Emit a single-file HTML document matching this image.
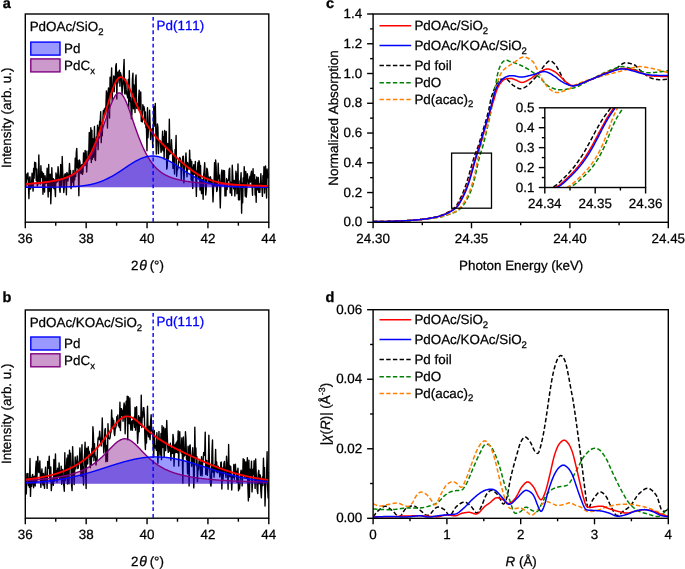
<!DOCTYPE html>
<html><head><meta charset="utf-8"><style>
html,body{margin:0;padding:0;background:#fff;}
body{width:685px;height:569px;overflow:hidden;font-family:"Liberation Sans", sans-serif;}
svg{display:block;will-change:transform;font-kerning:none;font-feature-settings:"kern" 0;}
text{font-kerning:none;text-rendering:geometricPrecision;}
</style></head><body>
<svg width="685" height="569" viewBox="0 0 685 569" font-family='"Liberation Sans", sans-serif'>
<defs><clipPath id="clipab0"><rect x="25.3" y="14" width="243.5" height="208.2"/></clipPath><clipPath id="clipab1"><rect x="25.3" y="310" width="243.5" height="208.2"/></clipPath><clipPath id="clipc"><rect x="373.1" y="14" width="295.2" height="208.3"/></clipPath><clipPath id="clipi"><rect x="544.8" y="107.8" width="100.8" height="79.7"/></clipPath><clipPath id="clipd"><rect x="373.1" y="309.7" width="295.2" height="208.6"/></clipPath></defs>
<rect width="685" height="569" fill="#fff"/>
<g clip-path="url(#clipab0)">
<path d="M25.3,184.03 L25.82,187.3 L26.34,180.91 L26.86,174.03 L27.38,178.83 L27.9,172.83 L28.42,184.47 L28.94,198.65 L29.46,178.26 L29.98,176.8 L30.5,189.09 L31.02,187.58 L31.54,184.74 L32.06,173.19 L32.58,183.16 L33.1,191.17 L33.62,168.46 L34.14,178.27 L34.66,162.18 L35.18,168.93 L35.7,162.74 L36.22,180.56 L36.74,169.03 L37.26,186.09 L37.78,184.77 L38.3,180.89 L38.82,154.91 L39.34,176.87 L39.86,182.27 L40.38,184.02 L40.9,165.66 L41.42,177.32 L41.94,171.69 L42.46,173.52 L42.98,194.29 L43.5,173.4 L44.02,181.98 L44.54,192.13 L45.06,175.7 L45.58,180.9 L46.1,183.31 L46.62,182.72 L47.14,168.26 L47.66,182.71 L48.18,196.95 L48.7,164.43 L49.22,191.23 L49.74,182.88 L50.26,174.3 L50.78,203.74 L51.3,189.82 L51.82,167.8 L52.34,181.95 L52.86,187.48 L53.38,178.82 L53.9,188.48 L54.42,179.99 L54.94,188.11 L55.46,196.64 L55.98,172.85 L56.5,182.59 L57.02,175.01 L57.54,181.51 L58.06,166.65 L58.58,173.34 L59.1,177.51 L59.62,189.68 L60.14,192.31 L60.66,164.44 L61.18,170.24 L61.7,186.3 L62.22,156.46 L62.74,173.5 L63.26,177.46 L63.78,192.55 L64.3,185.99 L64.82,174.35 L65.34,173.7 L65.86,174.84 L66.38,194.68 L66.9,172.43 L67.42,173.63 L67.94,180.83 L68.46,175.25 L68.98,174.15 L69.5,163.52 L70.02,175.77 L70.54,170.61 L71.06,188.61 L71.58,182.52 L72.1,174.53 L72.62,182.12 L73.14,170.33 L73.66,185.87 L74.18,173.49 L74.7,179.87 L75.22,158.09 L75.74,176.44 L76.26,152.75 L76.78,148.35 L77.3,167.78 L77.82,160.5 L78.34,172.28 L78.86,195.79 L79.38,159.86 L79.9,161.75 L80.42,170.81 L80.94,173.61 L81.46,165.3 L81.98,164.38 L82.5,174.34 L83.02,171.61 L83.54,152.85 L84.06,163.32 L84.58,163.97 L85.1,150.48 L85.62,165.17 L86.14,151.25 L86.66,172.04 L87.18,162.03 L87.7,159.97 L88.22,151.03 L88.74,155.74 L89.26,132.4 L89.78,141.75 L90.3,158.65 L90.82,127.7 L91.34,162.44 L91.86,130.08 L92.38,159.23 L92.9,138.66 L93.42,157.26 L93.94,148.17 L94.46,126.5 L94.98,159.43 L95.5,160.56 L96.02,140.64 L96.54,136.7 L97.06,136.72 L97.58,125.1 L98.1,149.62 L98.62,127.53 L99.14,132.2 L99.66,121.25 L100.18,121.77 L100.7,111.82 L101.22,142.64 L101.74,122.89 L102.26,135.69 L102.78,121.69 L103.3,110.76 L103.82,113.81 L104.34,108.98 L104.86,114.68 L105.38,107.85 L105.9,107.05 L106.42,90.88 L106.94,96.68 L107.46,127.95 L107.98,94.89 L108.5,87.92 L109.02,105.05 L109.54,117.97 L110.06,77.14 L110.58,92.55 L111.1,85.07 L111.62,67.84 L112.14,100.91 L112.66,88.91 L113.18,88.82 L113.7,75.94 L114.22,91.61 L114.74,76.42 L115.26,80.89 L115.78,66.19 L116.3,63.7 L116.82,99.09 L117.34,72.15 L117.86,82.89 L118.38,77.71 L118.9,71.46 L119.42,70.18 L119.94,86.23 L120.46,72.78 L120.98,74.92 L121.5,77.49 L122.02,94.18 L122.54,87.37 L123.06,83.49 L123.58,70.45 L124.1,59.36 L124.62,93.18 L125.14,94.1 L125.66,79.15 L126.18,89.65 L126.7,93.91 L127.22,95.54 L127.74,97.78 L128.26,79.45 L128.78,108.15 L129.3,70.61 L129.82,101.18 L130.34,97.19 L130.86,103.62 L131.38,118.69 L131.9,114.38 L132.42,79.34 L132.94,73.14 L133.46,108.72 L133.98,84.89 L134.5,99.79 L135.02,112.57 L135.54,80.1 L136.06,75.04 L136.58,108.22 L137.1,106.49 L137.62,103.74 L138.14,108.69 L138.66,97.82 L139.18,90.26 L139.7,109.27 L140.22,99.68 L140.74,91.89 L141.26,121.29 L141.78,114.83 L142.3,121.97 L142.82,104.66 L143.34,109.97 L143.86,106.48 L144.38,108.89 L144.9,123.86 L145.42,112.06 L145.94,127.67 L146.46,128.3 L146.98,150.81 L147.5,107.66 L148.02,137.74 L148.54,125.99 L149.06,127.72 L149.58,110.15 L150.1,123.52 L150.62,139.55 L151.14,129.77 L151.66,132.54 L152.18,128.51 L152.7,147.45 L153.22,133.25 L153.74,106.47 L154.26,126.11 L154.78,110.72 L155.3,103.47 L155.82,130.03 L156.34,153.94 L156.86,138.45 L157.38,123.84 L157.9,127.32 L158.42,153.65 L158.94,142.13 L159.46,141.32 L159.98,140.62 L160.5,142.31 L161.02,152.32 L161.54,149.74 L162.06,146.12 L162.58,131.17 L163.1,150.8 L163.62,136.66 L164.14,158.98 L164.66,130.55 L165.18,144.94 L165.7,147.04 L166.22,131.51 L166.74,169.12 L167.26,166.43 L167.78,143.55 L168.3,159.05 L168.82,154.78 L169.34,119.25 L169.86,154.23 L170.38,150.96 L170.9,153.21 L171.42,139.74 L171.94,149.96 L172.46,151.56 L172.98,168.44 L173.5,158.69 L174.02,155.11 L174.54,173.93 L175.06,149.53 L175.58,152 L176.1,135.5 L176.62,176.26 L177.14,169.54 L177.66,169.44 L178.18,166.96 L178.7,160.82 L179.22,162.53 L179.74,157.48 L180.26,158.52 L180.78,162.03 L181.3,179.63 L181.82,168.83 L182.34,162.07 L182.86,156.42 L183.38,156.22 L183.9,182.84 L184.42,170.46 L184.94,165.77 L185.46,161.38 L185.98,152.93 L186.5,165.49 L187.02,176.83 L187.54,162.55 L188.06,164.88 L188.58,165.36 L189.1,169.59 L189.62,150.31 L190.14,166.39 L190.66,159.64 L191.18,180.07 L191.7,161.38 L192.22,177.26 L192.74,188.5 L193.26,167.75 L193.78,164.81 L194.3,174.25 L194.82,172.38 L195.34,161.38 L195.86,178.34 L196.38,196.41 L196.9,170.78 L197.42,171.73 L197.94,162.45 L198.46,178.28 L198.98,160.78 L199.5,162.67 L200.02,190.06 L200.54,165.55 L201.06,188.35 L201.58,193.63 L202.1,179.56 L202.62,183.15 L203.14,199.21 L203.66,175.17 L204.18,170.94 L204.7,162.61 L205.22,178.57 L205.74,194.99 L206.26,189.35 L206.78,168.16 L207.3,169.36 L207.82,173.52 L208.34,182.67 L208.86,177.27 L209.38,182.18 L209.9,183.28 L210.42,176.79 L210.94,179.86 L211.46,182.8 L211.98,179.71 L212.5,186.45 L213.02,201.9 L213.54,187.74 L214.06,181.9 L214.58,162.58 L215.1,185.89 L215.62,159.96 L216.14,166.1 L216.66,191.49 L217.18,189.96 L217.7,180.53 L218.22,163.26 L218.74,178.3 L219.26,174.99 L219.78,189.75 L220.3,207.9 L220.82,185.28 L221.34,174.29 L221.86,170.03 L222.38,182.52 L222.9,181.27 L223.42,170.52 L223.94,184.7 L224.46,170.7 L224.98,195.92 L225.5,195.44 L226.02,195.76 L226.54,178.52 L227.06,189.57 L227.58,182.46 L228.1,179.67 L228.62,180.29 L229.14,169.69 L229.66,168.15 L230.18,193.03 L230.7,182.16 L231.22,186.73 L231.74,195.49 L232.26,165.22 L232.78,175.79 L233.3,186.47 L233.82,188.91 L234.34,180.44 L234.86,196.06 L235.38,187.03 L235.9,171.3 L236.42,174.47 L236.94,193.73 L237.46,189.98 L237.98,163.86 L238.5,199.83 L239.02,191.57 L239.54,199.85 L240.06,180.76 L240.58,181.77 L241.1,172.61 L241.62,213.16 L242.14,183.18 L242.66,202.71 L243.18,178.02 L243.7,187.01 L244.22,166.74 L244.74,181.01 L245.26,196.15 L245.78,171.45 L246.3,197.17 L246.82,189.06 L247.34,173.82 L247.86,179.83 L248.38,180.32 L248.9,184.87 L249.42,179.51 L249.94,176.31 L250.46,182.1 L250.98,174.14 L251.5,171.25 L252.02,184.99 L252.54,195.29 L253.06,168.65 L253.58,185.61 L254.1,178.4 L254.62,174.8 L255.14,195.04 L255.66,179.9 L256.18,202.19 L256.7,177.04 L257.22,189.93 L257.74,183.17 L258.26,177.36 L258.78,192.19 L259.3,184 L259.82,192.39 L260.34,185.22 L260.86,173.76 L261.38,184.64 L261.9,186.35 L262.42,196.37 L262.94,175.79 L263.46,185.37 L263.98,166.81 L264.5,193.02 L265.02,173.9 L265.54,165.9 L266.06,185.2 L266.58,198.07 L267.1,169.05 L267.62,173.88 L268.14,177.69 L268.66,173.44" fill="none" stroke="#000" stroke-width="1.4" stroke-linejoin="round"/>
<path d="M25.3,187.2 L25.3,184.02 L25.8,183.99 L26.3,183.95 L26.8,183.92 L27.3,183.88 L27.8,183.85 L28.3,183.81 L28.8,183.78 L29.3,183.74 L29.8,183.71 L30.3,183.67 L30.8,183.63 L31.3,183.59 L31.8,183.55 L32.3,183.51 L32.8,183.47 L33.3,183.43 L33.8,183.39 L34.3,183.35 L34.8,183.3 L35.3,183.26 L35.8,183.21 L36.3,183.17 L36.8,183.12 L37.3,183.08 L37.8,183.03 L38.3,182.98 L38.8,182.93 L39.3,182.88 L39.8,182.83 L40.3,182.78 L40.8,182.72 L41.3,182.67 L41.8,182.61 L42.3,182.56 L42.8,182.5 L43.3,182.44 L43.8,182.38 L44.3,182.32 L44.8,182.26 L45.3,182.2 L45.8,182.14 L46.3,182.07 L46.8,182 L47.3,181.94 L47.8,181.87 L48.3,181.8 L48.8,181.73 L49.3,181.65 L49.8,181.58 L50.3,181.5 L50.8,181.42 L51.3,181.34 L51.8,181.26 L52.3,181.18 L52.8,181.09 L53.3,181.01 L53.8,180.92 L54.3,180.83 L54.8,180.73 L55.3,180.64 L55.8,180.54 L56.3,180.44 L56.8,180.34 L57.3,180.23 L57.8,180.13 L58.3,180.02 L58.8,179.9 L59.3,179.79 L59.8,179.67 L60.3,179.55 L60.8,179.42 L61.3,179.29 L61.8,179.16 L62.3,179.02 L62.8,178.88 L63.3,178.74 L63.8,178.59 L64.3,178.44 L64.8,178.28 L65.3,178.12 L65.8,177.95 L66.3,177.78 L66.8,177.6 L67.3,177.41 L67.8,177.22 L68.3,177.03 L68.8,176.83 L69.3,176.62 L69.8,176.4 L70.3,176.18 L70.8,175.95 L71.3,175.71 L71.8,175.47 L72.3,175.21 L72.8,174.95 L73.3,174.67 L73.8,174.39 L74.3,174.1 L74.8,173.8 L75.3,173.48 L75.8,173.16 L76.3,172.83 L76.8,172.48 L77.3,172.12 L77.8,171.75 L78.3,171.36 L78.8,170.96 L79.3,170.55 L79.8,170.12 L80.3,169.68 L80.8,169.22 L81.3,168.74 L81.8,168.25 L82.3,167.75 L82.8,167.22 L83.3,166.68 L83.8,166.12 L84.3,165.54 L84.8,164.94 L85.3,164.32 L85.8,163.68 L86.3,163.02 L86.8,162.33 L87.3,161.63 L87.8,160.91 L88.3,160.16 L88.8,159.39 L89.3,158.59 L89.8,157.78 L90.3,156.93 L90.8,156.07 L91.3,155.18 L91.8,154.26 L92.3,153.32 L92.8,152.36 L93.3,151.37 L93.8,150.35 L94.3,149.31 L94.8,148.24 L95.3,147.14 L95.8,146.02 L96.3,144.88 L96.8,143.71 L97.3,142.51 L97.8,141.29 L98.3,140.05 L98.8,138.78 L99.3,137.49 L99.8,136.18 L100.3,134.84 L100.8,133.49 L101.3,132.11 L101.8,130.72 L102.3,129.31 L102.8,127.89 L103.3,126.45 L103.8,125 L104.3,123.54 L104.8,122.07 L105.3,120.6 L105.8,119.12 L106.3,117.65 L106.8,116.17 L107.3,114.71 L107.8,113.26 L108.3,111.82 L108.8,110.4 L109.3,109 L109.8,107.63 L110.3,106.29 L110.8,104.99 L111.3,103.72 L111.8,102.51 L112.3,101.34 L112.8,100.23 L113.3,99.18 L113.8,98.2 L114.3,97.29 L114.8,96.45 L115.3,95.7 L115.8,95.02 L116.3,94.44 L116.8,93.94 L117.3,93.54 L117.8,93.24 L118.3,93.03 L118.8,92.92 L119.3,92.91 L119.8,93 L120.3,93.19 L120.8,93.47 L121.3,93.86 L121.8,94.33 L122.3,94.9 L122.8,95.56 L123.3,96.3 L123.8,97.12 L124.3,98.01 L124.8,98.98 L125.3,100.02 L125.8,101.11 L126.3,102.27 L126.8,103.48 L127.3,104.73 L127.8,106.03 L128.3,107.36 L128.8,108.72 L129.3,110.12 L129.8,111.53 L130.3,112.97 L130.8,114.42 L131.3,115.88 L131.8,117.35 L132.3,118.82 L132.8,120.3 L133.3,121.77 L133.8,123.24 L134.3,124.7 L134.8,126.16 L135.3,127.6 L135.8,129.03 L136.3,130.44 L136.8,131.84 L137.3,133.21 L137.8,134.57 L138.3,135.91 L138.8,137.23 L139.3,138.53 L139.8,139.8 L140.3,141.05 L140.8,142.27 L141.3,143.47 L141.8,144.65 L142.3,145.8 L142.8,146.92 L143.3,148.02 L143.8,149.09 L144.3,150.14 L144.8,151.16 L145.3,152.16 L145.8,153.13 L146.3,154.08 L146.8,155 L147.3,155.89 L147.8,156.76 L148.3,157.61 L148.8,158.43 L149.3,159.23 L149.8,160.01 L150.3,160.76 L150.8,161.49 L151.3,162.2 L151.8,162.88 L152.3,163.55 L152.8,164.19 L153.3,164.81 L153.8,165.42 L154.3,166 L154.8,166.57 L155.3,167.11 L155.8,167.64 L156.3,168.15 L156.8,168.65 L157.3,169.12 L157.8,169.59 L158.3,170.03 L158.8,170.46 L159.3,170.88 L159.8,171.28 L160.3,171.67 L160.8,172.04 L161.3,172.41 L161.8,172.76 L162.3,173.09 L162.8,173.42 L163.3,173.74 L163.8,174.04 L164.3,174.33 L164.8,174.62 L165.3,174.89 L165.8,175.16 L166.3,175.41 L166.8,175.66 L167.3,175.9 L167.8,176.13 L168.3,176.36 L168.8,176.58 L169.3,176.79 L169.8,176.99 L170.3,177.19 L170.8,177.38 L171.3,177.56 L171.8,177.74 L172.3,177.91 L172.8,178.08 L173.3,178.25 L173.8,178.4 L174.3,178.56 L174.8,178.71 L175.3,178.85 L175.8,178.99 L176.3,179.13 L176.8,179.26 L177.3,179.39 L177.8,179.52 L178.3,179.64 L178.8,179.76 L179.3,179.88 L179.8,179.99 L180.3,180.1 L180.8,180.21 L181.3,180.32 L181.8,180.42 L182.3,180.52 L182.8,180.62 L183.3,180.71 L183.8,180.81 L184.3,180.9 L184.8,180.99 L185.3,181.08 L185.8,181.16 L186.3,181.24 L186.8,181.33 L187.3,181.41 L187.8,181.49 L188.3,181.56 L188.8,181.64 L189.3,181.71 L189.8,181.78 L190.3,181.85 L190.8,181.92 L191.3,181.99 L191.8,182.06 L192.3,182.12 L192.8,182.19 L193.3,182.25 L193.8,182.31 L194.3,182.37 L194.8,182.43 L195.3,182.49 L195.8,182.55 L196.3,182.6 L196.8,182.66 L197.3,182.71 L197.8,182.77 L198.3,182.82 L198.8,182.87 L199.3,182.92 L199.8,182.97 L200.3,183.02 L200.8,183.07 L201.3,183.11 L201.8,183.16 L202.3,183.21 L202.8,183.25 L203.3,183.29 L203.8,183.34 L204.3,183.38 L204.8,183.42 L205.3,183.46 L205.8,183.5 L206.3,183.54 L206.8,183.58 L207.3,183.62 L207.8,183.66 L208.3,183.7 L208.8,183.74 L209.3,183.77 L209.8,183.81 L210.3,183.84 L210.8,183.88 L211.3,183.91 L211.8,183.95 L212.3,183.98 L212.8,184.01 L213.3,184.04 L213.8,184.08 L214.3,184.11 L214.8,184.14 L215.3,184.17 L215.8,184.2 L216.3,184.23 L216.8,184.26 L217.3,184.28 L217.8,184.31 L218.3,184.34 L218.8,184.37 L219.3,184.4 L219.8,184.42 L220.3,184.45 L220.8,184.47 L221.3,184.5 L221.8,184.52 L222.3,184.55 L222.8,184.57 L223.3,184.6 L223.8,184.62 L224.3,184.65 L224.8,184.67 L225.3,184.69 L225.8,184.71 L226.3,184.74 L226.8,184.76 L227.3,184.78 L227.8,184.8 L228.3,184.82 L228.8,184.84 L229.3,184.86 L229.8,184.88 L230.3,184.9 L230.8,184.92 L231.3,184.94 L231.8,184.96 L232.3,184.98 L232.8,185 L233.3,185.02 L233.8,185.04 L234.3,185.06 L234.8,185.07 L235.3,185.09 L235.8,185.11 L236.3,185.13 L236.8,185.14 L237.3,185.16 L237.8,185.18 L238.3,185.19 L238.8,185.21 L239.3,185.23 L239.8,185.24 L240.3,185.26 L240.8,185.27 L241.3,185.29 L241.8,185.3 L242.3,185.32 L242.8,185.33 L243.3,185.35 L243.8,185.36 L244.3,185.38 L244.8,185.39 L245.3,185.4 L245.8,185.42 L246.3,185.43 L246.8,185.45 L247.3,185.46 L247.8,185.47 L248.3,185.48 L248.8,185.5 L249.3,185.51 L249.8,185.52 L250.3,185.54 L250.8,185.55 L251.3,185.56 L251.8,185.57 L252.3,185.58 L252.8,185.6 L253.3,185.61 L253.8,185.62 L254.3,185.63 L254.8,185.64 L255.3,185.65 L255.8,185.66 L256.3,185.67 L256.8,185.69 L257.3,185.7 L257.8,185.71 L258.3,185.72 L258.8,185.73 L259.3,185.74 L259.8,185.75 L260.3,185.76 L260.8,185.77 L261.3,185.78 L261.8,185.79 L262.3,185.8 L262.8,185.81 L263.3,185.82 L263.8,185.83 L264.3,185.83 L264.8,185.84 L265.3,185.85 L265.8,185.86 L266.3,185.87 L266.8,185.88 L267.3,185.89 L267.8,185.9 L268.3,185.91 L268.8,185.91 L268.8,187.2" fill="#800080" fill-opacity="0.4" stroke="none"/>
<path d="M25.3,187.2 L25.3,187.2 L25.8,187.2 L26.3,187.2 L26.8,187.2 L27.3,187.2 L27.8,187.2 L28.3,187.2 L28.8,187.2 L29.3,187.2 L29.8,187.2 L30.3,187.2 L30.8,187.2 L31.3,187.2 L31.8,187.2 L32.3,187.2 L32.8,187.2 L33.3,187.2 L33.8,187.2 L34.3,187.2 L34.8,187.2 L35.3,187.2 L35.8,187.19 L36.3,187.19 L36.8,187.19 L37.3,187.19 L37.8,187.19 L38.3,187.19 L38.8,187.19 L39.3,187.19 L39.8,187.19 L40.3,187.19 L40.8,187.19 L41.3,187.19 L41.8,187.19 L42.3,187.19 L42.8,187.19 L43.3,187.18 L43.8,187.18 L44.3,187.18 L44.8,187.18 L45.3,187.18 L45.8,187.18 L46.3,187.18 L46.8,187.17 L47.3,187.17 L47.8,187.17 L48.3,187.17 L48.8,187.17 L49.3,187.16 L49.8,187.16 L50.3,187.16 L50.8,187.16 L51.3,187.15 L51.8,187.15 L52.3,187.15 L52.8,187.14 L53.3,187.14 L53.8,187.14 L54.3,187.13 L54.8,187.13 L55.3,187.12 L55.8,187.12 L56.3,187.11 L56.8,187.11 L57.3,187.1 L57.8,187.1 L58.3,187.09 L58.8,187.08 L59.3,187.08 L59.8,187.07 L60.3,187.06 L60.8,187.05 L61.3,187.05 L61.8,187.04 L62.3,187.03 L62.8,187.02 L63.3,187.01 L63.8,186.99 L64.3,186.98 L64.8,186.97 L65.3,186.96 L65.8,186.94 L66.3,186.93 L66.8,186.91 L67.3,186.9 L67.8,186.88 L68.3,186.86 L68.8,186.84 L69.3,186.82 L69.8,186.8 L70.3,186.78 L70.8,186.76 L71.3,186.74 L71.8,186.71 L72.3,186.69 L72.8,186.66 L73.3,186.63 L73.8,186.6 L74.3,186.57 L74.8,186.54 L75.3,186.5 L75.8,186.47 L76.3,186.43 L76.8,186.39 L77.3,186.36 L77.8,186.31 L78.3,186.27 L78.8,186.23 L79.3,186.18 L79.8,186.13 L80.3,186.08 L80.8,186.03 L81.3,185.97 L81.8,185.92 L82.3,185.86 L82.8,185.8 L83.3,185.73 L83.8,185.67 L84.3,185.6 L84.8,185.53 L85.3,185.45 L85.8,185.38 L86.3,185.3 L86.8,185.22 L87.3,185.13 L87.8,185.05 L88.3,184.95 L88.8,184.86 L89.3,184.76 L89.8,184.67 L90.3,184.56 L90.8,184.46 L91.3,184.35 L91.8,184.23 L92.3,184.12 L92.8,184 L93.3,183.87 L93.8,183.75 L94.3,183.61 L94.8,183.48 L95.3,183.34 L95.8,183.2 L96.3,183.05 L96.8,182.9 L97.3,182.75 L97.8,182.59 L98.3,182.42 L98.8,182.26 L99.3,182.08 L99.8,181.91 L100.3,181.73 L100.8,181.55 L101.3,181.36 L101.8,181.16 L102.3,180.97 L102.8,180.76 L103.3,180.56 L103.8,180.35 L104.3,180.13 L104.8,179.91 L105.3,179.69 L105.8,179.46 L106.3,179.23 L106.8,178.99 L107.3,178.75 L107.8,178.5 L108.3,178.25 L108.8,178 L109.3,177.74 L109.8,177.48 L110.3,177.21 L110.8,176.94 L111.3,176.66 L111.8,176.39 L112.3,176.1 L112.8,175.82 L113.3,175.53 L113.8,175.23 L114.3,174.94 L114.8,174.63 L115.3,174.33 L115.8,174.02 L116.3,173.71 L116.8,173.4 L117.3,173.08 L117.8,172.77 L118.3,172.44 L118.8,172.12 L119.3,171.8 L119.8,171.47 L120.3,171.14 L120.8,170.81 L121.3,170.48 L121.8,170.14 L122.3,169.81 L122.8,169.47 L123.3,169.13 L123.8,168.8 L124.3,168.46 L124.8,168.12 L125.3,167.79 L125.8,167.45 L126.3,167.11 L126.8,166.78 L127.3,166.44 L127.8,166.11 L128.3,165.77 L128.8,165.44 L129.3,165.12 L129.8,164.79 L130.3,164.47 L130.8,164.14 L131.3,163.83 L131.8,163.51 L132.3,163.2 L132.8,162.89 L133.3,162.59 L133.8,162.29 L134.3,161.99 L134.8,161.7 L135.3,161.41 L135.8,161.13 L136.3,160.85 L136.8,160.58 L137.3,160.32 L137.8,160.06 L138.3,159.81 L138.8,159.56 L139.3,159.32 L139.8,159.09 L140.3,158.86 L140.8,158.65 L141.3,158.44 L141.8,158.23 L142.3,158.04 L142.8,157.85 L143.3,157.67 L143.8,157.5 L144.3,157.34 L144.8,157.19 L145.3,157.04 L145.8,156.9 L146.3,156.78 L146.8,156.66 L147.3,156.55 L147.8,156.45 L148.3,156.37 L148.8,156.29 L149.3,156.22 L149.8,156.16 L150.3,156.1 L150.8,156.06 L151.3,156.03 L151.8,156.01 L152.3,156 L152.8,156 L153.3,156.01 L153.8,156.03 L154.3,156.06 L154.8,156.1 L155.3,156.14 L155.8,156.2 L156.3,156.27 L156.8,156.35 L157.3,156.44 L157.8,156.53 L158.3,156.64 L158.8,156.75 L159.3,156.88 L159.8,157.01 L160.3,157.16 L160.8,157.31 L161.3,157.47 L161.8,157.64 L162.3,157.81 L162.8,158 L163.3,158.19 L163.8,158.39 L164.3,158.6 L164.8,158.82 L165.3,159.04 L165.8,159.28 L166.3,159.51 L166.8,159.76 L167.3,160.01 L167.8,160.27 L168.3,160.53 L168.8,160.8 L169.3,161.07 L169.8,161.36 L170.3,161.64 L170.8,161.93 L171.3,162.23 L171.8,162.53 L172.3,162.83 L172.8,163.14 L173.3,163.45 L173.8,163.76 L174.3,164.08 L174.8,164.4 L175.3,164.72 L175.8,165.05 L176.3,165.38 L176.8,165.71 L177.3,166.04 L177.8,166.37 L178.3,166.71 L178.8,167.04 L179.3,167.38 L179.8,167.72 L180.3,168.06 L180.8,168.39 L181.3,168.73 L181.8,169.07 L182.3,169.4 L182.8,169.74 L183.3,170.08 L183.8,170.41 L184.3,170.74 L184.8,171.07 L185.3,171.4 L185.8,171.73 L186.3,172.06 L186.8,172.38 L187.3,172.7 L187.8,173.02 L188.3,173.34 L188.8,173.65 L189.3,173.96 L189.8,174.27 L190.3,174.57 L190.8,174.88 L191.3,175.17 L191.8,175.47 L192.3,175.76 L192.8,176.05 L193.3,176.33 L193.8,176.61 L194.3,176.88 L194.8,177.16 L195.3,177.42 L195.8,177.69 L196.3,177.95 L196.8,178.2 L197.3,178.45 L197.8,178.7 L198.3,178.94 L198.8,179.18 L199.3,179.41 L199.8,179.64 L200.3,179.87 L200.8,180.09 L201.3,180.3 L201.8,180.52 L202.3,180.72 L202.8,180.93 L203.3,181.12 L203.8,181.32 L204.3,181.51 L204.8,181.69 L205.3,181.87 L205.8,182.05 L206.3,182.22 L206.8,182.39 L207.3,182.55 L207.8,182.71 L208.3,182.87 L208.8,183.02 L209.3,183.17 L209.8,183.31 L210.3,183.45 L210.8,183.59 L211.3,183.72 L211.8,183.85 L212.3,183.97 L212.8,184.09 L213.3,184.21 L213.8,184.32 L214.3,184.43 L214.8,184.54 L215.3,184.64 L215.8,184.75 L216.3,184.84 L216.8,184.94 L217.3,185.03 L217.8,185.12 L218.3,185.2 L218.8,185.28 L219.3,185.36 L219.8,185.44 L220.3,185.51 L220.8,185.58 L221.3,185.65 L221.8,185.72 L222.3,185.78 L222.8,185.85 L223.3,185.9 L223.8,185.96 L224.3,186.02 L224.8,186.07 L225.3,186.12 L225.8,186.17 L226.3,186.22 L226.8,186.26 L227.3,186.31 L227.8,186.35 L228.3,186.39 L228.8,186.43 L229.3,186.46 L229.8,186.5 L230.3,186.53 L230.8,186.56 L231.3,186.59 L231.8,186.62 L232.3,186.65 L232.8,186.68 L233.3,186.71 L233.8,186.73 L234.3,186.75 L234.8,186.78 L235.3,186.8 L235.8,186.82 L236.3,186.84 L236.8,186.86 L237.3,186.88 L237.8,186.89 L238.3,186.91 L238.8,186.92 L239.3,186.94 L239.8,186.95 L240.3,186.97 L240.8,186.98 L241.3,186.99 L241.8,187 L242.3,187.01 L242.8,187.02 L243.3,187.03 L243.8,187.04 L244.3,187.05 L244.8,187.06 L245.3,187.07 L245.8,187.08 L246.3,187.08 L246.8,187.09 L247.3,187.1 L247.8,187.1 L248.3,187.11 L248.8,187.11 L249.3,187.12 L249.8,187.12 L250.3,187.13 L250.8,187.13 L251.3,187.14 L251.8,187.14 L252.3,187.14 L252.8,187.15 L253.3,187.15 L253.8,187.15 L254.3,187.16 L254.8,187.16 L255.3,187.16 L255.8,187.16 L256.3,187.17 L256.8,187.17 L257.3,187.17 L257.8,187.17 L258.3,187.17 L258.8,187.18 L259.3,187.18 L259.8,187.18 L260.3,187.18 L260.8,187.18 L261.3,187.18 L261.8,187.18 L262.3,187.19 L262.8,187.19 L263.3,187.19 L263.8,187.19 L264.3,187.19 L264.8,187.19 L265.3,187.19 L265.8,187.19 L266.3,187.19 L266.8,187.19 L267.3,187.19 L267.8,187.19 L268.3,187.19 L268.8,187.19 L268.8,187.2" fill="#0000ff" fill-opacity="0.4" stroke="none"/>
<path d="M25.3,184.02 L25.8,183.99 L26.3,183.95 L26.8,183.92 L27.3,183.88 L27.8,183.85 L28.3,183.81 L28.8,183.78 L29.3,183.74 L29.8,183.71 L30.3,183.67 L30.8,183.63 L31.3,183.59 L31.8,183.55 L32.3,183.51 L32.8,183.47 L33.3,183.43 L33.8,183.39 L34.3,183.35 L34.8,183.3 L35.3,183.26 L35.8,183.21 L36.3,183.17 L36.8,183.12 L37.3,183.08 L37.8,183.03 L38.3,182.98 L38.8,182.93 L39.3,182.88 L39.8,182.83 L40.3,182.78 L40.8,182.72 L41.3,182.67 L41.8,182.61 L42.3,182.56 L42.8,182.5 L43.3,182.44 L43.8,182.38 L44.3,182.32 L44.8,182.26 L45.3,182.2 L45.8,182.14 L46.3,182.07 L46.8,182 L47.3,181.94 L47.8,181.87 L48.3,181.8 L48.8,181.73 L49.3,181.65 L49.8,181.58 L50.3,181.5 L50.8,181.42 L51.3,181.34 L51.8,181.26 L52.3,181.18 L52.8,181.09 L53.3,181.01 L53.8,180.92 L54.3,180.83 L54.8,180.73 L55.3,180.64 L55.8,180.54 L56.3,180.44 L56.8,180.34 L57.3,180.23 L57.8,180.13 L58.3,180.02 L58.8,179.9 L59.3,179.79 L59.8,179.67 L60.3,179.55 L60.8,179.42 L61.3,179.29 L61.8,179.16 L62.3,179.02 L62.8,178.88 L63.3,178.74 L63.8,178.59 L64.3,178.44 L64.8,178.28 L65.3,178.12 L65.8,177.95 L66.3,177.78 L66.8,177.6 L67.3,177.41 L67.8,177.22 L68.3,177.03 L68.8,176.83 L69.3,176.62 L69.8,176.4 L70.3,176.18 L70.8,175.95 L71.3,175.71 L71.8,175.47 L72.3,175.21 L72.8,174.95 L73.3,174.67 L73.8,174.39 L74.3,174.1 L74.8,173.8 L75.3,173.48 L75.8,173.16 L76.3,172.83 L76.8,172.48 L77.3,172.12 L77.8,171.75 L78.3,171.36 L78.8,170.96 L79.3,170.55 L79.8,170.12 L80.3,169.68 L80.8,169.22 L81.3,168.74 L81.8,168.25 L82.3,167.75 L82.8,167.22 L83.3,166.68 L83.8,166.12 L84.3,165.54 L84.8,164.94 L85.3,164.32 L85.8,163.68 L86.3,163.02 L86.8,162.33 L87.3,161.63 L87.8,160.91 L88.3,160.16 L88.8,159.39 L89.3,158.59 L89.8,157.78 L90.3,156.93 L90.8,156.07 L91.3,155.18 L91.8,154.26 L92.3,153.32 L92.8,152.36 L93.3,151.37 L93.8,150.35 L94.3,149.31 L94.8,148.24 L95.3,147.14 L95.8,146.02 L96.3,144.88 L96.8,143.71 L97.3,142.51 L97.8,141.29 L98.3,140.05 L98.8,138.78 L99.3,137.49 L99.8,136.18 L100.3,134.84 L100.8,133.49 L101.3,132.11 L101.8,130.72 L102.3,129.31 L102.8,127.89 L103.3,126.45 L103.8,125 L104.3,123.54 L104.8,122.07 L105.3,120.6 L105.8,119.12 L106.3,117.65 L106.8,116.17 L107.3,114.71 L107.8,113.26 L108.3,111.82 L108.8,110.4 L109.3,109 L109.8,107.63 L110.3,106.29 L110.8,104.99 L111.3,103.72 L111.8,102.51 L112.3,101.34 L112.8,100.23 L113.3,99.18 L113.8,98.2 L114.3,97.29 L114.8,96.45 L115.3,95.7 L115.8,95.02 L116.3,94.44 L116.8,93.94 L117.3,93.54 L117.8,93.24 L118.3,93.03 L118.8,92.92 L119.3,92.91 L119.8,93 L120.3,93.19 L120.8,93.47 L121.3,93.86 L121.8,94.33 L122.3,94.9 L122.8,95.56 L123.3,96.3 L123.8,97.12 L124.3,98.01 L124.8,98.98 L125.3,100.02 L125.8,101.11 L126.3,102.27 L126.8,103.48 L127.3,104.73 L127.8,106.03 L128.3,107.36 L128.8,108.72 L129.3,110.12 L129.8,111.53 L130.3,112.97 L130.8,114.42 L131.3,115.88 L131.8,117.35 L132.3,118.82 L132.8,120.3 L133.3,121.77 L133.8,123.24 L134.3,124.7 L134.8,126.16 L135.3,127.6 L135.8,129.03 L136.3,130.44 L136.8,131.84 L137.3,133.21 L137.8,134.57 L138.3,135.91 L138.8,137.23 L139.3,138.53 L139.8,139.8 L140.3,141.05 L140.8,142.27 L141.3,143.47 L141.8,144.65 L142.3,145.8 L142.8,146.92 L143.3,148.02 L143.8,149.09 L144.3,150.14 L144.8,151.16 L145.3,152.16 L145.8,153.13 L146.3,154.08 L146.8,155 L147.3,155.89 L147.8,156.76 L148.3,157.61 L148.8,158.43 L149.3,159.23 L149.8,160.01 L150.3,160.76 L150.8,161.49 L151.3,162.2 L151.8,162.88 L152.3,163.55 L152.8,164.19 L153.3,164.81 L153.8,165.42 L154.3,166 L154.8,166.57 L155.3,167.11 L155.8,167.64 L156.3,168.15 L156.8,168.65 L157.3,169.12 L157.8,169.59 L158.3,170.03 L158.8,170.46 L159.3,170.88 L159.8,171.28 L160.3,171.67 L160.8,172.04 L161.3,172.41 L161.8,172.76 L162.3,173.09 L162.8,173.42 L163.3,173.74 L163.8,174.04 L164.3,174.33 L164.8,174.62 L165.3,174.89 L165.8,175.16 L166.3,175.41 L166.8,175.66 L167.3,175.9 L167.8,176.13 L168.3,176.36 L168.8,176.58 L169.3,176.79 L169.8,176.99 L170.3,177.19 L170.8,177.38 L171.3,177.56 L171.8,177.74 L172.3,177.91 L172.8,178.08 L173.3,178.25 L173.8,178.4 L174.3,178.56 L174.8,178.71 L175.3,178.85 L175.8,178.99 L176.3,179.13 L176.8,179.26 L177.3,179.39 L177.8,179.52 L178.3,179.64 L178.8,179.76 L179.3,179.88 L179.8,179.99 L180.3,180.1 L180.8,180.21 L181.3,180.32 L181.8,180.42 L182.3,180.52 L182.8,180.62 L183.3,180.71 L183.8,180.81 L184.3,180.9 L184.8,180.99 L185.3,181.08 L185.8,181.16 L186.3,181.24 L186.8,181.33 L187.3,181.41 L187.8,181.49 L188.3,181.56 L188.8,181.64 L189.3,181.71 L189.8,181.78 L190.3,181.85 L190.8,181.92 L191.3,181.99 L191.8,182.06 L192.3,182.12 L192.8,182.19 L193.3,182.25 L193.8,182.31 L194.3,182.37 L194.8,182.43 L195.3,182.49 L195.8,182.55 L196.3,182.6 L196.8,182.66 L197.3,182.71 L197.8,182.77 L198.3,182.82 L198.8,182.87 L199.3,182.92 L199.8,182.97 L200.3,183.02 L200.8,183.07 L201.3,183.11 L201.8,183.16 L202.3,183.21 L202.8,183.25 L203.3,183.29 L203.8,183.34 L204.3,183.38 L204.8,183.42 L205.3,183.46 L205.8,183.5 L206.3,183.54 L206.8,183.58 L207.3,183.62 L207.8,183.66 L208.3,183.7 L208.8,183.74 L209.3,183.77 L209.8,183.81 L210.3,183.84 L210.8,183.88 L211.3,183.91 L211.8,183.95 L212.3,183.98 L212.8,184.01 L213.3,184.04 L213.8,184.08 L214.3,184.11 L214.8,184.14 L215.3,184.17 L215.8,184.2 L216.3,184.23 L216.8,184.26 L217.3,184.28 L217.8,184.31 L218.3,184.34 L218.8,184.37 L219.3,184.4 L219.8,184.42 L220.3,184.45 L220.8,184.47 L221.3,184.5 L221.8,184.52 L222.3,184.55 L222.8,184.57 L223.3,184.6 L223.8,184.62 L224.3,184.65 L224.8,184.67 L225.3,184.69 L225.8,184.71 L226.3,184.74 L226.8,184.76 L227.3,184.78 L227.8,184.8 L228.3,184.82 L228.8,184.84 L229.3,184.86 L229.8,184.88 L230.3,184.9 L230.8,184.92 L231.3,184.94 L231.8,184.96 L232.3,184.98 L232.8,185 L233.3,185.02 L233.8,185.04 L234.3,185.06 L234.8,185.07 L235.3,185.09 L235.8,185.11 L236.3,185.13 L236.8,185.14 L237.3,185.16 L237.8,185.18 L238.3,185.19 L238.8,185.21 L239.3,185.23 L239.8,185.24 L240.3,185.26 L240.8,185.27 L241.3,185.29 L241.8,185.3 L242.3,185.32 L242.8,185.33 L243.3,185.35 L243.8,185.36 L244.3,185.38 L244.8,185.39 L245.3,185.4 L245.8,185.42 L246.3,185.43 L246.8,185.45 L247.3,185.46 L247.8,185.47 L248.3,185.48 L248.8,185.5 L249.3,185.51 L249.8,185.52 L250.3,185.54 L250.8,185.55 L251.3,185.56 L251.8,185.57 L252.3,185.58 L252.8,185.6 L253.3,185.61 L253.8,185.62 L254.3,185.63 L254.8,185.64 L255.3,185.65 L255.8,185.66 L256.3,185.67 L256.8,185.69 L257.3,185.7 L257.8,185.71 L258.3,185.72 L258.8,185.73 L259.3,185.74 L259.8,185.75 L260.3,185.76 L260.8,185.77 L261.3,185.78 L261.8,185.79 L262.3,185.8 L262.8,185.81 L263.3,185.82 L263.8,185.83 L264.3,185.83 L264.8,185.84 L265.3,185.85 L265.8,185.86 L266.3,185.87 L266.8,185.88 L267.3,185.89 L267.8,185.9 L268.3,185.91 L268.8,185.91" fill="none" stroke="#800080" stroke-width="1.4"/>
<path d="M25.3,187.2 L25.8,187.2 L26.3,187.2 L26.8,187.2 L27.3,187.2 L27.8,187.2 L28.3,187.2 L28.8,187.2 L29.3,187.2 L29.8,187.2 L30.3,187.2 L30.8,187.2 L31.3,187.2 L31.8,187.2 L32.3,187.2 L32.8,187.2 L33.3,187.2 L33.8,187.2 L34.3,187.2 L34.8,187.2 L35.3,187.2 L35.8,187.19 L36.3,187.19 L36.8,187.19 L37.3,187.19 L37.8,187.19 L38.3,187.19 L38.8,187.19 L39.3,187.19 L39.8,187.19 L40.3,187.19 L40.8,187.19 L41.3,187.19 L41.8,187.19 L42.3,187.19 L42.8,187.19 L43.3,187.18 L43.8,187.18 L44.3,187.18 L44.8,187.18 L45.3,187.18 L45.8,187.18 L46.3,187.18 L46.8,187.17 L47.3,187.17 L47.8,187.17 L48.3,187.17 L48.8,187.17 L49.3,187.16 L49.8,187.16 L50.3,187.16 L50.8,187.16 L51.3,187.15 L51.8,187.15 L52.3,187.15 L52.8,187.14 L53.3,187.14 L53.8,187.14 L54.3,187.13 L54.8,187.13 L55.3,187.12 L55.8,187.12 L56.3,187.11 L56.8,187.11 L57.3,187.1 L57.8,187.1 L58.3,187.09 L58.8,187.08 L59.3,187.08 L59.8,187.07 L60.3,187.06 L60.8,187.05 L61.3,187.05 L61.8,187.04 L62.3,187.03 L62.8,187.02 L63.3,187.01 L63.8,186.99 L64.3,186.98 L64.8,186.97 L65.3,186.96 L65.8,186.94 L66.3,186.93 L66.8,186.91 L67.3,186.9 L67.8,186.88 L68.3,186.86 L68.8,186.84 L69.3,186.82 L69.8,186.8 L70.3,186.78 L70.8,186.76 L71.3,186.74 L71.8,186.71 L72.3,186.69 L72.8,186.66 L73.3,186.63 L73.8,186.6 L74.3,186.57 L74.8,186.54 L75.3,186.5 L75.8,186.47 L76.3,186.43 L76.8,186.39 L77.3,186.36 L77.8,186.31 L78.3,186.27 L78.8,186.23 L79.3,186.18 L79.8,186.13 L80.3,186.08 L80.8,186.03 L81.3,185.97 L81.8,185.92 L82.3,185.86 L82.8,185.8 L83.3,185.73 L83.8,185.67 L84.3,185.6 L84.8,185.53 L85.3,185.45 L85.8,185.38 L86.3,185.3 L86.8,185.22 L87.3,185.13 L87.8,185.05 L88.3,184.95 L88.8,184.86 L89.3,184.76 L89.8,184.67 L90.3,184.56 L90.8,184.46 L91.3,184.35 L91.8,184.23 L92.3,184.12 L92.8,184 L93.3,183.87 L93.8,183.75 L94.3,183.61 L94.8,183.48 L95.3,183.34 L95.8,183.2 L96.3,183.05 L96.8,182.9 L97.3,182.75 L97.8,182.59 L98.3,182.42 L98.8,182.26 L99.3,182.08 L99.8,181.91 L100.3,181.73 L100.8,181.55 L101.3,181.36 L101.8,181.16 L102.3,180.97 L102.8,180.76 L103.3,180.56 L103.8,180.35 L104.3,180.13 L104.8,179.91 L105.3,179.69 L105.8,179.46 L106.3,179.23 L106.8,178.99 L107.3,178.75 L107.8,178.5 L108.3,178.25 L108.8,178 L109.3,177.74 L109.8,177.48 L110.3,177.21 L110.8,176.94 L111.3,176.66 L111.8,176.39 L112.3,176.1 L112.8,175.82 L113.3,175.53 L113.8,175.23 L114.3,174.94 L114.8,174.63 L115.3,174.33 L115.8,174.02 L116.3,173.71 L116.8,173.4 L117.3,173.08 L117.8,172.77 L118.3,172.44 L118.8,172.12 L119.3,171.8 L119.8,171.47 L120.3,171.14 L120.8,170.81 L121.3,170.48 L121.8,170.14 L122.3,169.81 L122.8,169.47 L123.3,169.13 L123.8,168.8 L124.3,168.46 L124.8,168.12 L125.3,167.79 L125.8,167.45 L126.3,167.11 L126.8,166.78 L127.3,166.44 L127.8,166.11 L128.3,165.77 L128.8,165.44 L129.3,165.12 L129.8,164.79 L130.3,164.47 L130.8,164.14 L131.3,163.83 L131.8,163.51 L132.3,163.2 L132.8,162.89 L133.3,162.59 L133.8,162.29 L134.3,161.99 L134.8,161.7 L135.3,161.41 L135.8,161.13 L136.3,160.85 L136.8,160.58 L137.3,160.32 L137.8,160.06 L138.3,159.81 L138.8,159.56 L139.3,159.32 L139.8,159.09 L140.3,158.86 L140.8,158.65 L141.3,158.44 L141.8,158.23 L142.3,158.04 L142.8,157.85 L143.3,157.67 L143.8,157.5 L144.3,157.34 L144.8,157.19 L145.3,157.04 L145.8,156.9 L146.3,156.78 L146.8,156.66 L147.3,156.55 L147.8,156.45 L148.3,156.37 L148.8,156.29 L149.3,156.22 L149.8,156.16 L150.3,156.1 L150.8,156.06 L151.3,156.03 L151.8,156.01 L152.3,156 L152.8,156 L153.3,156.01 L153.8,156.03 L154.3,156.06 L154.8,156.1 L155.3,156.14 L155.8,156.2 L156.3,156.27 L156.8,156.35 L157.3,156.44 L157.8,156.53 L158.3,156.64 L158.8,156.75 L159.3,156.88 L159.8,157.01 L160.3,157.16 L160.8,157.31 L161.3,157.47 L161.8,157.64 L162.3,157.81 L162.8,158 L163.3,158.19 L163.8,158.39 L164.3,158.6 L164.8,158.82 L165.3,159.04 L165.8,159.28 L166.3,159.51 L166.8,159.76 L167.3,160.01 L167.8,160.27 L168.3,160.53 L168.8,160.8 L169.3,161.07 L169.8,161.36 L170.3,161.64 L170.8,161.93 L171.3,162.23 L171.8,162.53 L172.3,162.83 L172.8,163.14 L173.3,163.45 L173.8,163.76 L174.3,164.08 L174.8,164.4 L175.3,164.72 L175.8,165.05 L176.3,165.38 L176.8,165.71 L177.3,166.04 L177.8,166.37 L178.3,166.71 L178.8,167.04 L179.3,167.38 L179.8,167.72 L180.3,168.06 L180.8,168.39 L181.3,168.73 L181.8,169.07 L182.3,169.4 L182.8,169.74 L183.3,170.08 L183.8,170.41 L184.3,170.74 L184.8,171.07 L185.3,171.4 L185.8,171.73 L186.3,172.06 L186.8,172.38 L187.3,172.7 L187.8,173.02 L188.3,173.34 L188.8,173.65 L189.3,173.96 L189.8,174.27 L190.3,174.57 L190.8,174.88 L191.3,175.17 L191.8,175.47 L192.3,175.76 L192.8,176.05 L193.3,176.33 L193.8,176.61 L194.3,176.88 L194.8,177.16 L195.3,177.42 L195.8,177.69 L196.3,177.95 L196.8,178.2 L197.3,178.45 L197.8,178.7 L198.3,178.94 L198.8,179.18 L199.3,179.41 L199.8,179.64 L200.3,179.87 L200.8,180.09 L201.3,180.3 L201.8,180.52 L202.3,180.72 L202.8,180.93 L203.3,181.12 L203.8,181.32 L204.3,181.51 L204.8,181.69 L205.3,181.87 L205.8,182.05 L206.3,182.22 L206.8,182.39 L207.3,182.55 L207.8,182.71 L208.3,182.87 L208.8,183.02 L209.3,183.17 L209.8,183.31 L210.3,183.45 L210.8,183.59 L211.3,183.72 L211.8,183.85 L212.3,183.97 L212.8,184.09 L213.3,184.21 L213.8,184.32 L214.3,184.43 L214.8,184.54 L215.3,184.64 L215.8,184.75 L216.3,184.84 L216.8,184.94 L217.3,185.03 L217.8,185.12 L218.3,185.2 L218.8,185.28 L219.3,185.36 L219.8,185.44 L220.3,185.51 L220.8,185.58 L221.3,185.65 L221.8,185.72 L222.3,185.78 L222.8,185.85 L223.3,185.9 L223.8,185.96 L224.3,186.02 L224.8,186.07 L225.3,186.12 L225.8,186.17 L226.3,186.22 L226.8,186.26 L227.3,186.31 L227.8,186.35 L228.3,186.39 L228.8,186.43 L229.3,186.46 L229.8,186.5 L230.3,186.53 L230.8,186.56 L231.3,186.59 L231.8,186.62 L232.3,186.65 L232.8,186.68 L233.3,186.71 L233.8,186.73 L234.3,186.75 L234.8,186.78 L235.3,186.8 L235.8,186.82 L236.3,186.84 L236.8,186.86 L237.3,186.88 L237.8,186.89 L238.3,186.91 L238.8,186.92 L239.3,186.94 L239.8,186.95 L240.3,186.97 L240.8,186.98 L241.3,186.99 L241.8,187 L242.3,187.01 L242.8,187.02 L243.3,187.03 L243.8,187.04 L244.3,187.05 L244.8,187.06 L245.3,187.07 L245.8,187.08 L246.3,187.08 L246.8,187.09 L247.3,187.1 L247.8,187.1 L248.3,187.11 L248.8,187.11 L249.3,187.12 L249.8,187.12 L250.3,187.13 L250.8,187.13 L251.3,187.14 L251.8,187.14 L252.3,187.14 L252.8,187.15 L253.3,187.15 L253.8,187.15 L254.3,187.16 L254.8,187.16 L255.3,187.16 L255.8,187.16 L256.3,187.17 L256.8,187.17 L257.3,187.17 L257.8,187.17 L258.3,187.17 L258.8,187.18 L259.3,187.18 L259.8,187.18 L260.3,187.18 L260.8,187.18 L261.3,187.18 L261.8,187.18 L262.3,187.19 L262.8,187.19 L263.3,187.19 L263.8,187.19 L264.3,187.19 L264.8,187.19 L265.3,187.19 L265.8,187.19 L266.3,187.19 L266.8,187.19 L267.3,187.19 L267.8,187.19 L268.3,187.19 L268.8,187.19" fill="none" stroke="#0000ff" stroke-width="1.4"/>
<path d="M25.3,184.02 L25.8,183.98 L26.3,183.95 L26.8,183.92 L27.3,183.88 L27.8,183.85 L28.3,183.81 L28.8,183.78 L29.3,183.74 L29.8,183.7 L30.3,183.67 L30.8,183.63 L31.3,183.59 L31.8,183.55 L32.3,183.51 L32.8,183.47 L33.3,183.43 L33.8,183.39 L34.3,183.34 L34.8,183.3 L35.3,183.25 L35.8,183.21 L36.3,183.16 L36.8,183.12 L37.3,183.07 L37.8,183.02 L38.3,182.97 L38.8,182.92 L39.3,182.87 L39.8,182.82 L40.3,182.77 L40.8,182.71 L41.3,182.66 L41.8,182.6 L42.3,182.54 L42.8,182.49 L43.3,182.43 L43.8,182.37 L44.3,182.31 L44.8,182.24 L45.3,182.18 L45.8,182.11 L46.3,182.05 L46.8,181.98 L47.3,181.91 L47.8,181.84 L48.3,181.77 L48.8,181.69 L49.3,181.62 L49.8,181.54 L50.3,181.46 L50.8,181.38 L51.3,181.3 L51.8,181.21 L52.3,181.13 L52.8,181.04 L53.3,180.95 L53.8,180.85 L54.3,180.76 L54.8,180.66 L55.3,180.56 L55.8,180.46 L56.3,180.36 L56.8,180.25 L57.3,180.14 L57.8,180.02 L58.3,179.91 L58.8,179.79 L59.3,179.66 L59.8,179.54 L60.3,179.41 L60.8,179.27 L61.3,179.14 L61.8,178.99 L62.3,178.85 L62.8,178.7 L63.3,178.54 L63.8,178.38 L64.3,178.22 L64.8,178.05 L65.3,177.87 L65.8,177.69 L66.3,177.5 L66.8,177.31 L67.3,177.11 L67.8,176.9 L68.3,176.69 L68.8,176.47 L69.3,176.24 L69.8,176.01 L70.3,175.76 L70.8,175.51 L71.3,175.25 L71.8,174.98 L72.3,174.7 L72.8,174.41 L73.3,174.1 L73.8,173.79 L74.3,173.47 L74.8,173.14 L75.3,172.79 L75.8,172.43 L76.3,172.06 L76.8,171.67 L77.3,171.27 L77.8,170.86 L78.3,170.43 L78.8,169.99 L79.3,169.53 L79.8,169.05 L80.3,168.56 L80.8,168.05 L81.3,167.52 L81.8,166.97 L82.3,166.4 L82.8,165.82 L83.3,165.21 L83.8,164.58 L84.3,163.93 L84.8,163.26 L85.3,162.57 L85.8,161.85 L86.3,161.11 L86.8,160.35 L87.3,159.56 L87.8,158.75 L88.3,157.91 L88.8,157.05 L89.3,156.16 L89.8,155.24 L90.3,154.3 L90.8,153.32 L91.3,152.32 L91.8,151.3 L92.3,150.24 L92.8,149.15 L93.3,148.04 L93.8,146.89 L94.3,145.72 L94.8,144.52 L95.3,143.28 L95.8,142.02 L96.3,140.73 L96.8,139.41 L97.3,138.06 L97.8,136.68 L98.3,135.27 L98.8,133.84 L99.3,132.38 L99.8,130.89 L100.3,129.37 L100.8,127.83 L101.3,126.27 L101.8,124.68 L102.3,123.08 L102.8,121.45 L103.3,119.8 L103.8,118.14 L104.3,116.47 L104.8,114.78 L105.3,113.08 L105.8,111.38 L106.3,109.67 L106.8,107.97 L107.3,106.26 L107.8,104.56 L108.3,102.87 L108.8,101.2 L109.3,99.54 L109.8,97.91 L110.3,96.3 L110.8,94.72 L111.3,93.19 L111.8,91.69 L112.3,90.24 L112.8,88.85 L113.3,87.51 L113.8,86.23 L114.3,85.02 L114.8,83.89 L115.3,82.83 L115.8,81.85 L116.3,80.95 L116.8,80.14 L117.3,79.43 L117.8,78.8 L118.3,78.27 L118.8,77.84 L119.3,77.5 L119.8,77.27 L120.3,77.13 L120.8,77.08 L121.3,77.13 L121.8,77.27 L122.3,77.51 L122.8,77.83 L123.3,78.23 L123.8,78.71 L124.3,79.27 L124.8,79.9 L125.3,80.6 L125.8,81.36 L126.3,82.18 L126.8,83.05 L127.3,83.97 L127.8,84.93 L128.3,85.93 L128.8,86.97 L129.3,88.03 L129.8,89.12 L130.3,90.23 L130.8,91.36 L131.3,92.51 L131.8,93.66 L132.3,94.82 L132.8,95.99 L133.3,97.16 L133.8,98.33 L134.3,99.49 L134.8,100.66 L135.3,101.81 L135.8,102.96 L136.3,104.09 L136.8,105.22 L137.3,106.33 L137.8,107.43 L138.3,108.52 L138.8,109.59 L139.3,110.65 L139.8,111.69 L140.3,112.71 L140.8,113.72 L141.3,114.71 L141.8,115.68 L142.3,116.63 L142.8,117.57 L143.3,118.49 L143.8,119.39 L144.3,120.28 L144.8,121.15 L145.3,122 L145.8,122.84 L146.3,123.65 L146.8,124.46 L147.3,125.25 L147.8,126.02 L148.3,126.77 L148.8,127.52 L149.3,128.25 L149.8,128.96 L150.3,129.66 L150.8,130.35 L151.3,131.03 L151.8,131.69 L152.3,132.35 L152.8,132.99 L153.3,133.62 L153.8,134.25 L154.3,134.86 L154.8,135.46 L155.3,136.06 L155.8,136.64 L156.3,137.22 L156.8,137.8 L157.3,138.36 L157.8,138.92 L158.3,139.47 L158.8,140.02 L159.3,140.56 L159.8,141.09 L160.3,141.62 L160.8,142.15 L161.3,142.67 L161.8,143.19 L162.3,143.71 L162.8,144.22 L163.3,144.73 L163.8,145.23 L164.3,145.74 L164.8,146.24 L165.3,146.74 L165.8,147.23 L166.3,147.73 L166.8,148.22 L167.3,148.71 L167.8,149.2 L168.3,149.69 L168.8,150.18 L169.3,150.66 L169.8,151.14 L170.3,151.63 L170.8,152.11 L171.3,152.59 L171.8,153.07 L172.3,153.54 L172.8,154.02 L173.3,154.49 L173.8,154.97 L174.3,155.44 L174.8,155.91 L175.3,156.38 L175.8,156.84 L176.3,157.31 L176.8,157.77 L177.3,158.23 L177.8,158.69 L178.3,159.15 L178.8,159.61 L179.3,160.06 L179.8,160.51 L180.3,160.96 L180.8,161.4 L181.3,161.85 L181.8,162.29 L182.3,162.72 L182.8,163.16 L183.3,163.59 L183.8,164.02 L184.3,164.44 L184.8,164.86 L185.3,165.28 L185.8,165.69 L186.3,166.1 L186.8,166.51 L187.3,166.91 L187.8,167.31 L188.3,167.7 L188.8,168.09 L189.3,168.47 L189.8,168.85 L190.3,169.23 L190.8,169.6 L191.3,169.96 L191.8,170.32 L192.3,170.68 L192.8,171.03 L193.3,171.38 L193.8,171.72 L194.3,172.06 L194.8,172.39 L195.3,172.71 L195.8,173.03 L196.3,173.35 L196.8,173.66 L197.3,173.97 L197.8,174.27 L198.3,174.56 L198.8,174.85 L199.3,175.13 L199.8,175.41 L200.3,175.69 L200.8,175.96 L201.3,176.22 L201.8,176.48 L202.3,176.73 L202.8,176.98 L203.3,177.22 L203.8,177.46 L204.3,177.69 L204.8,177.92 L205.3,178.14 L205.8,178.35 L206.3,178.57 L206.8,178.77 L207.3,178.98 L207.8,179.17 L208.3,179.37 L208.8,179.56 L209.3,179.74 L209.8,179.92 L210.3,180.09 L210.8,180.26 L211.3,180.43 L211.8,180.59 L212.3,180.75 L212.8,180.9 L213.3,181.05 L213.8,181.2 L214.3,181.34 L214.8,181.48 L215.3,181.61 L215.8,181.74 L216.3,181.87 L216.8,181.99 L217.3,182.11 L217.8,182.23 L218.3,182.34 L218.8,182.45 L219.3,182.56 L219.8,182.66 L220.3,182.76 L220.8,182.86 L221.3,182.95 L221.8,183.04 L222.3,183.13 L222.8,183.22 L223.3,183.3 L223.8,183.38 L224.3,183.46 L224.8,183.54 L225.3,183.61 L225.8,183.68 L226.3,183.75 L226.8,183.82 L227.3,183.89 L227.8,183.95 L228.3,184.01 L228.8,184.07 L229.3,184.13 L229.8,184.18 L230.3,184.24 L230.8,184.29 L231.3,184.34 L231.8,184.39 L232.3,184.44 L232.8,184.48 L233.3,184.53 L233.8,184.57 L234.3,184.61 L234.8,184.65 L235.3,184.69 L235.8,184.73 L236.3,184.77 L236.8,184.8 L237.3,184.84 L237.8,184.87 L238.3,184.9 L238.8,184.93 L239.3,184.97 L239.8,185 L240.3,185.02 L240.8,185.05 L241.3,185.08 L241.8,185.11 L242.3,185.13 L242.8,185.16 L243.3,185.18 L243.8,185.21 L244.3,185.23 L244.8,185.25 L245.3,185.27 L245.8,185.29 L246.3,185.32 L246.8,185.34 L247.3,185.36 L247.8,185.37 L248.3,185.39 L248.8,185.41 L249.3,185.43 L249.8,185.45 L250.3,185.46 L250.8,185.48 L251.3,185.5 L251.8,185.51 L252.3,185.53 L252.8,185.54 L253.3,185.56 L253.8,185.57 L254.3,185.59 L254.8,185.6 L255.3,185.61 L255.8,185.63 L256.3,185.64 L256.8,185.65 L257.3,185.67 L257.8,185.68 L258.3,185.69 L258.8,185.7 L259.3,185.72 L259.8,185.73 L260.3,185.74 L260.8,185.75 L261.3,185.76 L261.8,185.77 L262.3,185.78 L262.8,185.79 L263.3,185.8 L263.8,185.81 L264.3,185.82 L264.8,185.83 L265.3,185.84 L265.8,185.85 L266.3,185.86 L266.8,185.87 L267.3,185.88 L267.8,185.89 L268.3,185.9 L268.8,185.91" fill="none" stroke="#ff0000" stroke-width="1.8"/>
</g>
<line x1="153.14" y1="14" x2="153.14" y2="222.2" stroke="#0000ff" stroke-width="1.4" stroke-dasharray="3.9,2.8" stroke-dashoffset="3.8"/>
<rect x="25.3" y="14" width="243.5" height="208.2" fill="none" stroke="#000" stroke-width="1.4"/>
<line x1="25.3" y1="222.2" x2="25.3" y2="228.2" stroke="#000" stroke-width="1.4"/>
<text x="25.3" y="243.3" font-size="13.4" text-anchor="middle" stroke="#000" stroke-width="0.25" >36</text>
<line x1="55.74" y1="222.2" x2="55.74" y2="225.7" stroke="#000" stroke-width="1.4"/>
<line x1="86.17" y1="222.2" x2="86.17" y2="228.2" stroke="#000" stroke-width="1.4"/>
<text x="86.17" y="243.3" font-size="13.4" text-anchor="middle" stroke="#000" stroke-width="0.25" >38</text>
<line x1="116.61" y1="222.2" x2="116.61" y2="225.7" stroke="#000" stroke-width="1.4"/>
<line x1="147.05" y1="222.2" x2="147.05" y2="228.2" stroke="#000" stroke-width="1.4"/>
<text x="147.05" y="243.3" font-size="13.4" text-anchor="middle" stroke="#000" stroke-width="0.25" >40</text>
<line x1="177.49" y1="222.2" x2="177.49" y2="225.7" stroke="#000" stroke-width="1.4"/>
<line x1="207.93" y1="222.2" x2="207.93" y2="228.2" stroke="#000" stroke-width="1.4"/>
<text x="207.93" y="243.3" font-size="13.4" text-anchor="middle" stroke="#000" stroke-width="0.25" >42</text>
<line x1="238.36" y1="222.2" x2="238.36" y2="225.7" stroke="#000" stroke-width="1.4"/>
<line x1="268.8" y1="222.2" x2="268.8" y2="228.2" stroke="#000" stroke-width="1.4"/>
<text x="268.8" y="243.3" font-size="13.4" text-anchor="middle" stroke="#000" stroke-width="0.25" >44</text>
<text x="147.5" y="270.2" font-size="13.4" text-anchor="middle" stroke="#000" stroke-width="0.25" >2<tspan font-style="italic" dx="0.8" font-size="14">θ</tspan><tspan dx="-1.0"> (°)</tspan></text>
<text x="10.7" y="117.8" font-size="13.4" text-anchor="middle" stroke="#000" stroke-width="0.25" transform="rotate(-90 10.7 117.8)">Intensity (arb. u.)</text>
<text x="29.7" y="30.9" font-size="13.4" text-anchor="start" stroke="#000" stroke-width="0.25" >PdOAc/SiO<tspan font-size="9.5" dy="3.9">2</tspan></text>
<rect x="30.8" y="42.1" width="29.2" height="13" fill="#9999ff" stroke="#0000ff" stroke-width="1.4"/>
<rect x="30.8" y="58.9" width="29.2" height="13" fill="#cc99cc" stroke="#800080" stroke-width="1.4"/>
<text x="64.1" y="53.4" font-size="13.4" text-anchor="start" stroke="#000" stroke-width="0.25" >Pd</text>
<text x="64.1" y="70" font-size="13.4" text-anchor="start" stroke="#000" stroke-width="0.25" >PdC<tspan font-size="9.5" dy="3.9">x</tspan></text>
<text x="156.6" y="29.9" font-size="13.4" text-anchor="start" stroke="#0000ff" stroke-width="0.25" fill="#0000ff">Pd(111)</text>
<g clip-path="url(#clipab1)">
<path d="M25.3,479.94 L25.82,494.63 L26.34,493.08 L26.86,473.71 L27.38,476.01 L27.9,473.4 L28.42,485.55 L28.94,478.52 L29.46,487.4 L29.98,458.44 L30.5,496.41 L31.02,477.81 L31.54,486.4 L32.06,477.22 L32.58,474.45 L33.1,483.77 L33.62,487.73 L34.14,476.2 L34.66,476.67 L35.18,485.96 L35.7,468.51 L36.22,461.23 L36.74,482.47 L37.26,470.49 L37.78,456.43 L38.3,468.71 L38.82,472.49 L39.34,464.29 L39.86,460.85 L40.38,477.86 L40.9,487.39 L41.42,474.65 L41.94,468.83 L42.46,481.37 L42.98,484.99 L43.5,473.49 L44.02,482.85 L44.54,488.33 L45.06,474.21 L45.58,467.3 L46.1,480.21 L46.62,478.98 L47.14,488.42 L47.66,461.53 L48.18,468.41 L48.7,466.3 L49.22,456.1 L49.74,476.89 L50.26,481.28 L50.78,466.89 L51.3,490.67 L51.82,484.19 L52.34,481.87 L52.86,479.19 L53.38,485.29 L53.9,459.34 L54.42,481.15 L54.94,480.87 L55.46,453.95 L55.98,477.68 L56.5,470.77 L57.02,482.28 L57.54,468.31 L58.06,472.9 L58.58,476.82 L59.1,462.84 L59.62,479.38 L60.14,471.22 L60.66,477.82 L61.18,466.12 L61.7,484.19 L62.22,478.54 L62.74,469.45 L63.26,478.46 L63.78,485.41 L64.3,491.26 L64.82,452.74 L65.34,480.52 L65.86,475.54 L66.38,468.95 L66.9,458.3 L67.42,483.93 L67.94,454.92 L68.46,475.59 L68.98,483.77 L69.5,450.31 L70.02,464.92 L70.54,453.12 L71.06,470.68 L71.58,485.01 L72.1,490.61 L72.62,446.64 L73.14,460.2 L73.66,474.64 L74.18,484.46 L74.7,470.83 L75.22,457.07 L75.74,468.82 L76.26,464.9 L76.78,462.43 L77.3,455.97 L77.82,468.64 L78.34,467.41 L78.86,462.43 L79.38,460.6 L79.9,447.9 L80.42,456.84 L80.94,476.2 L81.46,459.57 L81.98,444.63 L82.5,476.65 L83.02,466.89 L83.54,484.98 L84.06,460.65 L84.58,454.12 L85.1,442.14 L85.62,474.27 L86.14,488.53 L86.66,448.22 L87.18,449.83 L87.7,464.06 L88.22,446.77 L88.74,452.93 L89.26,451.53 L89.78,457.49 L90.3,467.73 L90.82,454.52 L91.34,464.7 L91.86,448.27 L92.38,456.68 L92.9,426.72 L93.42,434.4 L93.94,460.74 L94.46,443.6 L94.98,457.09 L95.5,456.1 L96.02,464.93 L96.54,458.23 L97.06,460.14 L97.58,445.93 L98.1,438.22 L98.62,437.2 L99.14,439.54 L99.66,431.1 L100.18,437.55 L100.7,442.45 L101.22,446.01 L101.74,438.13 L102.26,418.04 L102.78,440.07 L103.3,443.06 L103.82,452.97 L104.34,446.06 L104.86,430.28 L105.38,428.57 L105.9,461.78 L106.42,445.54 L106.94,458.22 L107.46,461.27 L107.98,423.79 L108.5,438.11 L109.02,438.32 L109.54,438.89 L110.06,437.97 L110.58,432.99 L111.1,431.94 L111.62,410.05 L112.14,426.25 L112.66,418.17 L113.18,428.57 L113.7,420.35 L114.22,433.52 L114.74,435.45 L115.26,428.31 L115.78,427.79 L116.3,424.33 L116.82,416.81 L117.34,419.88 L117.86,415.07 L118.38,425.92 L118.9,420.61 L119.42,427.45 L119.94,402.32 L120.46,430.56 L120.98,408.8 L121.5,408.8 L122.02,415.42 L122.54,410.36 L123.06,421.18 L123.58,409.7 L124.1,403.05 L124.62,405.77 L125.14,433.7 L125.66,417.1 L126.18,401.25 L126.7,416.51 L127.22,396.13 L127.74,439.7 L128.26,396.61 L128.78,422.76 L129.3,423.72 L129.82,397.92 L130.34,420.85 L130.86,430.1 L131.38,423.43 L131.9,420.99 L132.42,430.18 L132.94,420.24 L133.46,422.83 L133.98,417.15 L134.5,427.31 L135.02,407.33 L135.54,430.11 L136.06,413.75 L136.58,406.62 L137.1,425.79 L137.62,443.3 L138.14,434.31 L138.66,415.77 L139.18,431.79 L139.7,417.48 L140.22,422.17 L140.74,425.36 L141.26,395.09 L141.78,427.6 L142.3,412.5 L142.82,417.21 L143.34,407.82 L143.86,407.77 L144.38,415.53 L144.9,438.42 L145.42,449.52 L145.94,428.57 L146.46,443.13 L146.98,426.47 L147.5,406.15 L148.02,432.58 L148.54,436.74 L149.06,426.19 L149.58,435.8 L150.1,439.62 L150.62,422.05 L151.14,414.8 L151.66,430.93 L152.18,431.47 L152.7,430.11 L153.22,447.21 L153.74,456.79 L154.26,430.51 L154.78,444.76 L155.3,448.14 L155.82,445.68 L156.34,450.18 L156.86,432.74 L157.38,447.08 L157.9,463.31 L158.42,448.56 L158.94,431.33 L159.46,446.82 L159.98,455.22 L160.5,444.54 L161.02,433.4 L161.54,459.63 L162.06,425.63 L162.58,447.48 L163.1,441.42 L163.62,427.31 L164.14,457.18 L164.66,446.81 L165.18,428.59 L165.7,450.51 L166.22,438.19 L166.74,420.55 L167.26,435.65 L167.78,447.55 L168.3,452.37 L168.82,446.93 L169.34,445.75 L169.86,451.2 L170.38,443.21 L170.9,460.32 L171.42,448.13 L171.94,450.16 L172.46,453.42 L172.98,434.36 L173.5,438.84 L174.02,466.15 L174.54,452 L175.06,444.81 L175.58,452.6 L176.1,442.95 L176.62,452.37 L177.14,441.26 L177.66,452.85 L178.18,430.83 L178.7,466.03 L179.22,444.15 L179.74,431.6 L180.26,448.14 L180.78,446.63 L181.3,453.15 L181.82,437.88 L182.34,456.59 L182.86,483.15 L183.38,437.07 L183.9,456.62 L184.42,449.13 L184.94,455.39 L185.46,431.76 L185.98,439.89 L186.5,459.3 L187.02,453.62 L187.54,473.76 L188.06,446.2 L188.58,456.89 L189.1,485.9 L189.62,446.23 L190.14,444.85 L190.66,455.38 L191.18,455.51 L191.7,466.26 L192.22,458.05 L192.74,447.82 L193.26,459.5 L193.78,487.9 L194.3,472.47 L194.82,427.09 L195.34,456.28 L195.86,447.9 L196.38,465.75 L196.9,456.63 L197.42,481.6 L197.94,470.07 L198.46,469.82 L198.98,461.79 L199.5,459.37 L200.02,464.05 L200.54,475.46 L201.06,466.78 L201.58,456.66 L202.1,475.89 L202.62,463.46 L203.14,460.54 L203.66,452.45 L204.18,455.31 L204.7,454.72 L205.22,432.09 L205.74,474.41 L206.26,469.39 L206.78,460.53 L207.3,475.39 L207.82,468.55 L208.34,467.99 L208.86,435.21 L209.38,461.42 L209.9,470.5 L210.42,483.18 L210.94,486.05 L211.46,481.46 L211.98,451.76 L212.5,440.02 L213.02,472.19 L213.54,466.14 L214.06,477.12 L214.58,464.78 L215.1,468.97 L215.62,449.37 L216.14,472 L216.66,461.93 L217.18,471.27 L217.7,472.72 L218.22,466.3 L218.74,471.47 L219.26,467.88 L219.78,476.93 L220.3,474.17 L220.82,462.34 L221.34,462.07 L221.86,488.94 L222.38,468.02 L222.9,480.7 L223.42,474.04 L223.94,463.29 L224.46,461.36 L224.98,471.46 L225.5,473.2 L226.02,477.45 L226.54,456.19 L227.06,464.03 L227.58,469.89 L228.1,489.35 L228.62,444.47 L229.14,476.47 L229.66,465.51 L230.18,476.71 L230.7,466.39 L231.22,476.28 L231.74,490.05 L232.26,476.48 L232.78,477.53 L233.3,477 L233.82,464.43 L234.34,479.23 L234.86,470.88 L235.38,464.2 L235.9,473.1 L236.42,471.11 L236.94,482.34 L237.46,473.49 L237.98,468.14 L238.5,490.68 L239.02,485.54 L239.54,488.85 L240.06,481.51 L240.58,473.56 L241.1,470.21 L241.62,471.92 L242.14,485.86 L242.66,476.58 L243.18,458.77 L243.7,475.14 L244.22,459.78 L244.74,477.68 L245.26,462.42 L245.78,461.87 L246.3,477.51 L246.82,475.42 L247.34,457.77 L247.86,484.91 L248.38,500.89 L248.9,460.14 L249.42,497.25 L249.94,469.26 L250.46,471.53 L250.98,475.17 L251.5,461.1 L252.02,491.91 L252.54,482.99 L253.06,469.17 L253.58,474.58 L254.1,460.82 L254.62,473.98 L255.14,488.42 L255.66,458.89 L256.18,473.27 L256.7,479.87 L257.22,490.02 L257.74,493.46 L258.26,473.39 L258.78,470.32 L259.3,483.68 L259.82,474.69 L260.34,475.36 L260.86,490.93 L261.38,497.8 L261.9,482.01 L262.42,476.99 L262.94,485.56 L263.46,458.26 L263.98,479.14 L264.5,467.61 L265.02,506.07 L265.54,487.57 L266.06,481.19 L266.58,477.53 L267.1,451.79 L267.62,487.74 L268.14,497.99 L268.66,471.84" fill="none" stroke="#000" stroke-width="1.4" stroke-linejoin="round"/>
<path d="M25.3,483.7 L25.3,480.45 L25.8,480.42 L26.3,480.39 L26.8,480.36 L27.3,480.33 L27.8,480.3 L28.3,480.27 L28.8,480.23 L29.3,480.2 L29.8,480.17 L30.3,480.13 L30.8,480.1 L31.3,480.06 L31.8,480.02 L32.3,479.99 L32.8,479.95 L33.3,479.91 L33.8,479.88 L34.3,479.84 L34.8,479.8 L35.3,479.76 L35.8,479.72 L36.3,479.68 L36.8,479.63 L37.3,479.59 L37.8,479.55 L38.3,479.51 L38.8,479.46 L39.3,479.42 L39.8,479.37 L40.3,479.32 L40.8,479.28 L41.3,479.23 L41.8,479.18 L42.3,479.13 L42.8,479.08 L43.3,479.03 L43.8,478.98 L44.3,478.93 L44.8,478.87 L45.3,478.82 L45.8,478.76 L46.3,478.71 L46.8,478.65 L47.3,478.59 L47.8,478.53 L48.3,478.47 L48.8,478.41 L49.3,478.35 L49.8,478.29 L50.3,478.23 L50.8,478.16 L51.3,478.09 L51.8,478.03 L52.3,477.96 L52.8,477.89 L53.3,477.82 L53.8,477.75 L54.3,477.67 L54.8,477.6 L55.3,477.52 L55.8,477.45 L56.3,477.37 L56.8,477.29 L57.3,477.2 L57.8,477.12 L58.3,477.04 L58.8,476.95 L59.3,476.86 L59.8,476.77 L60.3,476.68 L60.8,476.59 L61.3,476.5 L61.8,476.4 L62.3,476.3 L62.8,476.2 L63.3,476.1 L63.8,476 L64.3,475.89 L64.8,475.79 L65.3,475.68 L65.8,475.57 L66.3,475.45 L66.8,475.34 L67.3,475.22 L67.8,475.1 L68.3,474.97 L68.8,474.85 L69.3,474.72 L69.8,474.59 L70.3,474.46 L70.8,474.32 L71.3,474.18 L71.8,474.04 L72.3,473.9 L72.8,473.75 L73.3,473.6 L73.8,473.45 L74.3,473.29 L74.8,473.13 L75.3,472.97 L75.8,472.8 L76.3,472.63 L76.8,472.46 L77.3,472.28 L77.8,472.1 L78.3,471.91 L78.8,471.73 L79.3,471.53 L79.8,471.34 L80.3,471.14 L80.8,470.93 L81.3,470.72 L81.8,470.51 L82.3,470.29 L82.8,470.07 L83.3,469.84 L83.8,469.61 L84.3,469.37 L84.8,469.13 L85.3,468.88 L85.8,468.62 L86.3,468.36 L86.8,468.1 L87.3,467.83 L87.8,467.55 L88.3,467.27 L88.8,466.99 L89.3,466.69 L89.8,466.39 L90.3,466.09 L90.8,465.77 L91.3,465.45 L91.8,465.13 L92.3,464.8 L92.8,464.46 L93.3,464.11 L93.8,463.76 L94.3,463.4 L94.8,463.03 L95.3,462.66 L95.8,462.28 L96.3,461.89 L96.8,461.49 L97.3,461.09 L97.8,460.68 L98.3,460.26 L98.8,459.84 L99.3,459.4 L99.8,458.96 L100.3,458.52 L100.8,458.07 L101.3,457.61 L101.8,457.14 L102.3,456.67 L102.8,456.19 L103.3,455.7 L103.8,455.21 L104.3,454.72 L104.8,454.21 L105.3,453.71 L105.8,453.2 L106.3,452.68 L106.8,452.17 L107.3,451.65 L107.8,451.13 L108.3,450.6 L108.8,450.08 L109.3,449.55 L109.8,449.03 L110.3,448.51 L110.8,447.99 L111.3,447.47 L111.8,446.96 L112.3,446.45 L112.8,445.95 L113.3,445.46 L113.8,444.97 L114.3,444.5 L114.8,444.04 L115.3,443.58 L115.8,443.15 L116.3,442.72 L116.8,442.31 L117.3,441.92 L117.8,441.55 L118.3,441.2 L118.8,440.86 L119.3,440.55 L119.8,440.26 L120.3,440 L120.8,439.76 L121.3,439.54 L121.8,439.35 L122.3,439.19 L122.8,439.05 L123.3,438.95 L123.8,438.87 L124.3,438.82 L124.8,438.8 L125.3,438.81 L125.8,438.85 L126.3,438.91 L126.8,439.01 L127.3,439.13 L127.8,439.28 L128.3,439.46 L128.8,439.67 L129.3,439.9 L129.8,440.15 L130.3,440.43 L130.8,440.74 L131.3,441.06 L131.8,441.41 L132.3,441.77 L132.8,442.15 L133.3,442.56 L133.8,442.97 L134.3,443.41 L134.8,443.85 L135.3,444.31 L135.8,444.78 L136.3,445.26 L136.8,445.75 L137.3,446.25 L137.8,446.76 L138.3,447.27 L138.8,447.78 L139.3,448.3 L139.8,448.82 L140.3,449.34 L140.8,449.87 L141.3,450.39 L141.8,450.92 L142.3,451.44 L142.8,451.96 L143.3,452.48 L143.8,452.99 L144.3,453.5 L144.8,454.01 L145.3,454.52 L145.8,455.01 L146.3,455.51 L146.8,455.99 L147.3,456.48 L147.8,456.95 L148.3,457.42 L148.8,457.88 L149.3,458.34 L149.8,458.79 L150.3,459.23 L150.8,459.66 L151.3,460.09 L151.8,460.51 L152.3,460.92 L152.8,461.33 L153.3,461.73 L153.8,462.12 L154.3,462.5 L154.8,462.88 L155.3,463.25 L155.8,463.61 L156.3,463.97 L156.8,464.32 L157.3,464.66 L157.8,465 L158.3,465.32 L158.8,465.65 L159.3,465.96 L159.8,466.27 L160.3,466.57 L160.8,466.87 L161.3,467.16 L161.8,467.44 L162.3,467.72 L162.8,467.99 L163.3,468.26 L163.8,468.52 L164.3,468.78 L164.8,469.03 L165.3,469.27 L165.8,469.51 L166.3,469.75 L166.8,469.98 L167.3,470.2 L167.8,470.42 L168.3,470.64 L168.8,470.85 L169.3,471.05 L169.8,471.26 L170.3,471.46 L170.8,471.65 L171.3,471.84 L171.8,472.03 L172.3,472.21 L172.8,472.39 L173.3,472.56 L173.8,472.73 L174.3,472.9 L174.8,473.06 L175.3,473.23 L175.8,473.38 L176.3,473.54 L176.8,473.69 L177.3,473.84 L177.8,473.98 L178.3,474.13 L178.8,474.27 L179.3,474.4 L179.8,474.54 L180.3,474.67 L180.8,474.8 L181.3,474.92 L181.8,475.05 L182.3,475.17 L182.8,475.29 L183.3,475.41 L183.8,475.52 L184.3,475.63 L184.8,475.74 L185.3,475.85 L185.8,475.96 L186.3,476.06 L186.8,476.16 L187.3,476.26 L187.8,476.36 L188.3,476.46 L188.8,476.55 L189.3,476.65 L189.8,476.74 L190.3,476.83 L190.8,476.92 L191.3,477 L191.8,477.09 L192.3,477.17 L192.8,477.25 L193.3,477.33 L193.8,477.41 L194.3,477.49 L194.8,477.57 L195.3,477.64 L195.8,477.72 L196.3,477.79 L196.8,477.86 L197.3,477.93 L197.8,478 L198.3,478.07 L198.8,478.13 L199.3,478.2 L199.8,478.26 L200.3,478.33 L200.8,478.39 L201.3,478.45 L201.8,478.51 L202.3,478.57 L202.8,478.63 L203.3,478.69 L203.8,478.74 L204.3,478.8 L204.8,478.85 L205.3,478.91 L205.8,478.96 L206.3,479.01 L206.8,479.06 L207.3,479.11 L207.8,479.16 L208.3,479.21 L208.8,479.26 L209.3,479.31 L209.8,479.35 L210.3,479.4 L210.8,479.44 L211.3,479.49 L211.8,479.53 L212.3,479.57 L212.8,479.62 L213.3,479.66 L213.8,479.7 L214.3,479.74 L214.8,479.78 L215.3,479.82 L215.8,479.86 L216.3,479.9 L216.8,479.94 L217.3,479.97 L217.8,480.01 L218.3,480.05 L218.8,480.08 L219.3,480.12 L219.8,480.15 L220.3,480.19 L220.8,480.22 L221.3,480.25 L221.8,480.29 L222.3,480.32 L222.8,480.35 L223.3,480.38 L223.8,480.41 L224.3,480.44 L224.8,480.47 L225.3,480.5 L225.8,480.53 L226.3,480.56 L226.8,480.59 L227.3,480.62 L227.8,480.65 L228.3,480.67 L228.8,480.7 L229.3,480.73 L229.8,480.75 L230.3,480.78 L230.8,480.81 L231.3,480.83 L231.8,480.86 L232.3,480.88 L232.8,480.91 L233.3,480.93 L233.8,480.95 L234.3,480.98 L234.8,481 L235.3,481.02 L235.8,481.05 L236.3,481.07 L236.8,481.09 L237.3,481.11 L237.8,481.13 L238.3,481.15 L238.8,481.18 L239.3,481.2 L239.8,481.22 L240.3,481.24 L240.8,481.26 L241.3,481.28 L241.8,481.3 L242.3,481.32 L242.8,481.34 L243.3,481.35 L243.8,481.37 L244.3,481.39 L244.8,481.41 L245.3,481.43 L245.8,481.45 L246.3,481.46 L246.8,481.48 L247.3,481.5 L247.8,481.51 L248.3,481.53 L248.8,481.55 L249.3,481.56 L249.8,481.58 L250.3,481.6 L250.8,481.61 L251.3,481.63 L251.8,481.64 L252.3,481.66 L252.8,481.67 L253.3,481.69 L253.8,481.7 L254.3,481.72 L254.8,481.73 L255.3,481.75 L255.8,481.76 L256.3,481.78 L256.8,481.79 L257.3,481.8 L257.8,481.82 L258.3,481.83 L258.8,481.84 L259.3,481.86 L259.8,481.87 L260.3,481.88 L260.8,481.9 L261.3,481.91 L261.8,481.92 L262.3,481.93 L262.8,481.95 L263.3,481.96 L263.8,481.97 L264.3,481.98 L264.8,481.99 L265.3,482.01 L265.8,482.02 L266.3,482.03 L266.8,482.04 L267.3,482.05 L267.8,482.06 L268.3,482.07 L268.8,482.08 L268.8,483.7" fill="#800080" fill-opacity="0.4" stroke="none"/>
<path d="M25.3,483.7 L25.3,482.81 L25.8,482.78 L26.3,482.76 L26.8,482.73 L27.3,482.71 L27.8,482.68 L28.3,482.66 L28.8,482.63 L29.3,482.6 L29.8,482.58 L30.3,482.55 L30.8,482.52 L31.3,482.49 L31.8,482.46 L32.3,482.43 L32.8,482.4 L33.3,482.36 L33.8,482.33 L34.3,482.3 L34.8,482.26 L35.3,482.23 L35.8,482.19 L36.3,482.15 L36.8,482.12 L37.3,482.08 L37.8,482.04 L38.3,482 L38.8,481.96 L39.3,481.92 L39.8,481.88 L40.3,481.84 L40.8,481.79 L41.3,481.75 L41.8,481.7 L42.3,481.66 L42.8,481.61 L43.3,481.56 L43.8,481.51 L44.3,481.47 L44.8,481.42 L45.3,481.36 L45.8,481.31 L46.3,481.26 L46.8,481.21 L47.3,481.15 L47.8,481.1 L48.3,481.04 L48.8,480.98 L49.3,480.92 L49.8,480.86 L50.3,480.8 L50.8,480.74 L51.3,480.68 L51.8,480.62 L52.3,480.55 L52.8,480.49 L53.3,480.42 L53.8,480.35 L54.3,480.28 L54.8,480.21 L55.3,480.14 L55.8,480.07 L56.3,480 L56.8,479.92 L57.3,479.85 L57.8,479.77 L58.3,479.69 L58.8,479.62 L59.3,479.54 L59.8,479.46 L60.3,479.37 L60.8,479.29 L61.3,479.21 L61.8,479.12 L62.3,479.03 L62.8,478.95 L63.3,478.86 L63.8,478.77 L64.3,478.68 L64.8,478.58 L65.3,478.49 L65.8,478.4 L66.3,478.3 L66.8,478.2 L67.3,478.11 L67.8,478.01 L68.3,477.91 L68.8,477.8 L69.3,477.7 L69.8,477.6 L70.3,477.49 L70.8,477.38 L71.3,477.28 L71.8,477.17 L72.3,477.06 L72.8,476.95 L73.3,476.83 L73.8,476.72 L74.3,476.61 L74.8,476.49 L75.3,476.37 L75.8,476.25 L76.3,476.13 L76.8,476.01 L77.3,475.89 L77.8,475.77 L78.3,475.65 L78.8,475.52 L79.3,475.39 L79.8,475.27 L80.3,475.14 L80.8,475.01 L81.3,474.88 L81.8,474.75 L82.3,474.61 L82.8,474.48 L83.3,474.34 L83.8,474.21 L84.3,474.07 L84.8,473.93 L85.3,473.79 L85.8,473.65 L86.3,473.51 L86.8,473.37 L87.3,473.23 L87.8,473.09 L88.3,472.94 L88.8,472.8 L89.3,472.65 L89.8,472.5 L90.3,472.35 L90.8,472.2 L91.3,472.06 L91.8,471.9 L92.3,471.75 L92.8,471.6 L93.3,471.45 L93.8,471.3 L94.3,471.14 L94.8,470.99 L95.3,470.83 L95.8,470.68 L96.3,470.52 L96.8,470.36 L97.3,470.21 L97.8,470.05 L98.3,469.89 L98.8,469.73 L99.3,469.57 L99.8,469.41 L100.3,469.25 L100.8,469.09 L101.3,468.93 L101.8,468.77 L102.3,468.61 L102.8,468.45 L103.3,468.28 L103.8,468.12 L104.3,467.96 L104.8,467.8 L105.3,467.64 L105.8,467.47 L106.3,467.31 L106.8,467.15 L107.3,466.99 L107.8,466.83 L108.3,466.66 L108.8,466.5 L109.3,466.34 L109.8,466.18 L110.3,466.02 L110.8,465.86 L111.3,465.7 L111.8,465.54 L112.3,465.38 L112.8,465.22 L113.3,465.06 L113.8,464.9 L114.3,464.74 L114.8,464.59 L115.3,464.43 L115.8,464.27 L116.3,464.12 L116.8,463.96 L117.3,463.81 L117.8,463.66 L118.3,463.51 L118.8,463.35 L119.3,463.2 L119.8,463.06 L120.3,462.91 L120.8,462.76 L121.3,462.61 L121.8,462.47 L122.3,462.32 L122.8,462.18 L123.3,462.04 L123.8,461.9 L124.3,461.76 L124.8,461.62 L125.3,461.49 L125.8,461.35 L126.3,461.22 L126.8,461.08 L127.3,460.95 L127.8,460.82 L128.3,460.7 L128.8,460.57 L129.3,460.45 L129.8,460.32 L130.3,460.2 L130.8,460.08 L131.3,459.97 L131.8,459.85 L132.3,459.74 L132.8,459.62 L133.3,459.51 L133.8,459.41 L134.3,459.3 L134.8,459.19 L135.3,459.09 L135.8,458.99 L136.3,458.89 L136.8,458.8 L137.3,458.7 L137.8,458.61 L138.3,458.52 L138.8,458.43 L139.3,458.35 L139.8,458.26 L140.3,458.18 L140.8,458.11 L141.3,458.03 L141.8,457.95 L142.3,457.88 L142.8,457.81 L143.3,457.75 L143.8,457.68 L144.3,457.62 L144.8,457.56 L145.3,457.5 L145.8,457.45 L146.3,457.4 L146.8,457.35 L147.3,457.3 L147.8,457.26 L148.3,457.21 L148.8,457.18 L149.3,457.14 L149.8,457.1 L150.3,457.07 L150.8,457.04 L151.3,457.02 L151.8,456.99 L152.3,456.97 L152.8,456.95 L153.3,456.94 L153.8,456.93 L154.3,456.92 L154.8,456.91 L155.3,456.9 L155.8,456.9 L156.3,456.9 L156.8,456.9 L157.3,456.91 L157.8,456.92 L158.3,456.93 L158.8,456.94 L159.3,456.96 L159.8,456.98 L160.3,457 L160.8,457.02 L161.3,457.05 L161.8,457.08 L162.3,457.11 L162.8,457.15 L163.3,457.18 L163.8,457.22 L164.3,457.27 L164.8,457.31 L165.3,457.36 L165.8,457.41 L166.3,457.46 L166.8,457.52 L167.3,457.57 L167.8,457.63 L168.3,457.7 L168.8,457.76 L169.3,457.83 L169.8,457.9 L170.3,457.97 L170.8,458.04 L171.3,458.12 L171.8,458.2 L172.3,458.28 L172.8,458.36 L173.3,458.45 L173.8,458.54 L174.3,458.63 L174.8,458.72 L175.3,458.82 L175.8,458.91 L176.3,459.01 L176.8,459.11 L177.3,459.21 L177.8,459.32 L178.3,459.43 L178.8,459.54 L179.3,459.65 L179.8,459.76 L180.3,459.87 L180.8,459.99 L181.3,460.11 L181.8,460.23 L182.3,460.35 L182.8,460.47 L183.3,460.6 L183.8,460.72 L184.3,460.85 L184.8,460.98 L185.3,461.11 L185.8,461.24 L186.3,461.38 L186.8,461.51 L187.3,461.65 L187.8,461.79 L188.3,461.93 L188.8,462.07 L189.3,462.21 L189.8,462.35 L190.3,462.5 L190.8,462.64 L191.3,462.79 L191.8,462.94 L192.3,463.08 L192.8,463.23 L193.3,463.38 L193.8,463.54 L194.3,463.69 L194.8,463.84 L195.3,464 L195.8,464.15 L196.3,464.31 L196.8,464.46 L197.3,464.62 L197.8,464.77 L198.3,464.93 L198.8,465.09 L199.3,465.25 L199.8,465.41 L200.3,465.57 L200.8,465.73 L201.3,465.89 L201.8,466.05 L202.3,466.21 L202.8,466.37 L203.3,466.53 L203.8,466.7 L204.3,466.86 L204.8,467.02 L205.3,467.18 L205.8,467.34 L206.3,467.51 L206.8,467.67 L207.3,467.83 L207.8,467.99 L208.3,468.15 L208.8,468.32 L209.3,468.48 L209.8,468.64 L210.3,468.8 L210.8,468.96 L211.3,469.12 L211.8,469.28 L212.3,469.44 L212.8,469.6 L213.3,469.76 L213.8,469.92 L214.3,470.08 L214.8,470.24 L215.3,470.39 L215.8,470.55 L216.3,470.71 L216.8,470.86 L217.3,471.02 L217.8,471.17 L218.3,471.33 L218.8,471.48 L219.3,471.63 L219.8,471.78 L220.3,471.93 L220.8,472.09 L221.3,472.23 L221.8,472.38 L222.3,472.53 L222.8,472.68 L223.3,472.82 L223.8,472.97 L224.3,473.11 L224.8,473.26 L225.3,473.4 L225.8,473.54 L226.3,473.68 L226.8,473.82 L227.3,473.96 L227.8,474.1 L228.3,474.24 L228.8,474.37 L229.3,474.51 L229.8,474.64 L230.3,474.77 L230.8,474.9 L231.3,475.03 L231.8,475.16 L232.3,475.29 L232.8,475.42 L233.3,475.55 L233.8,475.67 L234.3,475.79 L234.8,475.92 L235.3,476.04 L235.8,476.16 L236.3,476.28 L236.8,476.4 L237.3,476.51 L237.8,476.63 L238.3,476.74 L238.8,476.86 L239.3,476.97 L239.8,477.08 L240.3,477.19 L240.8,477.3 L241.3,477.41 L241.8,477.51 L242.3,477.62 L242.8,477.72 L243.3,477.82 L243.8,477.93 L244.3,478.03 L244.8,478.13 L245.3,478.22 L245.8,478.32 L246.3,478.42 L246.8,478.51 L247.3,478.6 L247.8,478.7 L248.3,478.79 L248.8,478.88 L249.3,478.96 L249.8,479.05 L250.3,479.14 L250.8,479.22 L251.3,479.31 L251.8,479.39 L252.3,479.47 L252.8,479.55 L253.3,479.63 L253.8,479.71 L254.3,479.79 L254.8,479.86 L255.3,479.94 L255.8,480.01 L256.3,480.08 L256.8,480.16 L257.3,480.23 L257.8,480.3 L258.3,480.36 L258.8,480.43 L259.3,480.5 L259.8,480.56 L260.3,480.63 L260.8,480.69 L261.3,480.75 L261.8,480.82 L262.3,480.88 L262.8,480.93 L263.3,480.99 L263.8,481.05 L264.3,481.11 L264.8,481.16 L265.3,481.22 L265.8,481.27 L266.3,481.32 L266.8,481.37 L267.3,481.43 L267.8,481.48 L268.3,481.52 L268.8,481.57 L268.8,483.7" fill="#0000ff" fill-opacity="0.4" stroke="none"/>
<path d="M25.3,480.45 L25.8,480.42 L26.3,480.39 L26.8,480.36 L27.3,480.33 L27.8,480.3 L28.3,480.27 L28.8,480.23 L29.3,480.2 L29.8,480.17 L30.3,480.13 L30.8,480.1 L31.3,480.06 L31.8,480.02 L32.3,479.99 L32.8,479.95 L33.3,479.91 L33.8,479.88 L34.3,479.84 L34.8,479.8 L35.3,479.76 L35.8,479.72 L36.3,479.68 L36.8,479.63 L37.3,479.59 L37.8,479.55 L38.3,479.51 L38.8,479.46 L39.3,479.42 L39.8,479.37 L40.3,479.32 L40.8,479.28 L41.3,479.23 L41.8,479.18 L42.3,479.13 L42.8,479.08 L43.3,479.03 L43.8,478.98 L44.3,478.93 L44.8,478.87 L45.3,478.82 L45.8,478.76 L46.3,478.71 L46.8,478.65 L47.3,478.59 L47.8,478.53 L48.3,478.47 L48.8,478.41 L49.3,478.35 L49.8,478.29 L50.3,478.23 L50.8,478.16 L51.3,478.09 L51.8,478.03 L52.3,477.96 L52.8,477.89 L53.3,477.82 L53.8,477.75 L54.3,477.67 L54.8,477.6 L55.3,477.52 L55.8,477.45 L56.3,477.37 L56.8,477.29 L57.3,477.2 L57.8,477.12 L58.3,477.04 L58.8,476.95 L59.3,476.86 L59.8,476.77 L60.3,476.68 L60.8,476.59 L61.3,476.5 L61.8,476.4 L62.3,476.3 L62.8,476.2 L63.3,476.1 L63.8,476 L64.3,475.89 L64.8,475.79 L65.3,475.68 L65.8,475.57 L66.3,475.45 L66.8,475.34 L67.3,475.22 L67.8,475.1 L68.3,474.97 L68.8,474.85 L69.3,474.72 L69.8,474.59 L70.3,474.46 L70.8,474.32 L71.3,474.18 L71.8,474.04 L72.3,473.9 L72.8,473.75 L73.3,473.6 L73.8,473.45 L74.3,473.29 L74.8,473.13 L75.3,472.97 L75.8,472.8 L76.3,472.63 L76.8,472.46 L77.3,472.28 L77.8,472.1 L78.3,471.91 L78.8,471.73 L79.3,471.53 L79.8,471.34 L80.3,471.14 L80.8,470.93 L81.3,470.72 L81.8,470.51 L82.3,470.29 L82.8,470.07 L83.3,469.84 L83.8,469.61 L84.3,469.37 L84.8,469.13 L85.3,468.88 L85.8,468.62 L86.3,468.36 L86.8,468.1 L87.3,467.83 L87.8,467.55 L88.3,467.27 L88.8,466.99 L89.3,466.69 L89.8,466.39 L90.3,466.09 L90.8,465.77 L91.3,465.45 L91.8,465.13 L92.3,464.8 L92.8,464.46 L93.3,464.11 L93.8,463.76 L94.3,463.4 L94.8,463.03 L95.3,462.66 L95.8,462.28 L96.3,461.89 L96.8,461.49 L97.3,461.09 L97.8,460.68 L98.3,460.26 L98.8,459.84 L99.3,459.4 L99.8,458.96 L100.3,458.52 L100.8,458.07 L101.3,457.61 L101.8,457.14 L102.3,456.67 L102.8,456.19 L103.3,455.7 L103.8,455.21 L104.3,454.72 L104.8,454.21 L105.3,453.71 L105.8,453.2 L106.3,452.68 L106.8,452.17 L107.3,451.65 L107.8,451.13 L108.3,450.6 L108.8,450.08 L109.3,449.55 L109.8,449.03 L110.3,448.51 L110.8,447.99 L111.3,447.47 L111.8,446.96 L112.3,446.45 L112.8,445.95 L113.3,445.46 L113.8,444.97 L114.3,444.5 L114.8,444.04 L115.3,443.58 L115.8,443.15 L116.3,442.72 L116.8,442.31 L117.3,441.92 L117.8,441.55 L118.3,441.2 L118.8,440.86 L119.3,440.55 L119.8,440.26 L120.3,440 L120.8,439.76 L121.3,439.54 L121.8,439.35 L122.3,439.19 L122.8,439.05 L123.3,438.95 L123.8,438.87 L124.3,438.82 L124.8,438.8 L125.3,438.81 L125.8,438.85 L126.3,438.91 L126.8,439.01 L127.3,439.13 L127.8,439.28 L128.3,439.46 L128.8,439.67 L129.3,439.9 L129.8,440.15 L130.3,440.43 L130.8,440.74 L131.3,441.06 L131.8,441.41 L132.3,441.77 L132.8,442.15 L133.3,442.56 L133.8,442.97 L134.3,443.41 L134.8,443.85 L135.3,444.31 L135.8,444.78 L136.3,445.26 L136.8,445.75 L137.3,446.25 L137.8,446.76 L138.3,447.27 L138.8,447.78 L139.3,448.3 L139.8,448.82 L140.3,449.34 L140.8,449.87 L141.3,450.39 L141.8,450.92 L142.3,451.44 L142.8,451.96 L143.3,452.48 L143.8,452.99 L144.3,453.5 L144.8,454.01 L145.3,454.52 L145.8,455.01 L146.3,455.51 L146.8,455.99 L147.3,456.48 L147.8,456.95 L148.3,457.42 L148.8,457.88 L149.3,458.34 L149.8,458.79 L150.3,459.23 L150.8,459.66 L151.3,460.09 L151.8,460.51 L152.3,460.92 L152.8,461.33 L153.3,461.73 L153.8,462.12 L154.3,462.5 L154.8,462.88 L155.3,463.25 L155.8,463.61 L156.3,463.97 L156.8,464.32 L157.3,464.66 L157.8,465 L158.3,465.32 L158.8,465.65 L159.3,465.96 L159.8,466.27 L160.3,466.57 L160.8,466.87 L161.3,467.16 L161.8,467.44 L162.3,467.72 L162.8,467.99 L163.3,468.26 L163.8,468.52 L164.3,468.78 L164.8,469.03 L165.3,469.27 L165.8,469.51 L166.3,469.75 L166.8,469.98 L167.3,470.2 L167.8,470.42 L168.3,470.64 L168.8,470.85 L169.3,471.05 L169.8,471.26 L170.3,471.46 L170.8,471.65 L171.3,471.84 L171.8,472.03 L172.3,472.21 L172.8,472.39 L173.3,472.56 L173.8,472.73 L174.3,472.9 L174.8,473.06 L175.3,473.23 L175.8,473.38 L176.3,473.54 L176.8,473.69 L177.3,473.84 L177.8,473.98 L178.3,474.13 L178.8,474.27 L179.3,474.4 L179.8,474.54 L180.3,474.67 L180.8,474.8 L181.3,474.92 L181.8,475.05 L182.3,475.17 L182.8,475.29 L183.3,475.41 L183.8,475.52 L184.3,475.63 L184.8,475.74 L185.3,475.85 L185.8,475.96 L186.3,476.06 L186.8,476.16 L187.3,476.26 L187.8,476.36 L188.3,476.46 L188.8,476.55 L189.3,476.65 L189.8,476.74 L190.3,476.83 L190.8,476.92 L191.3,477 L191.8,477.09 L192.3,477.17 L192.8,477.25 L193.3,477.33 L193.8,477.41 L194.3,477.49 L194.8,477.57 L195.3,477.64 L195.8,477.72 L196.3,477.79 L196.8,477.86 L197.3,477.93 L197.8,478 L198.3,478.07 L198.8,478.13 L199.3,478.2 L199.8,478.26 L200.3,478.33 L200.8,478.39 L201.3,478.45 L201.8,478.51 L202.3,478.57 L202.8,478.63 L203.3,478.69 L203.8,478.74 L204.3,478.8 L204.8,478.85 L205.3,478.91 L205.8,478.96 L206.3,479.01 L206.8,479.06 L207.3,479.11 L207.8,479.16 L208.3,479.21 L208.8,479.26 L209.3,479.31 L209.8,479.35 L210.3,479.4 L210.8,479.44 L211.3,479.49 L211.8,479.53 L212.3,479.57 L212.8,479.62 L213.3,479.66 L213.8,479.7 L214.3,479.74 L214.8,479.78 L215.3,479.82 L215.8,479.86 L216.3,479.9 L216.8,479.94 L217.3,479.97 L217.8,480.01 L218.3,480.05 L218.8,480.08 L219.3,480.12 L219.8,480.15 L220.3,480.19 L220.8,480.22 L221.3,480.25 L221.8,480.29 L222.3,480.32 L222.8,480.35 L223.3,480.38 L223.8,480.41 L224.3,480.44 L224.8,480.47 L225.3,480.5 L225.8,480.53 L226.3,480.56 L226.8,480.59 L227.3,480.62 L227.8,480.65 L228.3,480.67 L228.8,480.7 L229.3,480.73 L229.8,480.75 L230.3,480.78 L230.8,480.81 L231.3,480.83 L231.8,480.86 L232.3,480.88 L232.8,480.91 L233.3,480.93 L233.8,480.95 L234.3,480.98 L234.8,481 L235.3,481.02 L235.8,481.05 L236.3,481.07 L236.8,481.09 L237.3,481.11 L237.8,481.13 L238.3,481.15 L238.8,481.18 L239.3,481.2 L239.8,481.22 L240.3,481.24 L240.8,481.26 L241.3,481.28 L241.8,481.3 L242.3,481.32 L242.8,481.34 L243.3,481.35 L243.8,481.37 L244.3,481.39 L244.8,481.41 L245.3,481.43 L245.8,481.45 L246.3,481.46 L246.8,481.48 L247.3,481.5 L247.8,481.51 L248.3,481.53 L248.8,481.55 L249.3,481.56 L249.8,481.58 L250.3,481.6 L250.8,481.61 L251.3,481.63 L251.8,481.64 L252.3,481.66 L252.8,481.67 L253.3,481.69 L253.8,481.7 L254.3,481.72 L254.8,481.73 L255.3,481.75 L255.8,481.76 L256.3,481.78 L256.8,481.79 L257.3,481.8 L257.8,481.82 L258.3,481.83 L258.8,481.84 L259.3,481.86 L259.8,481.87 L260.3,481.88 L260.8,481.9 L261.3,481.91 L261.8,481.92 L262.3,481.93 L262.8,481.95 L263.3,481.96 L263.8,481.97 L264.3,481.98 L264.8,481.99 L265.3,482.01 L265.8,482.02 L266.3,482.03 L266.8,482.04 L267.3,482.05 L267.8,482.06 L268.3,482.07 L268.8,482.08" fill="none" stroke="#800080" stroke-width="1.4"/>
<path d="M25.3,482.81 L25.8,482.78 L26.3,482.76 L26.8,482.73 L27.3,482.71 L27.8,482.68 L28.3,482.66 L28.8,482.63 L29.3,482.6 L29.8,482.58 L30.3,482.55 L30.8,482.52 L31.3,482.49 L31.8,482.46 L32.3,482.43 L32.8,482.4 L33.3,482.36 L33.8,482.33 L34.3,482.3 L34.8,482.26 L35.3,482.23 L35.8,482.19 L36.3,482.15 L36.8,482.12 L37.3,482.08 L37.8,482.04 L38.3,482 L38.8,481.96 L39.3,481.92 L39.8,481.88 L40.3,481.84 L40.8,481.79 L41.3,481.75 L41.8,481.7 L42.3,481.66 L42.8,481.61 L43.3,481.56 L43.8,481.51 L44.3,481.47 L44.8,481.42 L45.3,481.36 L45.8,481.31 L46.3,481.26 L46.8,481.21 L47.3,481.15 L47.8,481.1 L48.3,481.04 L48.8,480.98 L49.3,480.92 L49.8,480.86 L50.3,480.8 L50.8,480.74 L51.3,480.68 L51.8,480.62 L52.3,480.55 L52.8,480.49 L53.3,480.42 L53.8,480.35 L54.3,480.28 L54.8,480.21 L55.3,480.14 L55.8,480.07 L56.3,480 L56.8,479.92 L57.3,479.85 L57.8,479.77 L58.3,479.69 L58.8,479.62 L59.3,479.54 L59.8,479.46 L60.3,479.37 L60.8,479.29 L61.3,479.21 L61.8,479.12 L62.3,479.03 L62.8,478.95 L63.3,478.86 L63.8,478.77 L64.3,478.68 L64.8,478.58 L65.3,478.49 L65.8,478.4 L66.3,478.3 L66.8,478.2 L67.3,478.11 L67.8,478.01 L68.3,477.91 L68.8,477.8 L69.3,477.7 L69.8,477.6 L70.3,477.49 L70.8,477.38 L71.3,477.28 L71.8,477.17 L72.3,477.06 L72.8,476.95 L73.3,476.83 L73.8,476.72 L74.3,476.61 L74.8,476.49 L75.3,476.37 L75.8,476.25 L76.3,476.13 L76.8,476.01 L77.3,475.89 L77.8,475.77 L78.3,475.65 L78.8,475.52 L79.3,475.39 L79.8,475.27 L80.3,475.14 L80.8,475.01 L81.3,474.88 L81.8,474.75 L82.3,474.61 L82.8,474.48 L83.3,474.34 L83.8,474.21 L84.3,474.07 L84.8,473.93 L85.3,473.79 L85.8,473.65 L86.3,473.51 L86.8,473.37 L87.3,473.23 L87.8,473.09 L88.3,472.94 L88.8,472.8 L89.3,472.65 L89.8,472.5 L90.3,472.35 L90.8,472.2 L91.3,472.06 L91.8,471.9 L92.3,471.75 L92.8,471.6 L93.3,471.45 L93.8,471.3 L94.3,471.14 L94.8,470.99 L95.3,470.83 L95.8,470.68 L96.3,470.52 L96.8,470.36 L97.3,470.21 L97.8,470.05 L98.3,469.89 L98.8,469.73 L99.3,469.57 L99.8,469.41 L100.3,469.25 L100.8,469.09 L101.3,468.93 L101.8,468.77 L102.3,468.61 L102.8,468.45 L103.3,468.28 L103.8,468.12 L104.3,467.96 L104.8,467.8 L105.3,467.64 L105.8,467.47 L106.3,467.31 L106.8,467.15 L107.3,466.99 L107.8,466.83 L108.3,466.66 L108.8,466.5 L109.3,466.34 L109.8,466.18 L110.3,466.02 L110.8,465.86 L111.3,465.7 L111.8,465.54 L112.3,465.38 L112.8,465.22 L113.3,465.06 L113.8,464.9 L114.3,464.74 L114.8,464.59 L115.3,464.43 L115.8,464.27 L116.3,464.12 L116.8,463.96 L117.3,463.81 L117.8,463.66 L118.3,463.51 L118.8,463.35 L119.3,463.2 L119.8,463.06 L120.3,462.91 L120.8,462.76 L121.3,462.61 L121.8,462.47 L122.3,462.32 L122.8,462.18 L123.3,462.04 L123.8,461.9 L124.3,461.76 L124.8,461.62 L125.3,461.49 L125.8,461.35 L126.3,461.22 L126.8,461.08 L127.3,460.95 L127.8,460.82 L128.3,460.7 L128.8,460.57 L129.3,460.45 L129.8,460.32 L130.3,460.2 L130.8,460.08 L131.3,459.97 L131.8,459.85 L132.3,459.74 L132.8,459.62 L133.3,459.51 L133.8,459.41 L134.3,459.3 L134.8,459.19 L135.3,459.09 L135.8,458.99 L136.3,458.89 L136.8,458.8 L137.3,458.7 L137.8,458.61 L138.3,458.52 L138.8,458.43 L139.3,458.35 L139.8,458.26 L140.3,458.18 L140.8,458.11 L141.3,458.03 L141.8,457.95 L142.3,457.88 L142.8,457.81 L143.3,457.75 L143.8,457.68 L144.3,457.62 L144.8,457.56 L145.3,457.5 L145.8,457.45 L146.3,457.4 L146.8,457.35 L147.3,457.3 L147.8,457.26 L148.3,457.21 L148.8,457.18 L149.3,457.14 L149.8,457.1 L150.3,457.07 L150.8,457.04 L151.3,457.02 L151.8,456.99 L152.3,456.97 L152.8,456.95 L153.3,456.94 L153.8,456.93 L154.3,456.92 L154.8,456.91 L155.3,456.9 L155.8,456.9 L156.3,456.9 L156.8,456.9 L157.3,456.91 L157.8,456.92 L158.3,456.93 L158.8,456.94 L159.3,456.96 L159.8,456.98 L160.3,457 L160.8,457.02 L161.3,457.05 L161.8,457.08 L162.3,457.11 L162.8,457.15 L163.3,457.18 L163.8,457.22 L164.3,457.27 L164.8,457.31 L165.3,457.36 L165.8,457.41 L166.3,457.46 L166.8,457.52 L167.3,457.57 L167.8,457.63 L168.3,457.7 L168.8,457.76 L169.3,457.83 L169.8,457.9 L170.3,457.97 L170.8,458.04 L171.3,458.12 L171.8,458.2 L172.3,458.28 L172.8,458.36 L173.3,458.45 L173.8,458.54 L174.3,458.63 L174.8,458.72 L175.3,458.82 L175.8,458.91 L176.3,459.01 L176.8,459.11 L177.3,459.21 L177.8,459.32 L178.3,459.43 L178.8,459.54 L179.3,459.65 L179.8,459.76 L180.3,459.87 L180.8,459.99 L181.3,460.11 L181.8,460.23 L182.3,460.35 L182.8,460.47 L183.3,460.6 L183.8,460.72 L184.3,460.85 L184.8,460.98 L185.3,461.11 L185.8,461.24 L186.3,461.38 L186.8,461.51 L187.3,461.65 L187.8,461.79 L188.3,461.93 L188.8,462.07 L189.3,462.21 L189.8,462.35 L190.3,462.5 L190.8,462.64 L191.3,462.79 L191.8,462.94 L192.3,463.08 L192.8,463.23 L193.3,463.38 L193.8,463.54 L194.3,463.69 L194.8,463.84 L195.3,464 L195.8,464.15 L196.3,464.31 L196.8,464.46 L197.3,464.62 L197.8,464.77 L198.3,464.93 L198.8,465.09 L199.3,465.25 L199.8,465.41 L200.3,465.57 L200.8,465.73 L201.3,465.89 L201.8,466.05 L202.3,466.21 L202.8,466.37 L203.3,466.53 L203.8,466.7 L204.3,466.86 L204.8,467.02 L205.3,467.18 L205.8,467.34 L206.3,467.51 L206.8,467.67 L207.3,467.83 L207.8,467.99 L208.3,468.15 L208.8,468.32 L209.3,468.48 L209.8,468.64 L210.3,468.8 L210.8,468.96 L211.3,469.12 L211.8,469.28 L212.3,469.44 L212.8,469.6 L213.3,469.76 L213.8,469.92 L214.3,470.08 L214.8,470.24 L215.3,470.39 L215.8,470.55 L216.3,470.71 L216.8,470.86 L217.3,471.02 L217.8,471.17 L218.3,471.33 L218.8,471.48 L219.3,471.63 L219.8,471.78 L220.3,471.93 L220.8,472.09 L221.3,472.23 L221.8,472.38 L222.3,472.53 L222.8,472.68 L223.3,472.82 L223.8,472.97 L224.3,473.11 L224.8,473.26 L225.3,473.4 L225.8,473.54 L226.3,473.68 L226.8,473.82 L227.3,473.96 L227.8,474.1 L228.3,474.24 L228.8,474.37 L229.3,474.51 L229.8,474.64 L230.3,474.77 L230.8,474.9 L231.3,475.03 L231.8,475.16 L232.3,475.29 L232.8,475.42 L233.3,475.55 L233.8,475.67 L234.3,475.79 L234.8,475.92 L235.3,476.04 L235.8,476.16 L236.3,476.28 L236.8,476.4 L237.3,476.51 L237.8,476.63 L238.3,476.74 L238.8,476.86 L239.3,476.97 L239.8,477.08 L240.3,477.19 L240.8,477.3 L241.3,477.41 L241.8,477.51 L242.3,477.62 L242.8,477.72 L243.3,477.82 L243.8,477.93 L244.3,478.03 L244.8,478.13 L245.3,478.22 L245.8,478.32 L246.3,478.42 L246.8,478.51 L247.3,478.6 L247.8,478.7 L248.3,478.79 L248.8,478.88 L249.3,478.96 L249.8,479.05 L250.3,479.14 L250.8,479.22 L251.3,479.31 L251.8,479.39 L252.3,479.47 L252.8,479.55 L253.3,479.63 L253.8,479.71 L254.3,479.79 L254.8,479.86 L255.3,479.94 L255.8,480.01 L256.3,480.08 L256.8,480.16 L257.3,480.23 L257.8,480.3 L258.3,480.36 L258.8,480.43 L259.3,480.5 L259.8,480.56 L260.3,480.63 L260.8,480.69 L261.3,480.75 L261.8,480.82 L262.3,480.88 L262.8,480.93 L263.3,480.99 L263.8,481.05 L264.3,481.11 L264.8,481.16 L265.3,481.22 L265.8,481.27 L266.3,481.32 L266.8,481.37 L267.3,481.43 L267.8,481.48 L268.3,481.52 L268.8,481.57" fill="none" stroke="#0000ff" stroke-width="1.4"/>
<path d="M25.3,479.56 L25.8,479.51 L26.3,479.45 L26.8,479.4 L27.3,479.34 L27.8,479.28 L28.3,479.22 L28.8,479.16 L29.3,479.1 L29.8,479.04 L30.3,478.98 L30.8,478.91 L31.3,478.85 L31.8,478.78 L32.3,478.71 L32.8,478.65 L33.3,478.58 L33.8,478.5 L34.3,478.43 L34.8,478.36 L35.3,478.28 L35.8,478.21 L36.3,478.13 L36.8,478.05 L37.3,477.97 L37.8,477.89 L38.3,477.81 L38.8,477.72 L39.3,477.64 L39.8,477.55 L40.3,477.46 L40.8,477.37 L41.3,477.28 L41.8,477.18 L42.3,477.09 L42.8,476.99 L43.3,476.89 L43.8,476.79 L44.3,476.69 L44.8,476.59 L45.3,476.48 L45.8,476.38 L46.3,476.27 L46.8,476.16 L47.3,476.04 L47.8,475.93 L48.3,475.81 L48.8,475.69 L49.3,475.57 L49.8,475.45 L50.3,475.33 L50.8,475.2 L51.3,475.07 L51.8,474.94 L52.3,474.81 L52.8,474.67 L53.3,474.54 L53.8,474.4 L54.3,474.26 L54.8,474.11 L55.3,473.96 L55.8,473.82 L56.3,473.66 L56.8,473.51 L57.3,473.35 L57.8,473.19 L58.3,473.03 L58.8,472.87 L59.3,472.7 L59.8,472.53 L60.3,472.36 L60.8,472.18 L61.3,472 L61.8,471.82 L62.3,471.64 L62.8,471.45 L63.3,471.26 L63.8,471.07 L64.3,470.87 L64.8,470.67 L65.3,470.47 L65.8,470.26 L66.3,470.05 L66.8,469.84 L67.3,469.62 L67.8,469.4 L68.3,469.18 L68.8,468.95 L69.3,468.72 L69.8,468.49 L70.3,468.25 L70.8,468.01 L71.3,467.76 L71.8,467.51 L72.3,467.25 L72.8,467 L73.3,466.73 L73.8,466.47 L74.3,466.2 L74.8,465.92 L75.3,465.64 L75.8,465.35 L76.3,465.07 L76.8,464.77 L77.3,464.47 L77.8,464.17 L78.3,463.86 L78.8,463.55 L79.3,463.23 L79.8,462.9 L80.3,462.57 L80.8,462.24 L81.3,461.9 L81.8,461.55 L82.3,461.2 L82.8,460.85 L83.3,460.48 L83.8,460.11 L84.3,459.74 L84.8,459.36 L85.3,458.97 L85.8,458.58 L86.3,458.18 L86.8,457.77 L87.3,457.36 L87.8,456.94 L88.3,456.51 L88.8,456.08 L89.3,455.64 L89.8,455.19 L90.3,454.74 L90.8,454.28 L91.3,453.81 L91.8,453.33 L92.3,452.85 L92.8,452.36 L93.3,451.86 L93.8,451.35 L94.3,450.84 L94.8,450.32 L95.3,449.79 L95.8,449.25 L96.3,448.71 L96.8,448.15 L97.3,447.59 L97.8,447.03 L98.3,446.45 L98.8,445.87 L99.3,445.27 L99.8,444.68 L100.3,444.07 L100.8,443.46 L101.3,442.84 L101.8,442.21 L102.3,441.57 L102.8,440.93 L103.3,440.29 L103.8,439.63 L104.3,438.98 L104.8,438.31 L105.3,437.64 L105.8,436.97 L106.3,436.3 L106.8,435.62 L107.3,434.93 L107.8,434.25 L108.3,433.57 L108.8,432.88 L109.3,432.19 L109.8,431.51 L110.3,430.82 L110.8,430.14 L111.3,429.47 L111.8,428.8 L112.3,428.13 L112.8,427.47 L113.3,426.82 L113.8,426.18 L114.3,425.54 L114.8,424.92 L115.3,424.31 L115.8,423.72 L116.3,423.14 L116.8,422.58 L117.3,422.03 L117.8,421.51 L118.3,421 L118.8,420.52 L119.3,420.06 L119.8,419.62 L120.3,419.2 L120.8,418.82 L121.3,418.45 L121.8,418.12 L122.3,417.81 L122.8,417.54 L123.3,417.29 L123.8,417.07 L124.3,416.88 L124.8,416.72 L125.3,416.6 L125.8,416.5 L126.3,416.43 L126.8,416.39 L127.3,416.39 L127.8,416.41 L128.3,416.46 L128.8,416.54 L129.3,416.64 L129.8,416.78 L130.3,416.94 L130.8,417.12 L131.3,417.33 L131.8,417.56 L132.3,417.81 L132.8,418.08 L133.3,418.37 L133.8,418.68 L134.3,419.01 L134.8,419.35 L135.3,419.7 L135.8,420.07 L136.3,420.46 L136.8,420.85 L137.3,421.25 L137.8,421.67 L138.3,422.09 L138.8,422.51 L139.3,422.95 L139.8,423.38 L140.3,423.83 L140.8,424.27 L141.3,424.72 L141.8,425.17 L142.3,425.62 L142.8,426.07 L143.3,426.52 L143.8,426.98 L144.3,427.43 L144.8,427.87 L145.3,428.32 L145.8,428.76 L146.3,429.2 L146.8,429.64 L147.3,430.08 L147.8,430.51 L148.3,430.93 L148.8,431.36 L149.3,431.78 L149.8,432.19 L150.3,432.6 L150.8,433.01 L151.3,433.41 L151.8,433.81 L152.3,434.2 L152.8,434.59 L153.3,434.97 L153.8,435.35 L154.3,435.72 L154.8,436.09 L155.3,436.45 L155.8,436.81 L156.3,437.17 L156.8,437.52 L157.3,437.87 L157.8,438.21 L158.3,438.55 L158.8,438.89 L159.3,439.22 L159.8,439.55 L160.3,439.87 L160.8,440.19 L161.3,440.51 L161.8,440.82 L162.3,441.13 L162.8,441.44 L163.3,441.74 L163.8,442.04 L164.3,442.34 L164.8,442.64 L165.3,442.93 L165.8,443.22 L166.3,443.51 L166.8,443.79 L167.3,444.07 L167.8,444.35 L168.3,444.63 L168.8,444.91 L169.3,445.18 L169.8,445.45 L170.3,445.72 L170.8,445.99 L171.3,446.26 L171.8,446.53 L172.3,446.79 L172.8,447.05 L173.3,447.31 L173.8,447.57 L174.3,447.83 L174.8,448.09 L175.3,448.34 L175.8,448.6 L176.3,448.85 L176.8,449.1 L177.3,449.35 L177.8,449.6 L178.3,449.85 L178.8,450.1 L179.3,450.35 L179.8,450.6 L180.3,450.84 L180.8,451.09 L181.3,451.33 L181.8,451.57 L182.3,451.82 L182.8,452.06 L183.3,452.3 L183.8,452.54 L184.3,452.78 L184.8,453.02 L185.3,453.26 L185.8,453.5 L186.3,453.74 L186.8,453.98 L187.3,454.21 L187.8,454.45 L188.3,454.69 L188.8,454.92 L189.3,455.16 L189.8,455.39 L190.3,455.63 L190.8,455.86 L191.3,456.09 L191.8,456.32 L192.3,456.56 L192.8,456.79 L193.3,457.02 L193.8,457.25 L194.3,457.48 L194.8,457.71 L195.3,457.94 L195.8,458.17 L196.3,458.39 L196.8,458.62 L197.3,458.85 L197.8,459.07 L198.3,459.3 L198.8,459.52 L199.3,459.75 L199.8,459.97 L200.3,460.2 L200.8,460.42 L201.3,460.64 L201.8,460.86 L202.3,461.08 L202.8,461.3 L203.3,461.52 L203.8,461.74 L204.3,461.95 L204.8,462.17 L205.3,462.39 L205.8,462.6 L206.3,462.82 L206.8,463.03 L207.3,463.24 L207.8,463.45 L208.3,463.66 L208.8,463.87 L209.3,464.08 L209.8,464.29 L210.3,464.5 L210.8,464.71 L211.3,464.91 L211.8,465.11 L212.3,465.32 L212.8,465.52 L213.3,465.72 L213.8,465.92 L214.3,466.12 L214.8,466.32 L215.3,466.52 L215.8,466.71 L216.3,466.91 L216.8,467.1 L217.3,467.29 L217.8,467.48 L218.3,467.67 L218.8,467.86 L219.3,468.05 L219.8,468.24 L220.3,468.42 L220.8,468.6 L221.3,468.79 L221.8,468.97 L222.3,469.15 L222.8,469.33 L223.3,469.51 L223.8,469.68 L224.3,469.86 L224.8,470.03 L225.3,470.2 L225.8,470.37 L226.3,470.54 L226.8,470.71 L227.3,470.88 L227.8,471.04 L228.3,471.21 L228.8,471.37 L229.3,471.53 L229.8,471.69 L230.3,471.85 L230.8,472.01 L231.3,472.17 L231.8,472.32 L232.3,472.47 L232.8,472.62 L233.3,472.77 L233.8,472.92 L234.3,473.07 L234.8,473.22 L235.3,473.36 L235.8,473.5 L236.3,473.65 L236.8,473.79 L237.3,473.92 L237.8,474.06 L238.3,474.2 L238.8,474.33 L239.3,474.47 L239.8,474.6 L240.3,474.73 L240.8,474.86 L241.3,474.98 L241.8,475.11 L242.3,475.23 L242.8,475.36 L243.3,475.48 L243.8,475.6 L244.3,475.72 L244.8,475.83 L245.3,475.95 L245.8,476.07 L246.3,476.18 L246.8,476.29 L247.3,476.4 L247.8,476.51 L248.3,476.62 L248.8,476.72 L249.3,476.83 L249.8,476.93 L250.3,477.03 L250.8,477.14 L251.3,477.24 L251.8,477.33 L252.3,477.43 L252.8,477.53 L253.3,477.62 L253.8,477.71 L254.3,477.81 L254.8,477.9 L255.3,477.99 L255.8,478.07 L256.3,478.16 L256.8,478.25 L257.3,478.33 L257.8,478.41 L258.3,478.5 L258.8,478.58 L259.3,478.66 L259.8,478.73 L260.3,478.81 L260.8,478.89 L261.3,478.96 L261.8,479.04 L262.3,479.11 L262.8,479.18 L263.3,479.25 L263.8,479.32 L264.3,479.39 L264.8,479.46 L265.3,479.52 L265.8,479.59 L266.3,479.65 L266.8,479.72 L267.3,479.78 L267.8,479.84 L268.3,479.9 L268.8,479.96" fill="none" stroke="#ff0000" stroke-width="1.8"/>
</g>
<line x1="153.14" y1="310" x2="153.14" y2="518.2" stroke="#0000ff" stroke-width="1.4" stroke-dasharray="3.9,2.8" stroke-dashoffset="3.8"/>
<rect x="25.3" y="310" width="243.5" height="208.2" fill="none" stroke="#000" stroke-width="1.4"/>
<line x1="25.3" y1="518.2" x2="25.3" y2="524.2" stroke="#000" stroke-width="1.4"/>
<text x="25.3" y="539.3" font-size="13.4" text-anchor="middle" stroke="#000" stroke-width="0.25" >36</text>
<line x1="55.74" y1="518.2" x2="55.74" y2="521.7" stroke="#000" stroke-width="1.4"/>
<line x1="86.17" y1="518.2" x2="86.17" y2="524.2" stroke="#000" stroke-width="1.4"/>
<text x="86.17" y="539.3" font-size="13.4" text-anchor="middle" stroke="#000" stroke-width="0.25" >38</text>
<line x1="116.61" y1="518.2" x2="116.61" y2="521.7" stroke="#000" stroke-width="1.4"/>
<line x1="147.05" y1="518.2" x2="147.05" y2="524.2" stroke="#000" stroke-width="1.4"/>
<text x="147.05" y="539.3" font-size="13.4" text-anchor="middle" stroke="#000" stroke-width="0.25" >40</text>
<line x1="177.49" y1="518.2" x2="177.49" y2="521.7" stroke="#000" stroke-width="1.4"/>
<line x1="207.93" y1="518.2" x2="207.93" y2="524.2" stroke="#000" stroke-width="1.4"/>
<text x="207.93" y="539.3" font-size="13.4" text-anchor="middle" stroke="#000" stroke-width="0.25" >42</text>
<line x1="238.36" y1="518.2" x2="238.36" y2="521.7" stroke="#000" stroke-width="1.4"/>
<line x1="268.8" y1="518.2" x2="268.8" y2="524.2" stroke="#000" stroke-width="1.4"/>
<text x="268.8" y="539.3" font-size="13.4" text-anchor="middle" stroke="#000" stroke-width="0.25" >44</text>
<text x="147.5" y="566.2" font-size="13.4" text-anchor="middle" stroke="#000" stroke-width="0.25" >2<tspan font-style="italic" dx="0.8" font-size="14">θ</tspan><tspan dx="-1.0"> (°)</tspan></text>
<text x="10.7" y="413.8" font-size="13.4" text-anchor="middle" stroke="#000" stroke-width="0.25" transform="rotate(-90 10.7 413.8)">Intensity (arb. u.)</text>
<text x="29.7" y="326.9" font-size="13.4" text-anchor="start" stroke="#000" stroke-width="0.25" >PdOAc/KOAc/SiO<tspan font-size="9.5" dy="3.9">2</tspan></text>
<rect x="30.8" y="337" width="29.2" height="13" fill="#9999ff" stroke="#0000ff" stroke-width="1.4"/>
<rect x="30.8" y="353.8" width="29.2" height="13" fill="#cc99cc" stroke="#800080" stroke-width="1.4"/>
<text x="64.1" y="348.3" font-size="13.4" text-anchor="start" stroke="#000" stroke-width="0.25" >Pd</text>
<text x="64.1" y="364.9" font-size="13.4" text-anchor="start" stroke="#000" stroke-width="0.25" >PdC<tspan font-size="9.5" dy="3.9">x</tspan></text>
<text x="156.6" y="325.9" font-size="13.4" text-anchor="start" stroke="#0000ff" stroke-width="0.25" fill="#0000ff">Pd(111)</text>
<g clip-path="url(#clipc)">
<path d="M373.1,221.6 L373.52,221.6 L373.94,221.6 L374.37,221.6 L374.79,221.6 L375.21,221.59 L375.63,221.59 L376.06,221.59 L376.48,221.59 L376.9,221.58 L377.32,221.58 L377.75,221.57 L378.17,221.57 L378.59,221.56 L379.01,221.56 L379.43,221.55 L379.86,221.55 L380.28,221.54 L380.7,221.53 L381.12,221.52 L381.55,221.52 L381.97,221.51 L382.39,221.5 L382.81,221.49 L383.24,221.48 L383.66,221.47 L384.08,221.46 L384.5,221.45 L384.92,221.44 L385.35,221.43 L385.77,221.42 L386.19,221.41 L386.61,221.4 L387.04,221.39 L387.46,221.38 L387.88,221.37 L388.3,221.36 L388.73,221.34 L389.15,221.33 L389.57,221.32 L389.99,221.31 L390.42,221.29 L390.84,221.28 L391.26,221.27 L391.68,221.25 L392.1,221.24 L392.53,221.23 L392.95,221.21 L393.37,221.2 L393.79,221.19 L394.22,221.17 L394.64,221.16 L395.06,221.14 L395.48,221.13 L395.91,221.11 L396.33,221.1 L396.75,221.09 L397.17,221.07 L397.59,221.06 L398.02,221.04 L398.44,221.03 L398.86,221.01 L399.28,221 L399.71,220.98 L400.13,220.97 L400.55,220.95 L400.97,220.93 L401.4,220.92 L401.82,220.9 L402.24,220.88 L402.66,220.86 L403.08,220.84 L403.51,220.82 L403.93,220.8 L404.35,220.78 L404.77,220.76 L405.2,220.73 L405.62,220.71 L406.04,220.69 L406.46,220.66 L406.89,220.64 L407.31,220.61 L407.73,220.59 L408.15,220.56 L408.57,220.53 L409,220.5 L409.42,220.48 L409.84,220.45 L410.26,220.42 L410.69,220.39 L411.11,220.36 L411.53,220.33 L411.95,220.3 L412.38,220.26 L412.8,220.23 L413.22,220.2 L413.64,220.17 L414.06,220.13 L414.49,220.1 L414.91,220.06 L415.33,220.03 L415.75,219.99 L416.18,219.95 L416.6,219.92 L417.02,219.88 L417.44,219.84 L417.87,219.8 L418.29,219.76 L418.71,219.72 L419.13,219.68 L419.55,219.64 L419.98,219.6 L420.4,219.56 L420.82,219.52 L421.24,219.47 L421.67,219.42 L422.09,219.37 L422.51,219.32 L422.93,219.27 L423.36,219.21 L423.78,219.16 L424.2,219.1 L424.62,219.04 L425.05,218.98 L425.47,218.91 L425.89,218.85 L426.31,218.78 L426.73,218.72 L427.16,218.65 L427.58,218.58 L428,218.5 L428.42,218.43 L428.85,218.35 L429.27,218.28 L429.69,218.2 L430.11,218.12 L430.54,218.04 L430.96,217.96 L431.38,217.87 L431.8,217.79 L432.22,217.7 L432.65,217.62 L433.07,217.53 L433.49,217.44 L433.91,217.35 L434.34,217.26 L434.76,217.16 L435.18,217.07 L435.6,216.97 L436.03,216.86 L436.45,216.75 L436.87,216.64 L437.29,216.52 L437.71,216.4 L438.14,216.27 L438.56,216.14 L438.98,216.01 L439.4,215.87 L439.83,215.73 L440.25,215.59 L440.67,215.44 L441.09,215.29 L441.52,215.14 L441.94,214.99 L442.36,214.83 L442.78,214.66 L443.2,214.49 L443.63,214.32 L444.05,214.14 L444.47,213.95 L444.89,213.76 L445.32,213.57 L445.74,213.36 L446.16,213.16 L446.58,212.94 L447.01,212.73 L447.43,212.5 L447.85,212.27 L448.27,212.04 L448.69,211.8 L449.12,211.55 L449.54,211.3 L449.96,211.04 L450.38,210.78 L450.81,210.51 L451.23,210.24 L451.65,209.95 L452.07,209.66 L452.5,209.35 L452.92,209.02 L453.34,208.68 L453.76,208.32 L454.18,207.95 L454.61,207.55 L455.03,207.13 L455.45,206.68 L455.87,206.18 L456.3,205.6 L456.72,204.96 L457.14,204.28 L457.56,203.55 L457.99,202.79 L458.41,202 L458.83,201.2 L459.25,200.39 L459.68,199.59 L460.1,198.78 L460.52,197.96 L460.94,197.1 L461.36,196.23 L461.79,195.32 L462.21,194.4 L462.63,193.44 L463.05,192.46 L463.48,191.45 L463.9,190.41 L464.32,189.32 L464.74,188.2 L465.17,187.04 L465.59,185.85 L466.01,184.63 L466.43,183.37 L466.85,182.05 L467.28,180.7 L467.7,179.31 L468.12,177.9 L468.54,176.46 L468.97,174.98 L469.39,173.47 L469.81,171.95 L470.23,170.43 L470.66,168.93 L471.08,167.41 L471.5,165.89 L471.92,164.4 L472.34,162.95 L472.77,161.54 L473.19,160.15 L473.61,158.79 L474.03,157.46 L474.46,156.18 L474.88,154.95 L475.3,153.8 L475.72,152.71 L476.15,151.65 L476.57,150.59 L476.99,149.5 L477.41,148.36 L477.83,147.14 L478.26,145.89 L478.68,144.6 L479.1,143.29 L479.52,141.95 L479.95,140.59 L480.37,139.21 L480.79,137.81 L481.21,136.39 L481.64,134.97 L482.06,133.54 L482.48,132.11 L482.9,130.67 L483.32,129.24 L483.75,127.82 L484.17,126.4 L484.59,124.99 L485.01,123.57 L485.44,122.14 L485.86,120.69 L486.28,119.21 L486.7,117.71 L487.13,116.17 L487.55,114.58 L487.97,112.95 L488.39,111.27 L488.82,109.51 L489.24,107.52 L489.66,105.36 L490.08,103.15 L490.5,101.01 L490.93,99.08 L491.35,97.46 L491.77,96.01 L492.19,94.65 L492.62,93.39 L493.04,92.2 L493.46,91.08 L493.88,90.03 L494.31,89.01 L494.73,88.01 L495.15,87.03 L495.57,86.09 L495.99,85.19 L496.42,84.37 L496.84,83.61 L497.26,82.95 L497.68,82.4 L498.11,81.87 L498.53,81.36 L498.95,80.87 L499.37,80.43 L499.8,80.03 L500.22,79.71 L500.64,79.47 L501.06,79.32 L501.48,79.27 L501.91,79.22 L502.33,79.18 L502.75,79.14 L503.17,79.11 L503.6,79.08 L504.02,79.06 L504.44,79.04 L504.86,79.02 L505.29,79.01 L505.71,79 L506.13,79 L506.55,79.08 L506.97,79.29 L507.4,79.6 L507.82,79.98 L508.24,80.41 L508.66,80.86 L509.09,81.3 L509.51,81.72 L509.93,82.11 L510.35,82.55 L510.78,83.01 L511.2,83.48 L511.62,83.95 L512.04,84.4 L512.46,84.8 L512.89,85.15 L513.31,85.44 L513.73,85.71 L514.15,85.99 L514.58,86.26 L515,86.53 L515.42,86.79 L515.84,87.04 L516.27,87.29 L516.69,87.52 L517.11,87.74 L517.53,87.94 L517.95,88.13 L518.38,88.3 L518.8,88.44 L519.22,88.57 L519.64,88.67 L520.07,88.74 L520.49,88.79 L520.91,88.8 L521.33,88.78 L521.76,88.72 L522.18,88.62 L522.6,88.48 L523.02,88.32 L523.45,88.13 L523.87,87.92 L524.29,87.69 L524.71,87.45 L525.13,87.19 L525.56,86.93 L525.98,86.65 L526.4,86.38 L526.82,86.11 L527.25,85.84 L527.67,85.53 L528.09,85.19 L528.51,84.81 L528.94,84.41 L529.36,83.98 L529.78,83.54 L530.2,83.08 L530.62,82.62 L531.05,82.14 L531.47,81.67 L531.89,81.2 L532.31,80.73 L532.74,80.28 L533.16,79.84 L533.58,79.4 L534,78.97 L534.43,78.54 L534.85,78.11 L535.27,77.68 L535.69,77.24 L536.11,76.8 L536.54,76.35 L536.96,75.89 L537.38,75.41 L537.8,74.92 L538.23,74.41 L538.65,73.88 L539.07,73.31 L539.49,72.7 L539.92,72.05 L540.34,71.39 L540.76,70.71 L541.18,70.03 L541.6,69.35 L542.03,68.68 L542.45,68.04 L542.87,67.43 L543.29,66.85 L543.72,66.32 L544.14,65.85 L544.56,65.37 L544.98,64.88 L545.41,64.38 L545.83,63.88 L546.25,63.39 L546.67,62.93 L547.09,62.48 L547.52,62.08 L547.94,61.71 L548.36,61.4 L548.78,61.14 L549.21,60.95 L549.63,60.83 L550.05,60.8 L550.47,60.85 L550.9,60.97 L551.32,61.15 L551.74,61.39 L552.16,61.67 L552.58,62 L553.01,62.36 L553.43,62.75 L553.85,63.16 L554.27,63.58 L554.7,64 L555.12,64.42 L555.54,64.91 L555.96,65.47 L556.39,66.1 L556.81,66.79 L557.23,67.52 L557.65,68.28 L558.08,69.06 L558.5,69.84 L558.92,70.63 L559.34,71.4 L559.76,72.17 L560.19,73 L560.61,73.86 L561.03,74.73 L561.45,75.61 L561.88,76.46 L562.3,77.28 L562.72,78.04 L563.14,78.73 L563.57,79.41 L563.99,80.1 L564.41,80.77 L564.83,81.41 L565.25,82 L565.68,82.54 L566.1,83 L566.52,83.37 L566.94,83.66 L567.37,83.93 L567.79,84.2 L568.21,84.45 L568.63,84.69 L569.06,84.91 L569.48,85.12 L569.9,85.31 L570.32,85.48 L570.74,85.62 L571.17,85.73 L571.59,85.82 L572.01,85.88 L572.43,85.9 L572.86,85.89 L573.28,85.85 L573.7,85.79 L574.12,85.7 L574.55,85.6 L574.97,85.47 L575.39,85.33 L575.81,85.18 L576.23,85.02 L576.66,84.85 L577.08,84.67 L577.5,84.49 L577.92,84.31 L578.35,84.13 L578.77,83.96 L579.19,83.79 L579.61,83.63 L580.04,83.49 L580.46,83.35 L580.88,83.21 L581.3,83.06 L581.72,82.92 L582.15,82.78 L582.57,82.63 L582.99,82.49 L583.41,82.34 L583.84,82.2 L584.26,82.05 L584.68,81.91 L585.1,81.76 L585.53,81.61 L585.95,81.46 L586.37,81.31 L586.79,81.16 L587.22,81.01 L587.64,80.86 L588.06,80.71 L588.48,80.56 L588.9,80.4 L589.33,80.25 L589.75,80.09 L590.17,79.94 L590.59,79.78 L591.02,79.62 L591.44,79.47 L591.86,79.31 L592.28,79.16 L592.71,79 L593.13,78.85 L593.55,78.69 L593.97,78.54 L594.39,78.38 L594.82,78.23 L595.24,78.07 L595.66,77.91 L596.08,77.76 L596.51,77.6 L596.93,77.44 L597.35,77.28 L597.77,77.12 L598.2,76.96 L598.62,76.8 L599.04,76.63 L599.46,76.47 L599.88,76.3 L600.31,76.14 L600.73,75.97 L601.15,75.8 L601.57,75.63 L602,75.46 L602.42,75.28 L602.84,75.11 L603.26,74.93 L603.69,74.75 L604.11,74.57 L604.53,74.39 L604.95,74.21 L605.37,74.02 L605.8,73.83 L606.22,73.64 L606.64,73.45 L607.06,73.25 L607.49,73.05 L607.91,72.85 L608.33,72.65 L608.75,72.43 L609.18,72.22 L609.6,71.99 L610.02,71.77 L610.44,71.54 L610.86,71.3 L611.29,71.06 L611.71,70.82 L612.13,70.58 L612.55,70.34 L612.98,70.09 L613.4,69.84 L613.82,69.6 L614.24,69.35 L614.67,69.1 L615.09,68.85 L615.51,68.6 L615.93,68.36 L616.35,68.11 L616.78,67.87 L617.2,67.62 L617.62,67.35 L618.04,67.07 L618.47,66.77 L618.89,66.45 L619.31,66.13 L619.73,65.8 L620.16,65.48 L620.58,65.15 L621,64.83 L621.42,64.53 L621.85,64.23 L622.27,63.96 L622.69,63.7 L623.11,63.47 L623.53,63.27 L623.96,63.1 L624.38,62.96 L624.8,62.86 L625.22,62.81 L625.65,62.8 L626.07,62.81 L626.49,62.83 L626.91,62.87 L627.34,62.91 L627.76,62.97 L628.18,63.03 L628.6,63.11 L629.02,63.19 L629.45,63.29 L629.87,63.39 L630.29,63.5 L630.71,63.62 L631.14,63.74 L631.56,63.88 L631.98,64.01 L632.4,64.16 L632.83,64.31 L633.25,64.46 L633.67,64.62 L634.09,64.78 L634.51,64.95 L634.94,65.17 L635.36,65.45 L635.78,65.79 L636.2,66.18 L636.63,66.6 L637.05,67.04 L637.47,67.51 L637.89,67.97 L638.32,68.44 L638.74,68.9 L639.16,69.33 L639.58,69.74 L640,70.1 L640.43,70.45 L640.85,70.8 L641.27,71.16 L641.69,71.52 L642.12,71.88 L642.54,72.24 L642.96,72.6 L643.38,72.96 L643.81,73.32 L644.23,73.68 L644.65,74.03 L645.07,74.38 L645.49,74.72 L645.92,75.05 L646.34,75.38 L646.76,75.69 L647.18,76 L647.61,76.29 L648.03,76.57 L648.45,76.83 L648.87,77.09 L649.3,77.32 L649.72,77.54 L650.14,77.74 L650.56,77.92 L650.98,78.08 L651.41,78.22 L651.83,78.33 L652.25,78.45 L652.67,78.56 L653.1,78.66 L653.52,78.77 L653.94,78.87 L654.36,78.97 L654.79,79.06 L655.21,79.15 L655.63,79.24 L656.05,79.32 L656.48,79.39 L656.9,79.46 L657.32,79.52 L657.74,79.57 L658.16,79.62 L658.59,79.65 L659.01,79.68 L659.43,79.69 L659.85,79.7 L660.28,79.7 L660.7,79.7 L661.12,79.69 L661.54,79.68 L661.97,79.67 L662.39,79.65 L662.81,79.63 L663.23,79.61 L663.65,79.58 L664.08,79.54 L664.5,79.51 L664.92,79.46 L665.34,79.41 L665.77,79.36 L666.19,79.3 L666.61,79.23 L667.03,79.16 L667.46,79.08 L667.88,78.99 L668.3,78.9" fill="none" stroke="#000000" stroke-width="1.5" stroke-linejoin="round" stroke-dasharray="4.4,2.3"/>
<path d="M373.1,221.6 L373.52,221.6 L373.94,221.6 L374.37,221.6 L374.79,221.6 L375.21,221.59 L375.63,221.59 L376.06,221.59 L376.48,221.59 L376.9,221.58 L377.32,221.58 L377.75,221.57 L378.17,221.57 L378.59,221.56 L379.01,221.56 L379.43,221.55 L379.86,221.55 L380.28,221.54 L380.7,221.53 L381.12,221.52 L381.55,221.52 L381.97,221.51 L382.39,221.5 L382.81,221.49 L383.24,221.48 L383.66,221.47 L384.08,221.46 L384.5,221.45 L384.92,221.44 L385.35,221.43 L385.77,221.42 L386.19,221.41 L386.61,221.4 L387.04,221.39 L387.46,221.38 L387.88,221.37 L388.3,221.36 L388.73,221.34 L389.15,221.33 L389.57,221.32 L389.99,221.31 L390.42,221.29 L390.84,221.28 L391.26,221.27 L391.68,221.25 L392.1,221.24 L392.53,221.23 L392.95,221.21 L393.37,221.2 L393.79,221.19 L394.22,221.17 L394.64,221.16 L395.06,221.14 L395.48,221.13 L395.91,221.11 L396.33,221.1 L396.75,221.09 L397.17,221.07 L397.59,221.06 L398.02,221.04 L398.44,221.03 L398.86,221.01 L399.28,221 L399.71,220.98 L400.13,220.97 L400.55,220.95 L400.97,220.93 L401.4,220.91 L401.82,220.89 L402.24,220.87 L402.66,220.85 L403.08,220.83 L403.51,220.81 L403.93,220.79 L404.35,220.77 L404.77,220.74 L405.2,220.72 L405.62,220.69 L406.04,220.67 L406.46,220.64 L406.89,220.62 L407.31,220.59 L407.73,220.56 L408.15,220.53 L408.57,220.51 L409,220.48 L409.42,220.45 L409.84,220.42 L410.26,220.39 L410.69,220.36 L411.11,220.33 L411.53,220.29 L411.95,220.26 L412.38,220.23 L412.8,220.2 L413.22,220.16 L413.64,220.13 L414.06,220.1 L414.49,220.06 L414.91,220.03 L415.33,219.99 L415.75,219.96 L416.18,219.93 L416.6,219.89 L417.02,219.85 L417.44,219.82 L417.87,219.78 L418.29,219.75 L418.71,219.71 L419.13,219.67 L419.55,219.64 L419.98,219.6 L420.4,219.56 L420.82,219.53 L421.24,219.49 L421.67,219.45 L422.09,219.41 L422.51,219.37 L422.93,219.32 L423.36,219.28 L423.78,219.24 L424.2,219.19 L424.62,219.15 L425.05,219.1 L425.47,219.06 L425.89,219.01 L426.31,218.96 L426.73,218.91 L427.16,218.86 L427.58,218.81 L428,218.76 L428.42,218.71 L428.85,218.66 L429.27,218.61 L429.69,218.55 L430.11,218.5 L430.54,218.45 L430.96,218.39 L431.38,218.34 L431.8,218.28 L432.22,218.22 L432.65,218.17 L433.07,218.11 L433.49,218.05 L433.91,217.99 L434.34,217.94 L434.76,217.88 L435.18,217.82 L435.6,217.76 L436.03,217.7 L436.45,217.64 L436.87,217.58 L437.29,217.52 L437.71,217.46 L438.14,217.39 L438.56,217.32 L438.98,217.26 L439.4,217.18 L439.83,217.11 L440.25,217.03 L440.67,216.95 L441.09,216.87 L441.52,216.78 L441.94,216.69 L442.36,216.59 L442.78,216.49 L443.2,216.37 L443.63,216.25 L444.05,216.12 L444.47,215.99 L444.89,215.85 L445.32,215.71 L445.74,215.56 L446.16,215.41 L446.58,215.26 L447.01,215.11 L447.43,214.95 L447.85,214.79 L448.27,214.64 L448.69,214.48 L449.12,214.33 L449.54,214.18 L449.96,214.03 L450.38,213.88 L450.81,213.74 L451.23,213.59 L451.65,213.45 L452.07,213.3 L452.5,213.15 L452.92,212.99 L453.34,212.83 L453.76,212.67 L454.18,212.5 L454.61,212.32 L455.03,212.13 L455.45,211.93 L455.87,211.73 L456.3,211.51 L456.72,211.28 L457.14,211.03 L457.56,210.76 L457.99,210.47 L458.41,210.17 L458.83,209.84 L459.25,209.5 L459.68,209.14 L460.1,208.77 L460.52,208.38 L460.94,207.97 L461.36,207.55 L461.79,207.11 L462.21,206.65 L462.63,206.16 L463.05,205.63 L463.48,205.05 L463.9,204.44 L464.32,203.79 L464.74,203.12 L465.17,202.42 L465.59,201.71 L466.01,200.98 L466.43,200.23 L466.85,199.48 L467.28,198.72 L467.7,197.93 L468.12,197.11 L468.54,196.26 L468.97,195.38 L469.39,194.46 L469.81,193.51 L470.23,192.53 L470.66,191.5 L471.08,190.42 L471.5,189.28 L471.92,188.08 L472.34,186.82 L472.77,185.51 L473.19,184.12 L473.61,182.64 L474.03,181.06 L474.46,179.4 L474.88,177.68 L475.3,175.87 L475.72,173.94 L476.15,171.95 L476.57,169.97 L476.99,167.97 L477.41,165.94 L477.83,163.96 L478.26,162.09 L478.68,160.3 L479.1,158.56 L479.52,156.9 L479.95,155.36 L480.37,153.97 L480.79,152.69 L481.21,151.48 L481.64,150.26 L482.06,148.98 L482.48,147.56 L482.9,146.06 L483.32,144.48 L483.75,142.85 L484.17,141.17 L484.59,139.45 L485.01,137.69 L485.44,135.9 L485.86,134.08 L486.28,132.25 L486.7,130.41 L487.13,128.57 L487.55,126.73 L487.97,124.9 L488.39,123.1 L488.82,121.3 L489.24,119.47 L489.66,117.6 L490.08,115.65 L490.5,113.62 L490.93,111.46 L491.35,109.15 L491.77,106.46 L492.19,103.5 L492.62,100.46 L493.04,97.55 L493.46,94.95 L493.88,92.82 L494.31,91.01 L494.73,89.33 L495.15,87.6 L495.57,85.64 L495.99,83.29 L496.42,80.68 L496.84,78.07 L497.26,75.69 L497.68,73.76 L498.11,72.12 L498.53,70.62 L498.95,69.26 L499.37,68.06 L499.8,67.01 L500.22,66.06 L500.64,65.16 L501.06,64.32 L501.48,63.57 L501.91,62.91 L502.33,62.38 L502.75,61.96 L503.17,61.58 L503.6,61.22 L504.02,60.89 L504.44,60.59 L504.86,60.34 L505.29,60.16 L505.71,60.04 L506.13,60 L506.55,60.05 L506.97,60.16 L507.4,60.33 L507.82,60.54 L508.24,60.76 L508.66,60.98 L509.09,61.19 L509.51,61.37 L509.93,61.51 L510.35,61.64 L510.78,61.76 L511.2,61.87 L511.62,61.99 L512.04,62.1 L512.46,62.21 L512.89,62.32 L513.31,62.43 L513.73,62.56 L514.15,62.69 L514.58,62.83 L515,62.97 L515.42,63.12 L515.84,63.28 L516.27,63.44 L516.69,63.6 L517.11,63.77 L517.53,63.94 L517.95,64.11 L518.38,64.29 L518.8,64.47 L519.22,64.65 L519.64,64.84 L520.07,65.03 L520.49,65.23 L520.91,65.42 L521.33,65.62 L521.76,65.83 L522.18,66.03 L522.6,66.24 L523.02,66.45 L523.45,66.67 L523.87,66.88 L524.29,67.1 L524.71,67.32 L525.13,67.55 L525.56,67.78 L525.98,68 L526.4,68.24 L526.82,68.47 L527.25,68.71 L527.67,68.95 L528.09,69.2 L528.51,69.45 L528.94,69.71 L529.36,69.98 L529.78,70.24 L530.2,70.52 L530.62,70.79 L531.05,71.08 L531.47,71.36 L531.89,71.65 L532.31,71.95 L532.74,72.24 L533.16,72.54 L533.58,72.85 L534,73.15 L534.43,73.46 L534.85,73.78 L535.27,74.09 L535.69,74.41 L536.11,74.73 L536.54,75.05 L536.96,75.38 L537.38,75.71 L537.8,76.03 L538.23,76.36 L538.65,76.7 L539.07,77.05 L539.49,77.42 L539.92,77.81 L540.34,78.22 L540.76,78.63 L541.18,79.06 L541.6,79.5 L542.03,79.94 L542.45,80.39 L542.87,80.84 L543.29,81.29 L543.72,81.74 L544.14,82.18 L544.56,82.63 L544.98,83.06 L545.41,83.49 L545.83,83.9 L546.25,84.31 L546.67,84.69 L547.09,85.06 L547.52,85.42 L547.94,85.75 L548.36,86.05 L548.78,86.34 L549.21,86.6 L549.63,86.82 L550.05,87.02 L550.47,87.21 L550.9,87.39 L551.32,87.58 L551.74,87.76 L552.16,87.94 L552.58,88.12 L553.01,88.29 L553.43,88.46 L553.85,88.62 L554.27,88.77 L554.7,88.92 L555.12,89.05 L555.54,89.18 L555.96,89.3 L556.39,89.41 L556.81,89.51 L557.23,89.59 L557.65,89.66 L558.08,89.72 L558.5,89.76 L558.92,89.79 L559.34,89.8 L559.76,89.8 L560.19,89.79 L560.61,89.78 L561.03,89.77 L561.45,89.75 L561.88,89.72 L562.3,89.69 L562.72,89.66 L563.14,89.63 L563.57,89.59 L563.99,89.55 L564.41,89.5 L564.83,89.45 L565.25,89.4 L565.68,89.35 L566.1,89.29 L566.52,89.23 L566.94,89.17 L567.37,89.1 L567.79,89.04 L568.21,88.97 L568.63,88.9 L569.06,88.83 L569.48,88.75 L569.9,88.68 L570.32,88.6 L570.74,88.53 L571.17,88.45 L571.59,88.37 L572.01,88.29 L572.43,88.21 L572.86,88.13 L573.28,88.03 L573.7,87.93 L574.12,87.82 L574.55,87.69 L574.97,87.56 L575.39,87.41 L575.81,87.26 L576.23,87.11 L576.66,86.94 L577.08,86.76 L577.5,86.58 L577.92,86.4 L578.35,86.2 L578.77,86 L579.19,85.8 L579.61,85.59 L580.04,85.38 L580.46,85.16 L580.88,84.94 L581.3,84.71 L581.72,84.48 L582.15,84.25 L582.57,84.02 L582.99,83.79 L583.41,83.55 L583.84,83.31 L584.26,83.08 L584.68,82.84 L585.1,82.6 L585.53,82.37 L585.95,82.13 L586.37,81.9 L586.79,81.66 L587.22,81.43 L587.64,81.21 L588.06,80.98 L588.48,80.76 L588.9,80.54 L589.33,80.33 L589.75,80.12 L590.17,79.92 L590.59,79.71 L591.02,79.5 L591.44,79.3 L591.86,79.08 L592.28,78.87 L592.71,78.66 L593.13,78.44 L593.55,78.23 L593.97,78.01 L594.39,77.79 L594.82,77.57 L595.24,77.35 L595.66,77.13 L596.08,76.91 L596.51,76.69 L596.93,76.47 L597.35,76.24 L597.77,76.02 L598.2,75.8 L598.62,75.58 L599.04,75.36 L599.46,75.15 L599.88,74.93 L600.31,74.71 L600.73,74.5 L601.15,74.28 L601.57,74.07 L602,73.86 L602.42,73.65 L602.84,73.45 L603.26,73.24 L603.69,73.04 L604.11,72.84 L604.53,72.64 L604.95,72.45 L605.37,72.26 L605.8,72.07 L606.22,71.88 L606.64,71.7 L607.06,71.52 L607.49,71.35 L607.91,71.17 L608.33,71 L608.75,70.83 L609.18,70.66 L609.6,70.48 L610.02,70.31 L610.44,70.14 L610.86,69.97 L611.29,69.8 L611.71,69.64 L612.13,69.47 L612.55,69.31 L612.98,69.15 L613.4,68.99 L613.82,68.83 L614.24,68.68 L614.67,68.53 L615.09,68.39 L615.51,68.24 L615.93,68.11 L616.35,67.97 L616.78,67.84 L617.2,67.72 L617.62,67.6 L618.04,67.48 L618.47,67.38 L618.89,67.27 L619.31,67.17 L619.73,67.07 L620.16,66.97 L620.58,66.87 L621,66.77 L621.42,66.7 L621.85,66.64 L622.27,66.61 L622.69,66.6 L623.11,66.62 L623.53,66.64 L623.96,66.69 L624.38,66.74 L624.8,66.81 L625.22,66.89 L625.65,66.97 L626.07,67.07 L626.49,67.17 L626.91,67.29 L627.34,67.4 L627.76,67.53 L628.18,67.66 L628.6,67.79 L629.02,67.93 L629.45,68.06 L629.87,68.2 L630.29,68.34 L630.71,68.48 L631.14,68.62 L631.56,68.76 L631.98,68.89 L632.4,69.02 L632.83,69.14 L633.25,69.26 L633.67,69.37 L634.09,69.47 L634.51,69.57 L634.94,69.68 L635.36,69.78 L635.78,69.89 L636.2,70.01 L636.63,70.12 L637.05,70.24 L637.47,70.36 L637.89,70.48 L638.32,70.6 L638.74,70.73 L639.16,70.85 L639.58,70.97 L640,71.09 L640.43,71.21 L640.85,71.33 L641.27,71.45 L641.69,71.56 L642.12,71.67 L642.54,71.78 L642.96,71.89 L643.38,71.99 L643.81,72.09 L644.23,72.18 L644.65,72.27 L645.07,72.35 L645.49,72.43 L645.92,72.5 L646.34,72.57 L646.76,72.62 L647.18,72.67 L647.61,72.72 L648.03,72.75 L648.45,72.78 L648.87,72.79 L649.3,72.8 L649.72,72.8 L650.14,72.79 L650.56,72.78 L650.98,72.76 L651.41,72.73 L651.83,72.7 L652.25,72.67 L652.67,72.63 L653.1,72.6 L653.52,72.55 L653.94,72.51 L654.36,72.46 L654.79,72.42 L655.21,72.37 L655.63,72.32 L656.05,72.27 L656.48,72.22 L656.9,72.17 L657.32,72.13 L657.74,72.09 L658.16,72.04 L658.59,72 L659.01,71.95 L659.43,71.9 L659.85,71.85 L660.28,71.81 L660.7,71.76 L661.12,71.7 L661.54,71.65 L661.97,71.6 L662.39,71.55 L662.81,71.49 L663.23,71.44 L663.65,71.38 L664.08,71.32 L664.5,71.26 L664.92,71.2 L665.34,71.14 L665.77,71.08 L666.19,71.02 L666.61,70.96 L667.03,70.89 L667.46,70.83 L667.88,70.77 L668.3,70.7" fill="none" stroke="#008000" stroke-width="1.5" stroke-linejoin="round" stroke-dasharray="4.4,2.3"/>
<path d="M373.1,221.6 L373.52,221.6 L373.94,221.6 L374.37,221.6 L374.79,221.6 L375.21,221.59 L375.63,221.59 L376.06,221.59 L376.48,221.59 L376.9,221.58 L377.32,221.58 L377.75,221.57 L378.17,221.57 L378.59,221.56 L379.01,221.56 L379.43,221.55 L379.86,221.55 L380.28,221.54 L380.7,221.53 L381.12,221.52 L381.55,221.52 L381.97,221.51 L382.39,221.5 L382.81,221.49 L383.24,221.48 L383.66,221.47 L384.08,221.46 L384.5,221.45 L384.92,221.44 L385.35,221.43 L385.77,221.42 L386.19,221.41 L386.61,221.4 L387.04,221.39 L387.46,221.38 L387.88,221.37 L388.3,221.36 L388.73,221.34 L389.15,221.33 L389.57,221.32 L389.99,221.31 L390.42,221.29 L390.84,221.28 L391.26,221.27 L391.68,221.25 L392.1,221.24 L392.53,221.23 L392.95,221.21 L393.37,221.2 L393.79,221.19 L394.22,221.17 L394.64,221.16 L395.06,221.14 L395.48,221.13 L395.91,221.11 L396.33,221.1 L396.75,221.09 L397.17,221.07 L397.59,221.06 L398.02,221.04 L398.44,221.03 L398.86,221.01 L399.28,221 L399.71,220.98 L400.13,220.97 L400.55,220.95 L400.97,220.93 L401.4,220.91 L401.82,220.89 L402.24,220.88 L402.66,220.86 L403.08,220.83 L403.51,220.81 L403.93,220.79 L404.35,220.77 L404.77,220.74 L405.2,220.72 L405.62,220.7 L406.04,220.67 L406.46,220.65 L406.89,220.62 L407.31,220.59 L407.73,220.57 L408.15,220.54 L408.57,220.51 L409,220.48 L409.42,220.45 L409.84,220.42 L410.26,220.39 L410.69,220.36 L411.11,220.33 L411.53,220.3 L411.95,220.27 L412.38,220.24 L412.8,220.2 L413.22,220.17 L413.64,220.14 L414.06,220.1 L414.49,220.07 L414.91,220.03 L415.33,220 L415.75,219.97 L416.18,219.93 L416.6,219.89 L417.02,219.86 L417.44,219.82 L417.87,219.79 L418.29,219.75 L418.71,219.71 L419.13,219.68 L419.55,219.64 L419.98,219.6 L420.4,219.56 L420.82,219.53 L421.24,219.49 L421.67,219.44 L422.09,219.4 L422.51,219.36 L422.93,219.32 L423.36,219.27 L423.78,219.22 L424.2,219.18 L424.62,219.13 L425.05,219.08 L425.47,219.03 L425.89,218.98 L426.31,218.93 L426.73,218.88 L427.16,218.83 L427.58,218.77 L428,218.72 L428.42,218.67 L428.85,218.61 L429.27,218.55 L429.69,218.5 L430.11,218.44 L430.54,218.38 L430.96,218.32 L431.38,218.27 L431.8,218.21 L432.22,218.15 L432.65,218.09 L433.07,218.02 L433.49,217.96 L433.91,217.9 L434.34,217.84 L434.76,217.78 L435.18,217.71 L435.6,217.65 L436.03,217.59 L436.45,217.52 L436.87,217.45 L437.29,217.39 L437.71,217.32 L438.14,217.25 L438.56,217.17 L438.98,217.1 L439.4,217.02 L439.83,216.94 L440.25,216.86 L440.67,216.77 L441.09,216.68 L441.52,216.59 L441.94,216.49 L442.36,216.39 L442.78,216.28 L443.2,216.16 L443.63,216.03 L444.05,215.9 L444.47,215.76 L444.89,215.61 L445.32,215.47 L445.74,215.31 L446.16,215.16 L446.58,215 L447.01,214.84 L447.43,214.68 L447.85,214.52 L448.27,214.35 L448.69,214.19 L449.12,214.03 L449.54,213.87 L449.96,213.72 L450.38,213.56 L450.81,213.41 L451.23,213.26 L451.65,213.1 L452.07,212.95 L452.5,212.79 L452.92,212.62 L453.34,212.45 L453.76,212.28 L454.18,212.09 L454.61,211.9 L455.03,211.7 L455.45,211.48 L455.87,211.26 L456.3,211.02 L456.72,210.76 L457.14,210.48 L457.56,210.17 L457.99,209.83 L458.41,209.46 L458.83,209.07 L459.25,208.66 L459.68,208.23 L460.1,207.78 L460.52,207.31 L460.94,206.83 L461.36,206.32 L461.79,205.77 L462.21,205.19 L462.63,204.56 L463.05,203.91 L463.48,203.23 L463.9,202.52 L464.32,201.8 L464.74,201.06 L465.17,200.31 L465.59,199.55 L466.01,198.78 L466.43,197.99 L466.85,197.18 L467.28,196.33 L467.7,195.46 L468.12,194.56 L468.54,193.63 L468.97,192.66 L469.39,191.66 L469.81,190.62 L470.23,189.53 L470.66,188.38 L471.08,187.19 L471.5,185.95 L471.92,184.64 L472.34,183.27 L472.77,181.8 L473.19,180.26 L473.61,178.64 L474.03,176.94 L474.46,175.12 L474.88,173.18 L475.3,171.17 L475.72,169.11 L476.15,166.93 L476.57,164.7 L476.99,162.5 L477.41,160.32 L477.83,158.15 L478.26,156.06 L478.68,154.09 L479.1,152.18 L479.52,150.36 L479.95,148.67 L480.37,147.15 L480.79,145.75 L481.21,144.43 L481.64,143.2 L482.06,142.02 L482.48,140.88 L482.9,139.78 L483.32,138.69 L483.75,137.59 L484.17,136.47 L484.59,135.32 L485.01,134.12 L485.44,132.86 L485.86,131.51 L486.28,130.07 L486.7,128.51 L487.13,126.84 L487.55,125.07 L487.97,123.22 L488.39,121.3 L488.82,119.35 L489.24,117.36 L489.66,115.35 L490.08,113.35 L490.5,111.37 L490.93,109.41 L491.35,107.41 L491.77,105.33 L492.19,103.23 L492.62,101.12 L493.04,99.03 L493.46,97 L493.88,95.04 L494.31,93.2 L494.73,91.5 L495.15,89.86 L495.57,88.27 L495.99,86.73 L496.42,85.25 L496.84,83.85 L497.26,82.52 L497.68,81.27 L498.11,80.12 L498.53,79 L498.95,77.92 L499.37,76.87 L499.8,75.87 L500.22,74.93 L500.64,74.05 L501.06,73.24 L501.48,72.52 L501.91,71.89 L502.33,71.33 L502.75,70.82 L503.17,70.34 L503.6,69.89 L504.02,69.48 L504.44,69.09 L504.86,68.72 L505.29,68.36 L505.71,68.02 L506.13,67.68 L506.55,67.35 L506.97,67.04 L507.4,66.75 L507.82,66.47 L508.24,66.2 L508.66,65.94 L509.09,65.68 L509.51,65.41 L509.93,65.14 L510.35,64.86 L510.78,64.58 L511.2,64.29 L511.62,64 L512.04,63.71 L512.46,63.43 L512.89,63.14 L513.31,62.86 L513.73,62.58 L514.15,62.31 L514.58,62.05 L515,61.79 L515.42,61.5 L515.84,61.21 L516.27,60.91 L516.69,60.61 L517.11,60.3 L517.53,59.99 L517.95,59.68 L518.38,59.38 L518.8,59.08 L519.22,58.79 L519.64,58.52 L520.07,58.26 L520.49,58.02 L520.91,57.79 L521.33,57.59 L521.76,57.42 L522.18,57.27 L522.6,57.15 L523.02,57.06 L523.45,57.01 L523.87,57 L524.29,57.02 L524.71,57.06 L525.13,57.13 L525.56,57.23 L525.98,57.34 L526.4,57.48 L526.82,57.65 L527.25,57.83 L527.67,58.03 L528.09,58.24 L528.51,58.48 L528.94,58.73 L529.36,58.99 L529.78,59.27 L530.2,59.56 L530.62,59.87 L531.05,60.18 L531.47,60.5 L531.89,60.83 L532.31,61.17 L532.74,61.52 L533.16,61.96 L533.58,62.5 L534,63.14 L534.43,63.85 L534.85,64.63 L535.27,65.46 L535.69,66.33 L536.11,67.22 L536.54,68.12 L536.96,69.02 L537.38,69.91 L537.8,70.77 L538.23,71.58 L538.65,72.35 L539.07,73.14 L539.49,73.94 L539.92,74.75 L540.34,75.56 L540.76,76.38 L541.18,77.19 L541.6,77.99 L542.03,78.77 L542.45,79.54 L542.87,80.28 L543.29,80.99 L543.72,81.67 L544.14,82.31 L544.56,82.92 L544.98,83.54 L545.41,84.15 L545.83,84.75 L546.25,85.34 L546.67,85.91 L547.09,86.47 L547.52,87 L547.94,87.5 L548.36,87.97 L548.78,88.4 L549.21,88.79 L549.63,89.14 L550.05,89.43 L550.47,89.71 L550.9,89.99 L551.32,90.26 L551.74,90.53 L552.16,90.78 L552.58,91.03 L553.01,91.27 L553.43,91.49 L553.85,91.7 L554.27,91.88 L554.7,92.05 L555.12,92.19 L555.54,92.31 L555.96,92.4 L556.39,92.46 L556.81,92.5 L557.23,92.5 L557.65,92.48 L558.08,92.45 L558.5,92.41 L558.92,92.35 L559.34,92.28 L559.76,92.2 L560.19,92.11 L560.61,92.01 L561.03,91.9 L561.45,91.79 L561.88,91.66 L562.3,91.53 L562.72,91.4 L563.14,91.26 L563.57,91.11 L563.99,90.97 L564.41,90.82 L564.83,90.67 L565.25,90.51 L565.68,90.36 L566.1,90.21 L566.52,90.06 L566.94,89.91 L567.37,89.75 L567.79,89.57 L568.21,89.38 L568.63,89.17 L569.06,88.95 L569.48,88.72 L569.9,88.49 L570.32,88.24 L570.74,87.99 L571.17,87.73 L571.59,87.47 L572.01,87.2 L572.43,86.93 L572.86,86.66 L573.28,86.39 L573.7,86.12 L574.12,85.85 L574.55,85.59 L574.97,85.33 L575.39,85.07 L575.81,84.82 L576.23,84.58 L576.66,84.35 L577.08,84.12 L577.5,83.91 L577.92,83.71 L578.35,83.52 L578.77,83.35 L579.19,83.17 L579.61,83 L580.04,82.83 L580.46,82.67 L580.88,82.5 L581.3,82.34 L581.72,82.18 L582.15,82.03 L582.57,81.87 L582.99,81.72 L583.41,81.57 L583.84,81.42 L584.26,81.28 L584.68,81.13 L585.1,80.99 L585.53,80.85 L585.95,80.71 L586.37,80.58 L586.79,80.44 L587.22,80.3 L587.64,80.17 L588.06,80.04 L588.48,79.91 L588.9,79.78 L589.33,79.65 L589.75,79.52 L590.17,79.39 L590.59,79.27 L591.02,79.14 L591.44,79.02 L591.86,78.89 L592.28,78.77 L592.71,78.64 L593.13,78.52 L593.55,78.39 L593.97,78.27 L594.39,78.14 L594.82,78.02 L595.24,77.9 L595.66,77.77 L596.08,77.65 L596.51,77.52 L596.93,77.4 L597.35,77.27 L597.77,77.15 L598.2,77.03 L598.62,76.91 L599.04,76.79 L599.46,76.67 L599.88,76.56 L600.31,76.44 L600.73,76.32 L601.15,76.21 L601.57,76.09 L602,75.98 L602.42,75.86 L602.84,75.75 L603.26,75.63 L603.69,75.52 L604.11,75.41 L604.53,75.3 L604.95,75.19 L605.37,75.08 L605.8,74.96 L606.22,74.85 L606.64,74.74 L607.06,74.63 L607.49,74.52 L607.91,74.42 L608.33,74.31 L608.75,74.2 L609.18,74.09 L609.6,73.98 L610.02,73.87 L610.44,73.76 L610.86,73.65 L611.29,73.54 L611.71,73.44 L612.13,73.33 L612.55,73.22 L612.98,73.11 L613.4,73 L613.82,72.89 L614.24,72.78 L614.67,72.67 L615.09,72.57 L615.51,72.46 L615.93,72.35 L616.35,72.24 L616.78,72.14 L617.2,72.03 L617.62,71.92 L618.04,71.82 L618.47,71.71 L618.89,71.6 L619.31,71.5 L619.73,71.39 L620.16,71.29 L620.58,71.18 L621,71.08 L621.42,70.97 L621.85,70.87 L622.27,70.77 L622.69,70.66 L623.11,70.56 L623.53,70.46 L623.96,70.35 L624.38,70.25 L624.8,70.15 L625.22,70.05 L625.65,69.94 L626.07,69.83 L626.49,69.71 L626.91,69.59 L627.34,69.47 L627.76,69.34 L628.18,69.22 L628.6,69.09 L629.02,68.96 L629.45,68.83 L629.87,68.7 L630.29,68.56 L630.71,68.43 L631.14,68.3 L631.56,68.18 L631.98,68.05 L632.4,67.92 L632.83,67.8 L633.25,67.69 L633.67,67.57 L634.09,67.46 L634.51,67.35 L634.94,67.25 L635.36,67.16 L635.78,67.07 L636.2,66.99 L636.63,66.91 L637.05,66.84 L637.47,66.78 L637.89,66.73 L638.32,66.68 L638.74,66.65 L639.16,66.62 L639.58,66.61 L640,66.6 L640.43,66.6 L640.85,66.62 L641.27,66.64 L641.69,66.66 L642.12,66.7 L642.54,66.73 L642.96,66.78 L643.38,66.83 L643.81,66.89 L644.23,66.95 L644.65,67.01 L645.07,67.08 L645.49,67.16 L645.92,67.23 L646.34,67.31 L646.76,67.39 L647.18,67.48 L647.61,67.56 L648.03,67.65 L648.45,67.74 L648.87,67.82 L649.3,67.91 L649.72,68 L650.14,68.09 L650.56,68.17 L650.98,68.26 L651.41,68.34 L651.83,68.42 L652.25,68.51 L652.67,68.59 L653.1,68.68 L653.52,68.76 L653.94,68.85 L654.36,68.94 L654.79,69.04 L655.21,69.13 L655.63,69.23 L656.05,69.33 L656.48,69.42 L656.9,69.52 L657.32,69.63 L657.74,69.73 L658.16,69.84 L658.59,69.94 L659.01,70.05 L659.43,70.16 L659.85,70.27 L660.28,70.39 L660.7,70.5 L661.12,70.62 L661.54,70.73 L661.97,70.85 L662.39,70.97 L662.81,71.1 L663.23,71.22 L663.65,71.34 L664.08,71.47 L664.5,71.6 L664.92,71.72 L665.34,71.85 L665.77,71.99 L666.19,72.12 L666.61,72.25 L667.03,72.39 L667.46,72.52 L667.88,72.66 L668.3,72.8" fill="none" stroke="#ff8000" stroke-width="1.5" stroke-linejoin="round" stroke-dasharray="4.4,2.3"/>
<path d="M373.1,221.6 L373.52,221.6 L373.94,221.6 L374.37,221.6 L374.79,221.6 L375.21,221.59 L375.63,221.59 L376.06,221.59 L376.48,221.59 L376.9,221.58 L377.32,221.58 L377.75,221.57 L378.17,221.57 L378.59,221.56 L379.01,221.56 L379.43,221.55 L379.86,221.55 L380.28,221.54 L380.7,221.53 L381.12,221.52 L381.55,221.52 L381.97,221.51 L382.39,221.5 L382.81,221.49 L383.24,221.48 L383.66,221.47 L384.08,221.46 L384.5,221.45 L384.92,221.44 L385.35,221.43 L385.77,221.42 L386.19,221.41 L386.61,221.4 L387.04,221.39 L387.46,221.38 L387.88,221.37 L388.3,221.36 L388.73,221.34 L389.15,221.33 L389.57,221.32 L389.99,221.31 L390.42,221.29 L390.84,221.28 L391.26,221.27 L391.68,221.25 L392.1,221.24 L392.53,221.23 L392.95,221.21 L393.37,221.2 L393.79,221.19 L394.22,221.17 L394.64,221.16 L395.06,221.14 L395.48,221.13 L395.91,221.11 L396.33,221.1 L396.75,221.09 L397.17,221.07 L397.59,221.06 L398.02,221.04 L398.44,221.03 L398.86,221.01 L399.28,221 L399.71,220.98 L400.13,220.97 L400.55,220.95 L400.97,220.93 L401.4,220.91 L401.82,220.9 L402.24,220.88 L402.66,220.86 L403.08,220.84 L403.51,220.82 L403.93,220.8 L404.35,220.77 L404.77,220.75 L405.2,220.73 L405.62,220.71 L406.04,220.68 L406.46,220.66 L406.89,220.63 L407.31,220.61 L407.73,220.58 L408.15,220.55 L408.57,220.53 L409,220.5 L409.42,220.47 L409.84,220.44 L410.26,220.41 L410.69,220.38 L411.11,220.35 L411.53,220.32 L411.95,220.29 L412.38,220.26 L412.8,220.22 L413.22,220.19 L413.64,220.16 L414.06,220.12 L414.49,220.09 L414.91,220.05 L415.33,220.02 L415.75,219.98 L416.18,219.95 L416.6,219.91 L417.02,219.87 L417.44,219.84 L417.87,219.8 L418.29,219.76 L418.71,219.72 L419.13,219.68 L419.55,219.64 L419.98,219.6 L420.4,219.56 L420.82,219.52 L421.24,219.48 L421.67,219.43 L422.09,219.38 L422.51,219.34 L422.93,219.29 L423.36,219.23 L423.78,219.18 L424.2,219.13 L424.62,219.07 L425.05,219.02 L425.47,218.96 L425.89,218.9 L426.31,218.84 L426.73,218.78 L427.16,218.71 L427.58,218.65 L428,218.58 L428.42,218.52 L428.85,218.45 L429.27,218.38 L429.69,218.31 L430.11,218.24 L430.54,218.16 L430.96,218.09 L431.38,218.01 L431.8,217.94 L432.22,217.86 L432.65,217.78 L433.07,217.7 L433.49,217.62 L433.91,217.54 L434.34,217.45 L434.76,217.37 L435.18,217.28 L435.6,217.19 L436.03,217.09 L436.45,216.99 L436.87,216.89 L437.29,216.78 L437.71,216.67 L438.14,216.56 L438.56,216.44 L438.98,216.32 L439.4,216.2 L439.83,216.07 L440.25,215.94 L440.67,215.81 L441.09,215.67 L441.52,215.53 L441.94,215.39 L442.36,215.24 L442.78,215.09 L443.2,214.93 L443.63,214.76 L444.05,214.59 L444.47,214.42 L444.89,214.24 L445.32,214.05 L445.74,213.86 L446.16,213.66 L446.58,213.46 L447.01,213.26 L447.43,213.04 L447.85,212.83 L448.27,212.6 L448.69,212.38 L449.12,212.15 L449.54,211.91 L449.96,211.67 L450.38,211.43 L450.81,211.19 L451.23,210.94 L451.65,210.68 L452.07,210.41 L452.5,210.14 L452.92,209.85 L453.34,209.55 L453.76,209.24 L454.18,208.92 L454.61,208.58 L455.03,208.22 L455.45,207.85 L455.87,207.46 L456.3,207.05 L456.72,206.61 L457.14,206.12 L457.56,205.55 L457.99,204.93 L458.41,204.26 L458.83,203.55 L459.25,202.81 L459.68,202.04 L460.1,201.26 L460.52,200.48 L460.94,199.7 L461.36,198.93 L461.79,198.13 L462.21,197.32 L462.63,196.48 L463.05,195.62 L463.48,194.73 L463.9,193.83 L464.32,192.9 L464.74,191.94 L465.17,190.95 L465.59,189.93 L466.01,188.88 L466.43,187.79 L466.85,186.67 L467.28,185.52 L467.7,184.34 L468.12,183.11 L468.54,181.83 L468.97,180.52 L469.39,179.17 L469.81,177.79 L470.23,176.39 L470.66,174.93 L471.08,173.43 L471.5,171.92 L471.92,170.4 L472.34,168.87 L472.77,167.32 L473.19,165.76 L473.61,164.21 L474.03,162.7 L474.46,161.21 L474.88,159.73 L475.3,158.27 L475.72,156.85 L476.15,155.48 L476.57,154.17 L476.99,152.92 L477.41,151.7 L477.83,150.5 L478.26,149.29 L478.68,148.04 L479.1,146.77 L479.52,145.5 L479.95,144.22 L480.37,142.93 L480.79,141.64 L481.21,140.34 L481.64,139.03 L482.06,137.72 L482.48,136.4 L482.9,135.08 L483.32,133.75 L483.75,132.41 L484.17,131.06 L484.59,129.7 L485.01,128.33 L485.44,126.94 L485.86,125.53 L486.28,124.11 L486.7,122.67 L487.13,121.24 L487.55,119.8 L487.97,118.36 L488.39,116.93 L488.82,115.51 L489.24,114.1 L489.66,112.71 L490.08,111.33 L490.5,109.99 L490.93,108.67 L491.35,107.39 L491.77,106.12 L492.19,104.87 L492.62,103.61 L493.04,102.35 L493.46,101.06 L493.88,99.74 L494.31,98.33 L494.73,96.84 L495.15,95.32 L495.57,93.82 L495.99,92.38 L496.42,91.06 L496.84,89.89 L497.26,88.9 L497.68,87.98 L498.11,87.11 L498.53,86.3 L498.95,85.54 L499.37,84.83 L499.8,84.18 L500.22,83.57 L500.64,83.02 L501.06,82.49 L501.48,81.97 L501.91,81.47 L502.33,81.01 L502.75,80.6 L503.17,80.23 L503.6,79.93 L504.02,79.69 L504.44,79.5 L504.86,79.31 L505.29,79.15 L505.71,79 L506.13,78.87 L506.55,78.76 L506.97,78.67 L507.4,78.61 L507.82,78.57 L508.24,78.53 L508.66,78.5 L509.09,78.47 L509.51,78.44 L509.93,78.42 L510.35,78.41 L510.78,78.4 L511.2,78.41 L511.62,78.46 L512.04,78.55 L512.46,78.68 L512.89,78.83 L513.31,79 L513.73,79.18 L514.15,79.37 L514.58,79.54 L515,79.7 L515.42,79.86 L515.84,80.04 L516.27,80.23 L516.69,80.44 L517.11,80.65 L517.53,80.87 L517.95,81.08 L518.38,81.3 L518.8,81.5 L519.22,81.69 L519.64,81.87 L520.07,82.03 L520.49,82.17 L520.91,82.27 L521.33,82.35 L521.76,82.39 L522.18,82.4 L522.6,82.37 L523.02,82.31 L523.45,82.22 L523.87,82.11 L524.29,81.97 L524.71,81.82 L525.13,81.64 L525.56,81.45 L525.98,81.24 L526.4,81.02 L526.82,80.8 L527.25,80.56 L527.67,80.32 L528.09,80.08 L528.51,79.83 L528.94,79.59 L529.36,79.35 L529.78,79.12 L530.2,78.89 L530.62,78.64 L531.05,78.38 L531.47,78.1 L531.89,77.8 L532.31,77.49 L532.74,77.17 L533.16,76.84 L533.58,76.5 L534,76.17 L534.43,75.83 L534.85,75.49 L535.27,75.15 L535.69,74.82 L536.11,74.5 L536.54,74.19 L536.96,73.89 L537.38,73.61 L537.8,73.34 L538.23,73.1 L538.65,72.86 L539.07,72.63 L539.49,72.39 L539.92,72.14 L540.34,71.9 L540.76,71.65 L541.18,71.4 L541.6,71.16 L542.03,70.92 L542.45,70.69 L542.87,70.47 L543.29,70.25 L543.72,70.05 L544.14,69.86 L544.56,69.68 L544.98,69.52 L545.41,69.38 L545.83,69.26 L546.25,69.16 L546.67,69.08 L547.09,69.03 L547.52,69 L547.94,69 L548.36,69.04 L548.78,69.1 L549.21,69.18 L549.63,69.29 L550.05,69.42 L550.47,69.57 L550.9,69.74 L551.32,69.93 L551.74,70.13 L552.16,70.34 L552.58,70.56 L553.01,70.78 L553.43,71.02 L553.85,71.25 L554.27,71.49 L554.7,71.73 L555.12,71.97 L555.54,72.23 L555.96,72.54 L556.39,72.87 L556.81,73.22 L557.23,73.6 L557.65,73.99 L558.08,74.38 L558.5,74.78 L558.92,75.17 L559.34,75.55 L559.76,75.93 L560.19,76.32 L560.61,76.72 L561.03,77.14 L561.45,77.56 L561.88,77.99 L562.3,78.42 L562.72,78.84 L563.14,79.27 L563.57,79.69 L563.99,80.1 L564.41,80.51 L564.83,80.9 L565.25,81.27 L565.68,81.63 L566.1,81.96 L566.52,82.28 L566.94,82.57 L567.37,82.88 L567.79,83.19 L568.21,83.51 L568.63,83.82 L569.06,84.12 L569.48,84.42 L569.9,84.69 L570.32,84.94 L570.74,85.15 L571.17,85.33 L571.59,85.47 L572.01,85.56 L572.43,85.6 L572.86,85.6 L573.28,85.58 L573.7,85.55 L574.12,85.51 L574.55,85.47 L574.97,85.41 L575.39,85.34 L575.81,85.26 L576.23,85.17 L576.66,85.08 L577.08,84.98 L577.5,84.86 L577.92,84.75 L578.35,84.62 L578.77,84.49 L579.19,84.35 L579.61,84.21 L580.04,84.06 L580.46,83.9 L580.88,83.75 L581.3,83.58 L581.72,83.42 L582.15,83.25 L582.57,83.08 L582.99,82.9 L583.41,82.72 L583.84,82.55 L584.26,82.37 L584.68,82.18 L585.1,82 L585.53,81.82 L585.95,81.64 L586.37,81.46 L586.79,81.28 L587.22,81.1 L587.64,80.93 L588.06,80.76 L588.48,80.58 L588.9,80.42 L589.33,80.25 L589.75,80.09 L590.17,79.94 L590.59,79.78 L591.02,79.61 L591.44,79.44 L591.86,79.27 L592.28,79.09 L592.71,78.91 L593.13,78.73 L593.55,78.54 L593.97,78.35 L594.39,78.16 L594.82,77.96 L595.24,77.77 L595.66,77.57 L596.08,77.37 L596.51,77.17 L596.93,76.96 L597.35,76.76 L597.77,76.56 L598.2,76.35 L598.62,76.15 L599.04,75.95 L599.46,75.75 L599.88,75.55 L600.31,75.35 L600.73,75.15 L601.15,74.95 L601.57,74.76 L602,74.57 L602.42,74.38 L602.84,74.2 L603.26,74.01 L603.69,73.84 L604.11,73.66 L604.53,73.49 L604.95,73.32 L605.37,73.16 L605.8,73.01 L606.22,72.85 L606.64,72.71 L607.06,72.57 L607.49,72.43 L607.91,72.31 L608.33,72.17 L608.75,72.04 L609.18,71.91 L609.6,71.77 L610.02,71.63 L610.44,71.5 L610.86,71.36 L611.29,71.22 L611.71,71.08 L612.13,70.95 L612.55,70.81 L612.98,70.67 L613.4,70.54 L613.82,70.41 L614.24,70.28 L614.67,70.15 L615.09,70.03 L615.51,69.91 L615.93,69.79 L616.35,69.67 L616.78,69.56 L617.2,69.45 L617.62,69.35 L618.04,69.25 L618.47,69.15 L618.89,69.07 L619.31,68.98 L619.73,68.9 L620.16,68.83 L620.58,68.77 L621,68.71 L621.42,68.65 L621.85,68.61 L622.27,68.57 L622.69,68.54 L623.11,68.52 L623.53,68.51 L623.96,68.5 L624.38,68.5 L624.8,68.51 L625.22,68.53 L625.65,68.56 L626.07,68.59 L626.49,68.62 L626.91,68.67 L627.34,68.72 L627.76,68.77 L628.18,68.83 L628.6,68.9 L629.02,68.97 L629.45,69.04 L629.87,69.12 L630.29,69.2 L630.71,69.28 L631.14,69.37 L631.56,69.45 L631.98,69.55 L632.4,69.64 L632.83,69.74 L633.25,69.83 L633.67,69.93 L634.09,70.03 L634.51,70.13 L634.94,70.25 L635.36,70.39 L635.78,70.54 L636.2,70.72 L636.63,70.9 L637.05,71.09 L637.47,71.29 L637.89,71.49 L638.32,71.69 L638.74,71.88 L639.16,72.07 L639.58,72.24 L640,72.4 L640.43,72.56 L640.85,72.71 L641.27,72.87 L641.69,73.04 L642.12,73.2 L642.54,73.37 L642.96,73.53 L643.38,73.7 L643.81,73.87 L644.23,74.03 L644.65,74.19 L645.07,74.35 L645.49,74.51 L645.92,74.66 L646.34,74.81 L646.76,74.95 L647.18,75.09 L647.61,75.22 L648.03,75.34 L648.45,75.46 L648.87,75.56 L649.3,75.66 L649.72,75.75 L650.14,75.82 L650.56,75.89 L650.98,75.94 L651.41,75.98 L651.83,76.01 L652.25,76.03 L652.67,76.05 L653.1,76.08 L653.52,76.1 L653.94,76.12 L654.36,76.14 L654.79,76.16 L655.21,76.18 L655.63,76.2 L656.05,76.22 L656.48,76.24 L656.9,76.26 L657.32,76.27 L657.74,76.29 L658.16,76.31 L658.59,76.32 L659.01,76.34 L659.43,76.35 L659.85,76.36 L660.28,76.38 L660.7,76.39 L661.12,76.4 L661.54,76.41 L661.97,76.42 L662.39,76.43 L662.81,76.44 L663.23,76.45 L663.65,76.46 L664.08,76.47 L664.5,76.47 L664.92,76.48 L665.34,76.48 L665.77,76.49 L666.19,76.49 L666.61,76.49 L667.03,76.5 L667.46,76.5 L667.88,76.5 L668.3,76.5" fill="none" stroke="#ff0000" stroke-width="1.5" stroke-linejoin="round"/>
<path d="M373.1,221.6 L373.52,221.6 L373.94,221.6 L374.37,221.6 L374.79,221.6 L375.21,221.59 L375.63,221.59 L376.06,221.59 L376.48,221.59 L376.9,221.58 L377.32,221.58 L377.75,221.57 L378.17,221.57 L378.59,221.56 L379.01,221.56 L379.43,221.55 L379.86,221.55 L380.28,221.54 L380.7,221.53 L381.12,221.52 L381.55,221.52 L381.97,221.51 L382.39,221.5 L382.81,221.49 L383.24,221.48 L383.66,221.47 L384.08,221.46 L384.5,221.45 L384.92,221.44 L385.35,221.43 L385.77,221.42 L386.19,221.41 L386.61,221.4 L387.04,221.39 L387.46,221.38 L387.88,221.37 L388.3,221.36 L388.73,221.34 L389.15,221.33 L389.57,221.32 L389.99,221.31 L390.42,221.29 L390.84,221.28 L391.26,221.27 L391.68,221.25 L392.1,221.24 L392.53,221.23 L392.95,221.21 L393.37,221.2 L393.79,221.19 L394.22,221.17 L394.64,221.16 L395.06,221.14 L395.48,221.13 L395.91,221.11 L396.33,221.1 L396.75,221.09 L397.17,221.07 L397.59,221.06 L398.02,221.04 L398.44,221.03 L398.86,221.01 L399.28,221 L399.71,220.98 L400.13,220.97 L400.55,220.95 L400.97,220.93 L401.4,220.91 L401.82,220.9 L402.24,220.88 L402.66,220.86 L403.08,220.84 L403.51,220.82 L403.93,220.8 L404.35,220.77 L404.77,220.75 L405.2,220.73 L405.62,220.71 L406.04,220.68 L406.46,220.66 L406.89,220.63 L407.31,220.61 L407.73,220.58 L408.15,220.55 L408.57,220.53 L409,220.5 L409.42,220.47 L409.84,220.44 L410.26,220.41 L410.69,220.38 L411.11,220.35 L411.53,220.32 L411.95,220.29 L412.38,220.26 L412.8,220.22 L413.22,220.19 L413.64,220.16 L414.06,220.12 L414.49,220.09 L414.91,220.05 L415.33,220.02 L415.75,219.98 L416.18,219.95 L416.6,219.91 L417.02,219.87 L417.44,219.84 L417.87,219.8 L418.29,219.76 L418.71,219.72 L419.13,219.68 L419.55,219.64 L419.98,219.6 L420.4,219.56 L420.82,219.52 L421.24,219.47 L421.67,219.43 L422.09,219.38 L422.51,219.33 L422.93,219.28 L423.36,219.23 L423.78,219.18 L424.2,219.12 L424.62,219.07 L425.05,219.01 L425.47,218.95 L425.89,218.89 L426.31,218.83 L426.73,218.77 L427.16,218.71 L427.58,218.64 L428,218.58 L428.42,218.51 L428.85,218.44 L429.27,218.37 L429.69,218.3 L430.11,218.23 L430.54,218.16 L430.96,218.08 L431.38,218.01 L431.8,217.93 L432.22,217.85 L432.65,217.77 L433.07,217.7 L433.49,217.61 L433.91,217.53 L434.34,217.45 L434.76,217.37 L435.18,217.28 L435.6,217.19 L436.03,217.1 L436.45,217.01 L436.87,216.91 L437.29,216.81 L437.71,216.7 L438.14,216.6 L438.56,216.49 L438.98,216.37 L439.4,216.26 L439.83,216.14 L440.25,216.01 L440.67,215.89 L441.09,215.76 L441.52,215.62 L441.94,215.49 L442.36,215.35 L442.78,215.2 L443.2,215.05 L443.63,214.89 L444.05,214.72 L444.47,214.55 L444.89,214.37 L445.32,214.19 L445.74,214.01 L446.16,213.82 L446.58,213.62 L447.01,213.42 L447.43,213.21 L447.85,213 L448.27,212.79 L448.69,212.57 L449.12,212.34 L449.54,212.12 L449.96,211.89 L450.38,211.66 L450.81,211.43 L451.23,211.19 L451.65,210.95 L452.07,210.7 L452.5,210.44 L452.92,210.17 L453.34,209.9 L453.76,209.61 L454.18,209.31 L454.61,209 L455.03,208.67 L455.45,208.33 L455.87,207.97 L456.3,207.59 L456.72,207.2 L457.14,206.79 L457.56,206.33 L457.99,205.8 L458.41,205.21 L458.83,204.57 L459.25,203.88 L459.68,203.15 L460.1,202.4 L460.52,201.63 L460.94,200.86 L461.36,200.08 L461.79,199.31 L462.21,198.53 L462.63,197.73 L463.05,196.9 L463.48,196.05 L463.9,195.18 L464.32,194.29 L464.74,193.37 L465.17,192.42 L465.59,191.45 L466.01,190.44 L466.43,189.4 L466.85,188.31 L467.28,187.2 L467.7,186.05 L468.12,184.87 L468.54,183.65 L468.97,182.38 L469.39,181.06 L469.81,179.7 L470.23,178.31 L470.66,176.9 L471.08,175.43 L471.5,173.92 L471.92,172.38 L472.34,170.83 L472.77,169.28 L473.19,167.71 L473.61,166.13 L474.03,164.55 L474.46,163.01 L474.88,161.51 L475.3,160.02 L475.72,158.55 L476.15,157.12 L476.57,155.74 L476.99,154.43 L477.41,153.21 L477.83,152.03 L478.26,150.86 L478.68,149.66 L479.1,148.39 L479.52,147.02 L479.95,145.57 L480.37,144.06 L480.79,142.51 L481.21,140.91 L481.64,139.29 L482.06,137.66 L482.48,136.02 L482.9,134.4 L483.32,132.81 L483.75,131.26 L484.17,129.76 L484.59,128.3 L485.01,126.87 L485.44,125.47 L485.86,124.08 L486.28,122.71 L486.7,121.35 L487.13,119.99 L487.55,118.63 L487.97,117.25 L488.39,115.87 L488.82,114.46 L489.24,113.03 L489.66,111.57 L490.08,110.06 L490.5,108.5 L490.93,106.88 L491.35,105.22 L491.77,103.55 L492.19,101.91 L492.62,100.31 L493.04,98.74 L493.46,97.12 L493.88,95.51 L494.31,93.95 L494.73,92.49 L495.15,91.16 L495.57,90.02 L495.99,89 L496.42,88.04 L496.84,87.14 L497.26,86.3 L497.68,85.52 L498.11,84.78 L498.53,84.08 L498.95,83.42 L499.37,82.8 L499.8,82.2 L500.22,81.62 L500.64,81.06 L501.06,80.54 L501.48,80.06 L501.91,79.62 L502.33,79.23 L502.75,78.88 L503.17,78.56 L503.6,78.26 L504.02,77.98 L504.44,77.73 L504.86,77.49 L505.29,77.27 L505.71,77.07 L506.13,76.89 L506.55,76.71 L506.97,76.53 L507.4,76.35 L507.82,76.18 L508.24,76.04 L508.66,75.92 L509.09,75.84 L509.51,75.8 L509.93,75.8 L510.35,75.8 L510.78,75.8 L511.2,75.8 L511.62,75.8 L512.04,75.8 L512.46,75.8 L512.89,75.8 L513.31,75.8 L513.73,75.82 L514.15,75.86 L514.58,75.92 L515,75.99 L515.42,76.08 L515.84,76.17 L516.27,76.27 L516.69,76.37 L517.11,76.48 L517.53,76.58 L517.95,76.68 L518.38,76.78 L518.8,76.87 L519.22,76.95 L519.64,77.01 L520.07,77.06 L520.49,77.09 L520.91,77.1 L521.33,77.09 L521.76,77.08 L522.18,77.05 L522.6,77.02 L523.02,76.97 L523.45,76.92 L523.87,76.86 L524.29,76.79 L524.71,76.72 L525.13,76.64 L525.56,76.55 L525.98,76.46 L526.4,76.37 L526.82,76.27 L527.25,76.17 L527.67,76.06 L528.09,75.95 L528.51,75.84 L528.94,75.73 L529.36,75.62 L529.78,75.51 L530.2,75.4 L530.62,75.29 L531.05,75.18 L531.47,75.07 L531.89,74.97 L532.31,74.87 L532.74,74.77 L533.16,74.66 L533.58,74.55 L534,74.42 L534.43,74.29 L534.85,74.15 L535.27,74.01 L535.69,73.86 L536.11,73.7 L536.54,73.55 L536.96,73.39 L537.38,73.24 L537.8,73.08 L538.23,72.93 L538.65,72.78 L539.07,72.63 L539.49,72.49 L539.92,72.36 L540.34,72.23 L540.76,72.11 L541.18,72 L541.6,71.91 L542.03,71.82 L542.45,71.75 L542.87,71.69 L543.29,71.64 L543.72,71.61 L544.14,71.6 L544.56,71.61 L544.98,71.64 L545.41,71.7 L545.83,71.78 L546.25,71.87 L546.67,71.99 L547.09,72.13 L547.52,72.28 L547.94,72.45 L548.36,72.63 L548.78,72.83 L549.21,73.03 L549.63,73.25 L550.05,73.48 L550.47,73.72 L550.9,73.97 L551.32,74.22 L551.74,74.48 L552.16,74.74 L552.58,75 L553.01,75.26 L553.43,75.53 L553.85,75.79 L554.27,76.06 L554.7,76.32 L555.12,76.57 L555.54,76.86 L555.96,77.17 L556.39,77.51 L556.81,77.87 L557.23,78.24 L557.65,78.61 L558.08,78.97 L558.5,79.33 L558.92,79.66 L559.34,79.96 L559.76,80.24 L560.19,80.52 L560.61,80.8 L561.03,81.07 L561.45,81.34 L561.88,81.6 L562.3,81.86 L562.72,82.11 L563.14,82.35 L563.57,82.59 L563.99,82.82 L564.41,83.05 L564.83,83.26 L565.25,83.47 L565.68,83.66 L566.1,83.85 L566.52,84.03 L566.94,84.2 L567.37,84.37 L567.79,84.55 L568.21,84.73 L568.63,84.91 L569.06,85.08 L569.48,85.24 L569.9,85.39 L570.32,85.53 L570.74,85.65 L571.17,85.75 L571.59,85.83 L572.01,85.88 L572.43,85.9 L572.86,85.9 L573.28,85.88 L573.7,85.85 L574.12,85.8 L574.55,85.75 L574.97,85.68 L575.39,85.6 L575.81,85.51 L576.23,85.41 L576.66,85.31 L577.08,85.19 L577.5,85.06 L577.92,84.93 L578.35,84.79 L578.77,84.64 L579.19,84.49 L579.61,84.32 L580.04,84.16 L580.46,83.99 L580.88,83.81 L581.3,83.63 L581.72,83.44 L582.15,83.26 L582.57,83.07 L582.99,82.87 L583.41,82.68 L583.84,82.48 L584.26,82.29 L584.68,82.09 L585.1,81.9 L585.53,81.7 L585.95,81.51 L586.37,81.31 L586.79,81.12 L587.22,80.94 L587.64,80.75 L588.06,80.57 L588.48,80.39 L588.9,80.22 L589.33,80.05 L589.75,79.89 L590.17,79.74 L590.59,79.58 L591.02,79.42 L591.44,79.26 L591.86,79.1 L592.28,78.93 L592.71,78.77 L593.13,78.6 L593.55,78.43 L593.97,78.26 L594.39,78.09 L594.82,77.92 L595.24,77.75 L595.66,77.58 L596.08,77.41 L596.51,77.23 L596.93,77.06 L597.35,76.89 L597.77,76.71 L598.2,76.54 L598.62,76.37 L599.04,76.19 L599.46,76.02 L599.88,75.85 L600.31,75.68 L600.73,75.51 L601.15,75.34 L601.57,75.18 L602,75.01 L602.42,74.85 L602.84,74.68 L603.26,74.52 L603.69,74.36 L604.11,74.21 L604.53,74.05 L604.95,73.9 L605.37,73.75 L605.8,73.6 L606.22,73.45 L606.64,73.31 L607.06,73.17 L607.49,73.04 L607.91,72.9 L608.33,72.76 L608.75,72.62 L609.18,72.47 L609.6,72.33 L610.02,72.18 L610.44,72.02 L610.86,71.87 L611.29,71.72 L611.71,71.56 L612.13,71.41 L612.55,71.26 L612.98,71.1 L613.4,70.95 L613.82,70.8 L614.24,70.66 L614.67,70.51 L615.09,70.37 L615.51,70.23 L615.93,70.1 L616.35,69.97 L616.78,69.85 L617.2,69.73 L617.62,69.62 L618.04,69.51 L618.47,69.41 L618.89,69.32 L619.31,69.24 L619.73,69.16 L620.16,69.1 L620.58,69.04 L621,68.99 L621.42,68.95 L621.85,68.92 L622.27,68.91 L622.69,68.9 L623.11,68.91 L623.53,68.92 L623.96,68.95 L624.38,68.98 L624.8,69.03 L625.22,69.08 L625.65,69.14 L626.07,69.21 L626.49,69.28 L626.91,69.37 L627.34,69.45 L627.76,69.55 L628.18,69.64 L628.6,69.75 L629.02,69.85 L629.45,69.96 L629.87,70.07 L630.29,70.19 L630.71,70.3 L631.14,70.42 L631.56,70.54 L631.98,70.65 L632.4,70.77 L632.83,70.89 L633.25,71 L633.67,71.11 L634.09,71.22 L634.51,71.33 L634.94,71.44 L635.36,71.57 L635.78,71.7 L636.2,71.83 L636.63,71.97 L637.05,72.11 L637.47,72.25 L637.89,72.39 L638.32,72.53 L638.74,72.66 L639.16,72.78 L639.58,72.9 L640,73 L640.43,73.1 L640.85,73.2 L641.27,73.3 L641.69,73.4 L642.12,73.49 L642.54,73.59 L642.96,73.69 L643.38,73.79 L643.81,73.88 L644.23,73.97 L644.65,74.06 L645.07,74.15 L645.49,74.24 L645.92,74.32 L646.34,74.41 L646.76,74.48 L647.18,74.56 L647.61,74.63 L648.03,74.7 L648.45,74.76 L648.87,74.82 L649.3,74.88 L649.72,74.93 L650.14,74.98 L650.56,75.02 L650.98,75.05 L651.41,75.08 L651.83,75.11 L652.25,75.13 L652.67,75.15 L653.1,75.17 L653.52,75.19 L653.94,75.22 L654.36,75.24 L654.79,75.26 L655.21,75.27 L655.63,75.29 L656.05,75.31 L656.48,75.33 L656.9,75.35 L657.32,75.37 L657.74,75.38 L658.16,75.4 L658.59,75.41 L659.01,75.43 L659.43,75.44 L659.85,75.46 L660.28,75.47 L660.7,75.48 L661.12,75.5 L661.54,75.51 L661.97,75.52 L662.39,75.53 L662.81,75.54 L663.23,75.55 L663.65,75.55 L664.08,75.56 L664.5,75.57 L664.92,75.58 L665.34,75.58 L665.77,75.59 L666.19,75.59 L666.61,75.59 L667.03,75.6 L667.46,75.6 L667.88,75.6 L668.3,75.6" fill="none" stroke="#0000ff" stroke-width="1.5" stroke-linejoin="round"/>
</g>
<rect x="373.1" y="14" width="295.2" height="208.3" fill="none" stroke="#000" stroke-width="1.4"/>
<line x1="367.1" y1="222.3" x2="373.1" y2="222.3" stroke="#000" stroke-width="1.4"/>
<text x="362.2" y="226.4" font-size="13.4" text-anchor="end" stroke="#000" stroke-width="0.25" >0.0</text>
<line x1="370.1" y1="207.42" x2="373.1" y2="207.42" stroke="#000" stroke-width="1.4"/>
<line x1="367.1" y1="192.54" x2="373.1" y2="192.54" stroke="#000" stroke-width="1.4"/>
<text x="362.2" y="196.64" font-size="13.4" text-anchor="end" stroke="#000" stroke-width="0.25" >0.2</text>
<line x1="370.1" y1="177.66" x2="373.1" y2="177.66" stroke="#000" stroke-width="1.4"/>
<line x1="367.1" y1="162.79" x2="373.1" y2="162.79" stroke="#000" stroke-width="1.4"/>
<text x="362.2" y="166.89" font-size="13.4" text-anchor="end" stroke="#000" stroke-width="0.25" >0.4</text>
<line x1="370.1" y1="147.91" x2="373.1" y2="147.91" stroke="#000" stroke-width="1.4"/>
<line x1="367.1" y1="133.03" x2="373.1" y2="133.03" stroke="#000" stroke-width="1.4"/>
<text x="362.2" y="137.13" font-size="13.4" text-anchor="end" stroke="#000" stroke-width="0.25" >0.6</text>
<line x1="370.1" y1="118.15" x2="373.1" y2="118.15" stroke="#000" stroke-width="1.4"/>
<line x1="367.1" y1="103.27" x2="373.1" y2="103.27" stroke="#000" stroke-width="1.4"/>
<text x="362.2" y="107.37" font-size="13.4" text-anchor="end" stroke="#000" stroke-width="0.25" >0.8</text>
<line x1="370.1" y1="88.39" x2="373.1" y2="88.39" stroke="#000" stroke-width="1.4"/>
<line x1="367.1" y1="73.51" x2="373.1" y2="73.51" stroke="#000" stroke-width="1.4"/>
<text x="362.2" y="77.61" font-size="13.4" text-anchor="end" stroke="#000" stroke-width="0.25" >1.0</text>
<line x1="370.1" y1="58.64" x2="373.1" y2="58.64" stroke="#000" stroke-width="1.4"/>
<line x1="367.1" y1="43.76" x2="373.1" y2="43.76" stroke="#000" stroke-width="1.4"/>
<text x="362.2" y="47.86" font-size="13.4" text-anchor="end" stroke="#000" stroke-width="0.25" >1.2</text>
<line x1="370.1" y1="28.88" x2="373.1" y2="28.88" stroke="#000" stroke-width="1.4"/>
<line x1="367.1" y1="14" x2="373.1" y2="14" stroke="#000" stroke-width="1.4"/>
<text x="362.2" y="18.1" font-size="13.4" text-anchor="end" stroke="#000" stroke-width="0.25" >1.4</text>
<line x1="373.1" y1="222.3" x2="373.1" y2="228.3" stroke="#000" stroke-width="1.4"/>
<text x="373.1" y="243.3" font-size="13.4" text-anchor="middle" stroke="#000" stroke-width="0.25" >24.30</text>
<line x1="422.3" y1="222.3" x2="422.3" y2="225.3" stroke="#000" stroke-width="1.4"/>
<line x1="471.5" y1="222.3" x2="471.5" y2="228.3" stroke="#000" stroke-width="1.4"/>
<text x="471.5" y="243.3" font-size="13.4" text-anchor="middle" stroke="#000" stroke-width="0.25" >24.35</text>
<line x1="520.7" y1="222.3" x2="520.7" y2="225.3" stroke="#000" stroke-width="1.4"/>
<line x1="569.9" y1="222.3" x2="569.9" y2="228.3" stroke="#000" stroke-width="1.4"/>
<text x="569.9" y="243.3" font-size="13.4" text-anchor="middle" stroke="#000" stroke-width="0.25" >24.40</text>
<line x1="619.1" y1="222.3" x2="619.1" y2="225.3" stroke="#000" stroke-width="1.4"/>
<line x1="668.3" y1="222.3" x2="668.3" y2="228.3" stroke="#000" stroke-width="1.4"/>
<text x="668.3" y="243.3" font-size="13.4" text-anchor="middle" stroke="#000" stroke-width="0.25" >24.45</text>
<text x="521.2" y="269.6" font-size="13.4" text-anchor="middle" stroke="#000" stroke-width="0.25" >Photon Energy (keV)</text>
<text x="338" y="118" font-size="13.4" text-anchor="middle" stroke="#000" stroke-width="0.25" transform="rotate(-90 338 118)">Normalized Absorption</text>
<rect x="451.6" y="153.1" width="39.9" height="55.1" fill="none" stroke="#000" stroke-width="1.3"/>
<g clip-path="url(#clipi)">
<path d="M534.72,193.97 L535.12,193.85 L535.53,193.74 L535.93,193.62 L536.34,193.5 L536.74,193.37 L537.15,193.25 L537.55,193.13 L537.96,193 L538.36,192.88 L538.77,192.75 L539.17,192.62 L539.57,192.5 L539.98,192.37 L540.38,192.24 L540.79,192.11 L541.19,191.98 L541.6,191.84 L542,191.71 L542.41,191.57 L542.81,191.44 L543.22,191.3 L543.62,191.16 L544.02,191.01 L544.43,190.87 L544.83,190.72 L545.24,190.57 L545.64,190.42 L546.05,190.27 L546.45,190.11 L546.86,189.95 L547.26,189.79 L547.67,189.62 L548.07,189.45 L548.47,189.28 L548.88,189.11 L549.28,188.93 L549.69,188.75 L550.09,188.56 L550.5,188.37 L550.9,188.18 L551.31,187.98 L551.71,187.78 L552.12,187.58 L552.52,187.37 L552.92,187.15 L553.33,186.94 L553.73,186.71 L554.14,186.49 L554.54,186.24 L554.95,185.99 L555.35,185.72 L555.76,185.43 L556.16,185.14 L556.57,184.83 L556.97,184.51 L557.37,184.19 L557.78,183.85 L558.18,183.5 L558.59,183.15 L558.99,182.79 L559.4,182.42 L559.8,182.04 L560.21,181.66 L560.61,181.27 L561.02,180.88 L561.42,180.49 L561.82,180.09 L562.23,179.69 L562.63,179.28 L563.04,178.88 L563.44,178.48 L563.85,178.07 L564.25,177.67 L564.66,177.26 L565.06,176.86 L565.47,176.46 L565.87,176.06 L566.27,175.65 L566.68,175.24 L567.08,174.82 L567.49,174.4 L567.89,173.97 L568.3,173.54 L568.7,173.1 L569.11,172.66 L569.51,172.21 L569.92,171.76 L570.32,171.3 L570.72,170.84 L571.13,170.38 L571.53,169.91 L571.94,169.43 L572.34,168.95 L572.75,168.47 L573.15,167.98 L573.56,167.48 L573.96,166.98 L574.37,166.48 L574.77,165.97 L575.17,165.44 L575.58,164.92 L575.98,164.38 L576.39,163.84 L576.79,163.29 L577.2,162.73 L577.6,162.17 L578.01,161.6 L578.41,161.02 L578.82,160.44 L579.22,159.85 L579.62,159.26 L580.03,158.66 L580.43,158.05 L580.84,157.44 L581.24,156.82 L581.65,156.2 L582.05,155.56 L582.46,154.91 L582.86,154.25 L583.27,153.59 L583.67,152.91 L584.07,152.23 L584.48,151.55 L584.88,150.85 L585.29,150.16 L585.69,149.45 L586.1,148.75 L586.5,148.04 L586.91,147.33 L587.31,146.61 L587.72,145.88 L588.12,145.15 L588.52,144.4 L588.93,143.65 L589.33,142.89 L589.74,142.13 L590.14,141.37 L590.55,140.61 L590.95,139.84 L591.36,139.08 L591.76,138.32 L592.17,137.57 L592.57,136.82 L592.97,136.06 L593.38,135.3 L593.78,134.54 L594.19,133.78 L594.59,133.02 L595,132.26 L595.4,131.51 L595.81,130.76 L596.21,130.01 L596.62,129.28 L597.02,128.55 L597.43,127.83 L597.83,127.12 L598.23,126.42 L598.64,125.72 L599.04,125.02 L599.45,124.33 L599.85,123.64 L600.26,122.96 L600.66,122.28 L601.07,121.61 L601.47,120.95 L601.88,120.29 L602.28,119.65 L602.68,119.01 L603.09,118.38 L603.49,117.77 L603.9,117.17 L604.3,116.58 L604.71,116.01 L605.11,115.45 L605.52,114.9 L605.92,114.36 L606.33,113.83 L606.73,113.29 L607.13,112.76 L607.54,112.23 L607.94,111.7 L608.35,111.17 L608.75,110.63 L609.16,110.08 L609.56,109.52 L609.97,108.94 L610.37,108.36 L610.78,107.76 L611.18,107.15 L611.58,106.53 L611.99,105.9 L612.39,105.27 L612.8,104.63 L613.2,103.99 L613.61,103.34 L614.01,102.69 L614.42,102.03 L614.82,101.37 L615.23,100.7 L615.63,100.02 L616.03,99.34 L616.44,98.66 L616.84,97.98 L617.25,97.29 L617.65,96.59 L618.06,95.9 L618.46,95.2 L618.87,94.5 L619.27,93.79 L619.68,93.08 L620.08,92.37 L620.48,91.66 L620.89,90.95 L621.29,90.24 L621.7,89.52 L622.1,88.8 L622.51,88.08 L622.91,87.37 L623.32,86.65 L623.72,85.93 L624.13,85.21 L624.53,84.49 L624.93,83.77 L625.34,83.05 L625.74,82.34 L626.15,81.63 L626.55,80.92 L626.96,80.21 L627.36,79.5 L627.77,78.79 L628.17,78.08 L628.58,77.38 L628.98,76.67 L629.38,75.96 L629.79,75.24 L630.19,74.53 L630.6,73.81 L631,73.09 L631.41,72.37 L631.81,71.64 L632.22,70.91 L632.62,70.17 L633.03,69.43 L633.43,68.68 L633.83,67.93 L634.24,67.16 L634.64,66.4 L635.05,65.62 L635.45,64.84 L635.86,64.05 L636.26,63.25 L636.67,62.44 L637.07,61.62 L637.48,60.79 L637.88,59.96 L638.28,59.11 L638.69,58.25 L639.09,57.37 L639.5,56.48 L639.9,55.53 L640.31,54.53 L640.71,53.5 L641.12,52.43 L641.52,51.33 L641.93,50.23 L642.33,49.12 L642.73,48.01 L643.14,46.92 L643.54,45.84 L643.95,44.8 L644.35,43.8 L644.76,42.85 L645.16,41.96 L645.57,41.13 L645.97,40.36 L646.38,39.61 L646.78,38.88 L647.18,38.18 L647.59,37.49 L647.99,36.81 L648.4,36.16 L648.8,35.52 L649.21,34.9 L649.61,34.29 L650.02,33.69 L650.42,33.11 L650.83,32.55 L651.23,31.99 L651.63,31.44 L652.04,30.91 L652.44,30.39 L652.85,29.87 L653.25,29.36 L653.66,28.86 L654.06,28.36 L654.47,27.85 L654.87,27.36 L655.28,26.86 L655.68,26.38" fill="none" stroke="#000000" stroke-width="1.5" stroke-linejoin="round" stroke-dasharray="4.4,2.3"/>
<path d="M534.72,197.36 L535.12,197.28 L535.53,197.2 L535.93,197.12 L536.34,197.04 L536.74,196.97 L537.15,196.89 L537.55,196.81 L537.96,196.74 L538.36,196.66 L538.77,196.59 L539.17,196.51 L539.57,196.44 L539.98,196.36 L540.38,196.29 L540.79,196.22 L541.19,196.14 L541.6,196.07 L542,196 L542.41,195.92 L542.81,195.85 L543.22,195.78 L543.62,195.71 L544.02,195.63 L544.43,195.56 L544.83,195.48 L545.24,195.41 L545.64,195.34 L546.05,195.26 L546.45,195.18 L546.86,195.11 L547.26,195.03 L547.67,194.95 L548.07,194.87 L548.47,194.79 L548.88,194.71 L549.28,194.63 L549.69,194.55 L550.09,194.46 L550.5,194.38 L550.9,194.29 L551.31,194.2 L551.71,194.11 L552.12,194.02 L552.52,193.93 L552.92,193.83 L553.33,193.73 L553.73,193.64 L554.14,193.53 L554.54,193.43 L554.95,193.33 L555.35,193.22 L555.76,193.11 L556.16,193 L556.57,192.89 L556.97,192.77 L557.37,192.66 L557.78,192.53 L558.18,192.41 L558.59,192.28 L558.99,192.15 L559.4,192.01 L559.8,191.87 L560.21,191.72 L560.61,191.58 L561.02,191.43 L561.42,191.27 L561.82,191.12 L562.23,190.96 L562.63,190.79 L563.04,190.63 L563.44,190.45 L563.85,190.28 L564.25,190.1 L564.66,189.92 L565.06,189.74 L565.47,189.55 L565.87,189.37 L566.27,189.17 L566.68,188.98 L567.08,188.78 L567.49,188.58 L567.89,188.37 L568.3,188.16 L568.7,187.95 L569.11,187.74 L569.51,187.52 L569.92,187.31 L570.32,187.08 L570.72,186.86 L571.13,186.63 L571.53,186.4 L571.94,186.16 L572.34,185.91 L572.75,185.65 L573.15,185.38 L573.56,185.1 L573.96,184.82 L574.37,184.53 L574.77,184.24 L575.17,183.93 L575.58,183.62 L575.98,183.31 L576.39,182.99 L576.79,182.66 L577.2,182.33 L577.6,181.99 L578.01,181.65 L578.41,181.3 L578.82,180.95 L579.22,180.59 L579.62,180.24 L580.03,179.88 L580.43,179.51 L580.84,179.14 L581.24,178.78 L581.65,178.4 L582.05,178.03 L582.46,177.66 L582.86,177.28 L583.27,176.91 L583.67,176.53 L584.07,176.14 L584.48,175.76 L584.88,175.36 L585.29,174.97 L585.69,174.56 L586.1,174.15 L586.5,173.74 L586.91,173.32 L587.31,172.89 L587.72,172.46 L588.12,172.02 L588.52,171.58 L588.93,171.13 L589.33,170.67 L589.74,170.21 L590.14,169.74 L590.55,169.27 L590.95,168.78 L591.36,168.29 L591.76,167.8 L592.17,167.29 L592.57,166.78 L592.97,166.26 L593.38,165.73 L593.78,165.19 L594.19,164.63 L594.59,164.07 L595,163.49 L595.4,162.91 L595.81,162.31 L596.21,161.7 L596.62,161.08 L597.02,160.45 L597.43,159.81 L597.83,159.16 L598.23,158.5 L598.64,157.83 L599.04,157.14 L599.45,156.44 L599.85,155.72 L600.26,154.97 L600.66,154.21 L601.07,153.43 L601.47,152.64 L601.88,151.83 L602.28,151 L602.68,150.16 L603.09,149.31 L603.49,148.45 L603.9,147.57 L604.3,146.69 L604.71,145.77 L605.11,144.83 L605.52,143.87 L605.92,142.89 L606.33,141.9 L606.73,140.91 L607.13,139.91 L607.54,138.91 L607.94,137.92 L608.35,136.93 L608.75,135.93 L609.16,134.92 L609.56,133.91 L609.97,132.89 L610.37,131.88 L610.78,130.87 L611.18,129.88 L611.58,128.91 L611.99,127.97 L612.39,127.05 L612.8,126.14 L613.2,125.24 L613.61,124.34 L614.01,123.46 L614.42,122.59 L614.82,121.74 L615.23,120.9 L615.63,120.09 L616.03,119.29 L616.44,118.51 L616.84,117.76 L617.25,117.04 L617.65,116.35 L618.06,115.68 L618.46,115.04 L618.87,114.41 L619.27,113.79 L619.68,113.18 L620.08,112.58 L620.48,111.98 L620.89,111.37 L621.29,110.75 L621.7,110.11 L622.1,109.46 L622.51,108.78 L622.91,108.08 L623.32,107.35 L623.72,106.6 L624.13,105.85 L624.53,105.08 L624.93,104.29 L625.34,103.5 L625.74,102.7 L626.15,101.88 L626.55,101.06 L626.96,100.22 L627.36,99.38 L627.77,98.53 L628.17,97.67 L628.58,96.8 L628.98,95.93 L629.38,95.05 L629.79,94.16 L630.19,93.27 L630.6,92.37 L631,91.47 L631.41,90.56 L631.81,89.65 L632.22,88.73 L632.62,87.82 L633.03,86.9 L633.43,85.98 L633.83,85.05 L634.24,84.13 L634.64,83.21 L635.05,82.28 L635.45,81.36 L635.86,80.44 L636.26,79.52 L636.67,78.6 L637.07,77.69 L637.48,76.78 L637.88,75.88 L638.28,74.98 L638.69,74.08 L639.09,73.18 L639.5,72.27 L639.9,71.36 L640.31,70.45 L640.71,69.52 L641.12,68.59 L641.52,67.65 L641.93,66.69 L642.33,65.72 L642.73,64.74 L643.14,63.74 L643.54,62.72 L643.95,61.67 L644.35,60.61 L644.76,59.53 L645.16,58.42 L645.57,57.28 L645.97,56.09 L646.38,54.82 L646.78,53.46 L647.18,52.05 L647.59,50.59 L647.99,49.09 L648.4,47.57 L648.8,46.04 L649.21,44.52 L649.61,43.02 L650.02,41.56 L650.42,40.14 L650.83,38.79 L651.23,37.51 L651.63,36.33 L652.04,35.24 L652.44,34.22 L652.85,33.27 L653.25,32.36 L653.66,31.49 L654.06,30.65 L654.47,29.81 L654.87,28.97 L655.28,28.11 L655.68,27.23" fill="none" stroke="#008000" stroke-width="1.5" stroke-linejoin="round" stroke-dasharray="4.4,2.3"/>
<path d="M534.72,196.99 L535.12,196.9 L535.53,196.82 L535.93,196.74 L536.34,196.66 L536.74,196.58 L537.15,196.5 L537.55,196.42 L537.96,196.34 L538.36,196.26 L538.77,196.18 L539.17,196.1 L539.57,196.02 L539.98,195.94 L540.38,195.87 L540.79,195.79 L541.19,195.71 L541.6,195.63 L542,195.56 L542.41,195.48 L542.81,195.41 L543.22,195.33 L543.62,195.25 L544.02,195.17 L544.43,195.1 L544.83,195.02 L545.24,194.94 L545.64,194.86 L546.05,194.78 L546.45,194.7 L546.86,194.62 L547.26,194.54 L547.67,194.46 L548.07,194.37 L548.47,194.29 L548.88,194.2 L549.28,194.11 L549.69,194.02 L550.09,193.93 L550.5,193.84 L550.9,193.75 L551.31,193.65 L551.71,193.55 L552.12,193.46 L552.52,193.35 L552.92,193.25 L553.33,193.15 L553.73,193.04 L554.14,192.93 L554.54,192.82 L554.95,192.71 L555.35,192.59 L555.76,192.47 L556.16,192.35 L556.57,192.23 L556.97,192.1 L557.37,191.97 L557.78,191.83 L558.18,191.69 L558.59,191.54 L558.99,191.38 L559.4,191.22 L559.8,191.06 L560.21,190.89 L560.61,190.71 L561.02,190.53 L561.42,190.35 L561.82,190.16 L562.23,189.96 L562.63,189.77 L563.04,189.57 L563.44,189.36 L563.85,189.15 L564.25,188.94 L564.66,188.72 L565.06,188.5 L565.47,188.27 L565.87,188.05 L566.27,187.82 L566.68,187.58 L567.08,187.35 L567.49,187.11 L567.89,186.87 L568.3,186.62 L568.7,186.37 L569.11,186.12 L569.51,185.85 L569.92,185.58 L570.32,185.3 L570.72,185.01 L571.13,184.71 L571.53,184.41 L571.94,184.1 L572.34,183.78 L572.75,183.46 L573.15,183.14 L573.56,182.8 L573.96,182.47 L574.37,182.12 L574.77,181.78 L575.17,181.43 L575.58,181.07 L575.98,180.71 L576.39,180.35 L576.79,179.99 L577.2,179.62 L577.6,179.25 L578.01,178.88 L578.41,178.5 L578.82,178.12 L579.22,177.75 L579.62,177.37 L580.03,176.99 L580.43,176.61 L580.84,176.22 L581.24,175.83 L581.65,175.44 L582.05,175.04 L582.46,174.64 L582.86,174.23 L583.27,173.82 L583.67,173.4 L584.07,172.98 L584.48,172.55 L584.88,172.11 L585.29,171.68 L585.69,171.23 L586.1,170.78 L586.5,170.33 L586.91,169.86 L587.31,169.4 L587.72,168.92 L588.12,168.44 L588.52,167.96 L588.93,167.47 L589.33,166.97 L589.74,166.46 L590.14,165.95 L590.55,165.43 L590.95,164.89 L591.36,164.35 L591.76,163.8 L592.17,163.24 L592.57,162.67 L592.97,162.1 L593.38,161.51 L593.78,160.91 L594.19,160.3 L594.59,159.69 L595,159.06 L595.4,158.42 L595.81,157.77 L596.21,157.11 L596.62,156.44 L597.02,155.75 L597.43,155.04 L597.83,154.32 L598.23,153.58 L598.64,152.83 L599.04,152.06 L599.45,151.28 L599.85,150.48 L600.26,149.67 L600.66,148.84 L601.07,148 L601.47,147.15 L601.88,146.27 L602.28,145.37 L602.68,144.44 L603.09,143.49 L603.49,142.52 L603.9,141.54 L604.3,140.54 L604.71,139.53 L605.11,138.51 L605.52,137.48 L605.92,136.44 L606.33,135.37 L606.73,134.28 L607.13,133.18 L607.54,132.06 L607.94,130.94 L608.35,129.82 L608.75,128.72 L609.16,127.62 L609.56,126.54 L609.97,125.44 L610.37,124.34 L610.78,123.25 L611.18,122.16 L611.58,121.09 L611.99,120.03 L612.39,119 L612.8,117.99 L613.2,117.01 L613.61,116.03 L614.01,115.07 L614.42,114.11 L614.82,113.17 L615.23,112.25 L615.63,111.34 L616.03,110.47 L616.44,109.62 L616.84,108.8 L617.25,108.01 L617.65,107.26 L618.06,106.53 L618.46,105.82 L618.87,105.12 L619.27,104.45 L619.68,103.79 L620.08,103.14 L620.48,102.51 L620.89,101.89 L621.29,101.29 L621.7,100.69 L622.1,100.11 L622.51,99.53 L622.91,98.96 L623.32,98.4 L623.72,97.84 L624.13,97.29 L624.53,96.74 L624.93,96.19 L625.34,95.65 L625.74,95.1 L626.15,94.55 L626.55,94 L626.96,93.44 L627.36,92.89 L627.77,92.32 L628.17,91.75 L628.58,91.17 L628.98,90.58 L629.38,89.98 L629.79,89.37 L630.19,88.75 L630.6,88.12 L631,87.47 L631.41,86.8 L631.81,86.12 L632.22,85.42 L632.62,84.7 L633.03,83.96 L633.43,83.2 L633.83,82.42 L634.24,81.61 L634.64,80.79 L635.05,79.94 L635.45,79.08 L635.86,78.19 L636.26,77.29 L636.67,76.38 L637.07,75.45 L637.48,74.51 L637.88,73.56 L638.28,72.6 L638.69,71.63 L639.09,70.65 L639.5,69.66 L639.9,68.67 L640.31,67.67 L640.71,66.67 L641.12,65.67 L641.52,64.66 L641.93,63.66 L642.33,62.66 L642.73,61.65 L643.14,60.66 L643.54,59.66 L643.95,58.68 L644.35,57.7 L644.76,56.72 L645.16,55.74 L645.57,54.73 L645.97,53.72 L646.38,52.69 L646.78,51.65 L647.18,50.6 L647.59,49.55 L647.99,48.5 L648.4,47.44 L648.8,46.38 L649.21,45.32 L649.61,44.27 L650.02,43.22 L650.42,42.19 L650.83,41.16 L651.23,40.14 L651.63,39.14 L652.04,38.16 L652.44,37.19 L652.85,36.25 L653.25,35.32 L653.66,34.42 L654.06,33.55 L654.47,32.71 L654.87,31.88 L655.28,31.05 L655.68,30.24" fill="none" stroke="#ff8000" stroke-width="1.5" stroke-linejoin="round" stroke-dasharray="4.4,2.3"/>
<path d="M534.72,194.71 L535.12,194.6 L535.53,194.49 L535.93,194.38 L536.34,194.27 L536.74,194.15 L537.15,194.04 L537.55,193.92 L537.96,193.8 L538.36,193.69 L538.77,193.57 L539.17,193.45 L539.57,193.33 L539.98,193.21 L540.38,193.09 L540.79,192.97 L541.19,192.85 L541.6,192.73 L542,192.6 L542.41,192.48 L542.81,192.35 L543.22,192.23 L543.62,192.1 L544.02,191.97 L544.43,191.84 L544.83,191.71 L545.24,191.57 L545.64,191.44 L546.05,191.3 L546.45,191.16 L546.86,191.02 L547.26,190.88 L547.67,190.73 L548.07,190.59 L548.47,190.44 L548.88,190.28 L549.28,190.13 L549.69,189.97 L550.09,189.81 L550.5,189.65 L550.9,189.49 L551.31,189.32 L551.71,189.15 L552.12,188.97 L552.52,188.8 L552.92,188.62 L553.33,188.43 L553.73,188.25 L554.14,188.06 L554.54,187.86 L554.95,187.67 L555.35,187.47 L555.76,187.26 L556.16,187.05 L556.57,186.84 L556.97,186.63 L557.37,186.4 L557.78,186.16 L558.18,185.91 L558.59,185.65 L558.99,185.37 L559.4,185.08 L559.8,184.78 L560.21,184.47 L560.61,184.15 L561.02,183.82 L561.42,183.48 L561.82,183.14 L562.23,182.78 L562.63,182.42 L563.04,182.06 L563.44,181.69 L563.85,181.31 L564.25,180.93 L564.66,180.55 L565.06,180.16 L565.47,179.77 L565.87,179.38 L566.27,178.99 L566.68,178.59 L567.08,178.2 L567.49,177.81 L567.89,177.42 L568.3,177.03 L568.7,176.64 L569.11,176.26 L569.51,175.86 L569.92,175.47 L570.32,175.06 L570.72,174.66 L571.13,174.25 L571.53,173.84 L571.94,173.42 L572.34,173 L572.75,172.57 L573.15,172.14 L573.56,171.71 L573.96,171.27 L574.37,170.82 L574.77,170.38 L575.17,169.92 L575.58,169.47 L575.98,169.01 L576.39,168.54 L576.79,168.07 L577.2,167.6 L577.6,167.12 L578.01,166.64 L578.41,166.14 L578.82,165.65 L579.22,165.14 L579.62,164.63 L580.03,164.12 L580.43,163.59 L580.84,163.06 L581.24,162.53 L581.65,161.99 L582.05,161.44 L582.46,160.89 L582.86,160.33 L583.27,159.76 L583.67,159.19 L584.07,158.61 L584.48,158.03 L584.88,157.44 L585.29,156.85 L585.69,156.24 L586.1,155.63 L586.5,155.01 L586.91,154.38 L587.31,153.74 L587.72,153.09 L588.12,152.44 L588.52,151.78 L588.93,151.11 L589.33,150.43 L589.74,149.75 L590.14,149.07 L590.55,148.38 L590.95,147.69 L591.36,146.99 L591.76,146.28 L592.17,145.56 L592.57,144.83 L592.97,144.1 L593.38,143.36 L593.78,142.61 L594.19,141.85 L594.59,141.09 L595,140.33 L595.4,139.57 L595.81,138.81 L596.21,138.05 L596.62,137.29 L597.02,136.53 L597.43,135.76 L597.83,134.98 L598.23,134.2 L598.64,133.42 L599.04,132.64 L599.45,131.86 L599.85,131.08 L600.26,130.31 L600.66,129.53 L601.07,128.77 L601.47,128.01 L601.88,127.27 L602.28,126.52 L602.68,125.77 L603.09,125.03 L603.49,124.29 L603.9,123.55 L604.3,122.82 L604.71,122.09 L605.11,121.37 L605.52,120.65 L605.92,119.94 L606.33,119.25 L606.73,118.56 L607.13,117.88 L607.54,117.22 L607.94,116.57 L608.35,115.93 L608.75,115.3 L609.16,114.67 L609.56,114.06 L609.97,113.45 L610.37,112.84 L610.78,112.24 L611.18,111.64 L611.58,111.03 L611.99,110.43 L612.39,109.82 L612.8,109.2 L613.2,108.58 L613.61,107.95 L614.01,107.31 L614.42,106.68 L614.82,106.04 L615.23,105.4 L615.63,104.76 L616.03,104.12 L616.44,103.48 L616.84,102.84 L617.25,102.19 L617.65,101.55 L618.06,100.9 L618.46,100.26 L618.87,99.61 L619.27,98.96 L619.68,98.31 L620.08,97.66 L620.48,97 L620.89,96.35 L621.29,95.69 L621.7,95.04 L622.1,94.38 L622.51,93.72 L622.91,93.06 L623.32,92.4 L623.72,91.74 L624.13,91.07 L624.53,90.41 L624.93,89.74 L625.34,89.07 L625.74,88.4 L626.15,87.73 L626.55,87.06 L626.96,86.39 L627.36,85.71 L627.77,85.04 L628.17,84.36 L628.58,83.68 L628.98,83 L629.38,82.31 L629.79,81.62 L630.19,80.92 L630.6,80.23 L631,79.52 L631.41,78.82 L631.81,78.11 L632.22,77.4 L632.62,76.69 L633.03,75.98 L633.43,75.26 L633.83,74.54 L634.24,73.82 L634.64,73.1 L635.05,72.38 L635.45,71.66 L635.86,70.94 L636.26,70.22 L636.67,69.5 L637.07,68.78 L637.48,68.06 L637.88,67.34 L638.28,66.63 L638.69,65.91 L639.09,65.2 L639.5,64.49 L639.9,63.78 L640.31,63.08 L640.71,62.37 L641.12,61.67 L641.52,60.98 L641.93,60.28 L642.33,59.6 L642.73,58.91 L643.14,58.23 L643.54,57.56 L643.95,56.89 L644.35,56.22 L644.76,55.57 L645.16,54.92 L645.57,54.27 L645.97,53.63 L646.38,53 L646.78,52.36 L647.18,51.73 L647.59,51.1 L647.99,50.48 L648.4,49.85 L648.8,49.22 L649.21,48.59 L649.61,47.96 L650.02,47.32 L650.42,46.69 L650.83,46.05 L651.23,45.4 L651.63,44.75 L652.04,44.09 L652.44,43.42 L652.85,42.74 L653.25,42.03 L653.66,41.3 L654.06,40.57 L654.47,39.82 L654.87,39.06 L655.28,38.3 L655.68,37.54" fill="none" stroke="#ff0000" stroke-width="1.5" stroke-linejoin="round"/>
<path d="M534.72,194.95 L535.12,194.84 L535.53,194.74 L535.93,194.63 L536.34,194.52 L536.74,194.41 L537.15,194.3 L537.55,194.18 L537.96,194.07 L538.36,193.96 L538.77,193.84 L539.17,193.73 L539.57,193.62 L539.98,193.5 L540.38,193.39 L540.79,193.27 L541.19,193.16 L541.6,193.04 L542,192.92 L542.41,192.8 L542.81,192.69 L543.22,192.57 L543.62,192.45 L544.02,192.32 L544.43,192.2 L544.83,192.08 L545.24,191.95 L545.64,191.82 L546.05,191.7 L546.45,191.57 L546.86,191.43 L547.26,191.3 L547.67,191.17 L548.07,191.03 L548.47,190.89 L548.88,190.75 L549.28,190.61 L549.69,190.46 L550.09,190.31 L550.5,190.16 L550.9,190.01 L551.31,189.86 L551.71,189.7 L552.12,189.54 L552.52,189.38 L552.92,189.21 L553.33,189.04 L553.73,188.87 L554.14,188.7 L554.54,188.52 L554.95,188.34 L555.35,188.16 L555.76,187.97 L556.16,187.78 L556.57,187.59 L556.97,187.39 L557.37,187.19 L557.78,186.99 L558.18,186.78 L558.59,186.56 L558.99,186.34 L559.4,186.1 L559.8,185.85 L560.21,185.59 L560.61,185.32 L561.02,185.03 L561.42,184.73 L561.82,184.42 L562.23,184.1 L562.63,183.78 L563.04,183.44 L563.44,183.1 L563.85,182.74 L564.25,182.39 L564.66,182.02 L565.06,181.65 L565.47,181.28 L565.87,180.9 L566.27,180.52 L566.68,180.13 L567.08,179.75 L567.49,179.36 L567.89,178.97 L568.3,178.58 L568.7,178.19 L569.11,177.8 L569.51,177.41 L569.92,177.02 L570.32,176.64 L570.72,176.25 L571.13,175.86 L571.53,175.47 L571.94,175.07 L572.34,174.66 L572.75,174.25 L573.15,173.84 L573.56,173.43 L573.96,173.01 L574.37,172.58 L574.77,172.15 L575.17,171.72 L575.58,171.28 L575.98,170.83 L576.39,170.39 L576.79,169.93 L577.2,169.48 L577.6,169.02 L578.01,168.55 L578.41,168.08 L578.82,167.6 L579.22,167.12 L579.62,166.64 L580.03,166.15 L580.43,165.65 L580.84,165.14 L581.24,164.63 L581.65,164.11 L582.05,163.58 L582.46,163.05 L582.86,162.51 L583.27,161.96 L583.67,161.41 L584.07,160.85 L584.48,160.29 L584.88,159.71 L585.29,159.14 L585.69,158.55 L586.1,157.96 L586.5,157.37 L586.91,156.77 L587.31,156.16 L587.72,155.53 L588.12,154.9 L588.52,154.26 L588.93,153.61 L589.33,152.95 L589.74,152.28 L590.14,151.61 L590.55,150.93 L590.95,150.24 L591.36,149.55 L591.76,148.85 L592.17,148.15 L592.57,147.44 L592.97,146.73 L593.38,146.01 L593.78,145.27 L594.19,144.53 L594.59,143.77 L595,143.01 L595.4,142.25 L595.81,141.47 L596.21,140.7 L596.62,139.93 L597.02,139.15 L597.43,138.38 L597.83,137.6 L598.23,136.83 L598.64,136.05 L599.04,135.26 L599.45,134.47 L599.85,133.68 L600.26,132.89 L600.66,132.09 L601.07,131.3 L601.47,130.51 L601.88,129.73 L602.28,128.96 L602.68,128.19 L603.09,127.44 L603.49,126.68 L603.9,125.93 L604.3,125.18 L604.71,124.44 L605.11,123.69 L605.52,122.96 L605.92,122.22 L606.33,121.5 L606.73,120.78 L607.13,120.07 L607.54,119.37 L607.94,118.68 L608.35,118.01 L608.75,117.34 L609.16,116.7 L609.56,116.07 L609.97,115.46 L610.37,114.86 L610.78,114.26 L611.18,113.67 L611.58,113.09 L611.99,112.51 L612.39,111.92 L612.8,111.33 L613.2,110.73 L613.61,110.12 L614.01,109.49 L614.42,108.85 L614.82,108.19 L615.23,107.51 L615.63,106.82 L616.03,106.11 L616.44,105.39 L616.84,104.65 L617.25,103.9 L617.65,103.15 L618.06,102.38 L618.46,101.6 L618.87,100.82 L619.27,100.02 L619.68,99.22 L620.08,98.42 L620.48,97.61 L620.89,96.8 L621.29,95.98 L621.7,95.17 L622.1,94.35 L622.51,93.53 L622.91,92.71 L623.32,91.89 L623.72,91.08 L624.13,90.27 L624.53,89.46 L624.93,88.66 L625.34,87.87 L625.74,87.08 L626.15,86.3 L626.55,85.53 L626.96,84.77 L627.36,84.02 L627.77,83.27 L628.17,82.54 L628.58,81.81 L628.98,81.09 L629.38,80.37 L629.79,79.66 L630.19,78.96 L630.6,78.25 L631,77.55 L631.41,76.86 L631.81,76.17 L632.22,75.48 L632.62,74.79 L633.03,74.11 L633.43,73.42 L633.83,72.74 L634.24,72.06 L634.64,71.38 L635.05,70.7 L635.45,70.02 L635.86,69.33 L636.26,68.65 L636.67,67.96 L637.07,67.28 L637.48,66.59 L637.88,65.89 L638.28,65.2 L638.69,64.5 L639.09,63.8 L639.5,63.09 L639.9,62.38 L640.31,61.66 L640.71,60.94 L641.12,60.21 L641.52,59.47 L641.93,58.73 L642.33,57.98 L642.73,57.22 L643.14,56.46 L643.54,55.67 L643.95,54.88 L644.35,54.07 L644.76,53.25 L645.16,52.43 L645.57,51.6 L645.97,50.76 L646.38,49.93 L646.78,49.09 L647.18,48.26 L647.59,47.43 L647.99,46.61 L648.4,45.79 L648.8,44.99 L649.21,44.2 L649.61,43.41 L650.02,42.63 L650.42,41.83 L650.83,41.03 L651.23,40.22 L651.63,39.4 L652.04,38.6 L652.44,37.79 L652.85,37 L653.25,36.21 L653.66,35.44 L654.06,34.69 L654.47,33.96 L654.87,33.26 L655.28,32.58 L655.68,31.94" fill="none" stroke="#0000ff" stroke-width="1.5" stroke-linejoin="round"/>
</g>
<rect x="544.8" y="107.8" width="100.8" height="79.7" fill="none" stroke="#000" stroke-width="1.4"/>
<line x1="538.8" y1="187.5" x2="544.8" y2="187.5" stroke="#000" stroke-width="1.4"/>
<text x="534.4" y="191.6" font-size="13.4" text-anchor="end" stroke="#000" stroke-width="0.25" >0.1</text>
<line x1="541.8" y1="177.54" x2="544.8" y2="177.54" stroke="#000" stroke-width="1.4"/>
<line x1="538.8" y1="167.57" x2="544.8" y2="167.57" stroke="#000" stroke-width="1.4"/>
<text x="534.4" y="171.67" font-size="13.4" text-anchor="end" stroke="#000" stroke-width="0.25" >0.2</text>
<line x1="541.8" y1="157.61" x2="544.8" y2="157.61" stroke="#000" stroke-width="1.4"/>
<line x1="538.8" y1="147.65" x2="544.8" y2="147.65" stroke="#000" stroke-width="1.4"/>
<text x="534.4" y="151.75" font-size="13.4" text-anchor="end" stroke="#000" stroke-width="0.25" >0.3</text>
<line x1="541.8" y1="137.69" x2="544.8" y2="137.69" stroke="#000" stroke-width="1.4"/>
<line x1="538.8" y1="127.72" x2="544.8" y2="127.72" stroke="#000" stroke-width="1.4"/>
<text x="534.4" y="131.82" font-size="13.4" text-anchor="end" stroke="#000" stroke-width="0.25" >0.4</text>
<line x1="541.8" y1="117.76" x2="544.8" y2="117.76" stroke="#000" stroke-width="1.4"/>
<line x1="538.8" y1="107.8" x2="544.8" y2="107.8" stroke="#000" stroke-width="1.4"/>
<text x="534.4" y="111.9" font-size="13.4" text-anchor="end" stroke="#000" stroke-width="0.25" >0.5</text>
<line x1="544.8" y1="187.5" x2="544.8" y2="193.5" stroke="#000" stroke-width="1.4"/>
<text x="544.8" y="208.3" font-size="13.4" text-anchor="middle" stroke="#000" stroke-width="0.25" >24.34</text>
<line x1="570" y1="187.5" x2="570" y2="190.5" stroke="#000" stroke-width="1.4"/>
<line x1="595.2" y1="187.5" x2="595.2" y2="193.5" stroke="#000" stroke-width="1.4"/>
<text x="595.2" y="208.3" font-size="13.4" text-anchor="middle" stroke="#000" stroke-width="0.25" >24.35</text>
<line x1="620.4" y1="187.5" x2="620.4" y2="190.5" stroke="#000" stroke-width="1.4"/>
<line x1="645.6" y1="187.5" x2="645.6" y2="193.5" stroke="#000" stroke-width="1.4"/>
<text x="645.6" y="208.3" font-size="13.4" text-anchor="middle" stroke="#000" stroke-width="0.25" >24.36</text>
<line x1="379.5" y1="25.8" x2="411.2" y2="25.8" stroke="#ff0000" stroke-width="1.5"/>
<text x="414.4" y="30.4" font-size="13.4" text-anchor="start" stroke="#000" stroke-width="0.25" >PdOAc/SiO<tspan font-size="9.5" dy="3.9">2</tspan></text>
<line x1="379.5" y1="45.6" x2="411.2" y2="45.6" stroke="#0000ff" stroke-width="1.5"/>
<text x="414.4" y="50" font-size="13.4" text-anchor="start" stroke="#000" stroke-width="0.25" >PdOAc/KOAc/SiO<tspan font-size="9.5" dy="3.9">2</tspan></text>
<line x1="379.5" y1="65.5" x2="411.2" y2="65.5" stroke="#000000" stroke-width="1.5" stroke-dasharray="4.4,2.3"/>
<text x="414.4" y="69.7" font-size="13.4" text-anchor="start" stroke="#000" stroke-width="0.25" >Pd foil</text>
<line x1="379.5" y1="82.7" x2="411.2" y2="82.7" stroke="#008000" stroke-width="1.5" stroke-dasharray="4.4,2.3"/>
<text x="414.4" y="86.9" font-size="13.4" text-anchor="start" stroke="#000" stroke-width="0.25" >PdO</text>
<line x1="379.5" y1="99.6" x2="411.2" y2="99.6" stroke="#ff8000" stroke-width="1.5" stroke-dasharray="4.4,2.3"/>
<text x="414.4" y="103.5" font-size="13.4" text-anchor="start" stroke="#000" stroke-width="0.25" >Pd(acac)<tspan font-size="9.5" dy="3.9">2</tspan></text>
<g clip-path="url(#clipd)">
<path d="M373.1,516.56 L373.59,516.11 L374.09,515.53 L374.58,514.89 L375.07,514.23 L375.56,513.59 L376.06,512.98 L376.55,512.4 L377.04,511.86 L377.54,511.35 L378.03,510.87 L378.52,510.42 L379.01,509.99 L379.51,509.56 L380,509.13 L380.49,508.72 L380.99,508.32 L381.48,507.93 L381.97,507.58 L382.46,507.25 L382.96,506.96 L383.45,506.72 L383.94,506.52 L384.43,506.38 L384.93,506.31 L385.42,506.29 L385.91,506.35 L386.41,506.47 L386.9,506.65 L387.39,506.89 L387.88,507.17 L388.38,507.49 L388.87,507.85 L389.36,508.23 L389.86,508.62 L390.35,509.03 L390.84,509.44 L391.33,509.84 L391.83,510.24 L392.32,510.64 L392.81,511.07 L393.31,511.53 L393.8,512.02 L394.29,512.54 L394.78,513.09 L395.28,513.64 L395.77,514.18 L396.26,514.69 L396.76,515.18 L397.25,515.61 L397.74,515.97 L398.23,516.25 L398.73,516.44 L399.22,516.51 L399.71,516.43 L400.21,516.2 L400.7,515.81 L401.19,515.28 L401.68,514.63 L402.18,513.89 L402.67,513.09 L403.16,512.26 L403.65,511.43 L404.15,510.62 L404.64,509.88 L405.13,509.22 L405.63,508.66 L406.12,508.22 L406.61,507.87 L407.1,507.59 L407.6,507.35 L408.09,507.14 L408.58,506.93 L409.08,506.74 L409.57,506.56 L410.06,506.4 L410.55,506.25 L411.05,506.12 L411.54,506.02 L412.03,505.94 L412.53,505.88 L413.02,505.86 L413.51,505.88 L414,505.96 L414.5,506.1 L414.99,506.3 L415.48,506.57 L415.98,506.88 L416.47,507.24 L416.96,507.63 L417.45,508.04 L417.95,508.47 L418.44,508.9 L418.93,509.33 L419.43,509.74 L419.92,510.14 L420.41,510.53 L420.9,510.92 L421.4,511.32 L421.89,511.74 L422.38,512.18 L422.87,512.62 L423.37,513.07 L423.86,513.5 L424.35,513.92 L424.85,514.3 L425.34,514.64 L425.83,514.93 L426.32,515.15 L426.82,515.3 L427.31,515.37 L427.8,515.35 L428.3,515.23 L428.79,515.02 L429.28,514.73 L429.77,514.36 L430.27,513.92 L430.76,513.43 L431.25,512.9 L431.75,512.33 L432.24,511.75 L432.73,511.15 L433.22,510.56 L433.72,509.98 L434.21,509.42 L434.7,508.9 L435.2,508.43 L435.69,508.01 L436.18,507.67 L436.67,507.4 L437.17,507.21 L437.66,507.11 L438.15,507.08 L438.65,507.11 L439.14,507.19 L439.63,507.3 L440.12,507.45 L440.62,507.62 L441.11,507.82 L441.6,508.04 L442.09,508.28 L442.59,508.54 L443.08,508.81 L443.57,509.1 L444.07,509.42 L444.56,509.79 L445.05,510.24 L445.54,510.79 L446.04,511.44 L446.53,512.16 L447.02,512.9 L447.52,513.61 L448.01,514.24 L448.5,514.74 L448.99,515.08 L449.49,515.22 L449.98,515.15 L450.47,514.9 L450.97,514.48 L451.46,513.93 L451.95,513.26 L452.44,512.51 L452.94,511.7 L453.43,510.87 L453.92,510.02 L454.42,509.21 L454.91,508.43 L455.4,507.74 L455.89,507.12 L456.39,506.6 L456.88,506.14 L457.37,505.73 L457.87,505.33 L458.36,504.95 L458.85,504.58 L459.34,504.23 L459.84,503.88 L460.33,503.56 L460.82,503.26 L461.32,502.98 L461.81,502.73 L462.3,502.52 L462.79,502.34 L463.29,502.21 L463.78,502.12 L464.27,502.08 L464.76,502.1 L465.26,502.18 L465.75,502.32 L466.24,502.53 L466.74,502.79 L467.23,503.09 L467.72,503.44 L468.21,503.81 L468.71,504.22 L469.2,504.63 L469.69,505.06 L470.19,505.5 L470.68,505.96 L471.17,506.45 L471.66,507 L472.16,507.62 L472.65,508.31 L473.14,509.04 L473.64,509.79 L474.13,510.53 L474.62,511.22 L475.11,511.85 L475.61,512.37 L476.1,512.75 L476.59,512.97 L477.09,512.99 L477.58,512.8 L478.07,512.39 L478.56,511.78 L479.06,511.01 L479.55,510.12 L480.04,509.16 L480.54,508.16 L481.03,507.14 L481.52,506.1 L482.01,505.01 L482.51,503.84 L483,502.61 L483.49,501.31 L483.98,500 L484.48,498.7 L484.97,497.47 L485.46,496.33 L485.96,495.33 L486.45,494.48 L486.94,493.76 L487.43,493.13 L487.93,492.58 L488.42,492.07 L488.91,491.61 L489.41,491.2 L489.9,490.86 L490.39,490.59 L490.88,490.42 L491.38,490.33 L491.87,490.34 L492.36,490.44 L492.86,490.62 L493.35,490.87 L493.84,491.18 L494.33,491.54 L494.83,491.94 L495.32,492.38 L495.81,492.85 L496.31,493.33 L496.8,493.86 L497.29,494.43 L497.78,495.07 L498.28,495.79 L498.77,496.56 L499.26,497.38 L499.76,498.25 L500.25,499.16 L500.74,500.13 L501.23,501.12 L501.73,502.09 L502.22,502.93 L502.71,503.55 L503.2,503.88 L503.7,503.89 L504.19,503.56 L504.68,502.95 L505.18,502.1 L505.67,501.04 L506.16,499.78 L506.65,498.26 L507.15,496.41 L507.64,494.17 L508.13,491.58 L508.63,488.75 L509.12,485.88 L509.61,483.1 L510.1,480.52 L510.6,478.16 L511.09,475.98 L511.58,473.91 L512.08,471.93 L512.57,470 L513.06,468.11 L513.55,466.26 L514.05,464.43 L514.54,462.64 L515.03,460.88 L515.53,459.14 L516.02,457.43 L516.51,455.72 L517,454 L517.5,452.25 L517.99,450.49 L518.48,448.75 L518.98,447.08 L519.47,445.51 L519.96,444.1 L520.45,442.86 L520.95,441.79 L521.44,440.84 L521.93,439.99 L522.42,439.22 L522.92,438.53 L523.41,437.95 L523.9,437.49 L524.4,437.18 L524.89,437.02 L525.38,437.03 L525.87,437.18 L526.37,437.45 L526.86,437.83 L527.35,438.29 L527.85,438.83 L528.34,439.41 L528.83,440.04 L529.32,440.69 L529.82,441.39 L530.31,442.14 L530.8,442.99 L531.3,443.94 L531.79,444.99 L532.28,446.1 L532.77,447.22 L533.27,448.32 L533.76,449.35 L534.25,450.27 L534.75,451.07 L535.24,451.74 L535.73,452.31 L536.22,452.79 L536.72,453.17 L537.21,453.38 L537.7,453.37 L538.2,453.03 L538.69,452.32 L539.18,451.23 L539.67,449.8 L540.17,448.11 L540.66,446.25 L541.15,444.28 L541.64,442.24 L542.14,440.1 L542.63,437.83 L543.12,435.4 L543.62,432.8 L544.11,430.07 L544.6,427.23 L545.09,424.28 L545.59,421.21 L546.08,418.02 L546.57,414.73 L547.07,411.35 L547.56,407.93 L548.05,404.5 L548.54,401.08 L549.04,397.67 L549.53,394.29 L550.02,390.99 L550.52,387.8 L551.01,384.75 L551.5,381.87 L551.99,379.13 L552.49,376.56 L552.98,374.16 L553.47,371.95 L553.97,369.9 L554.46,368.01 L554.95,366.24 L555.44,364.61 L555.94,363.09 L556.43,361.68 L556.92,360.39 L557.42,359.22 L557.91,358.21 L558.4,357.38 L558.89,356.72 L559.39,356.21 L559.88,355.83 L560.37,355.61 L560.86,355.55 L561.36,355.65 L561.85,355.92 L562.34,356.32 L562.84,356.85 L563.33,357.52 L563.82,358.35 L564.31,359.36 L564.81,360.57 L565.3,361.99 L565.79,363.63 L566.29,365.49 L566.78,367.54 L567.27,369.75 L567.76,372.09 L568.26,374.58 L568.75,377.19 L569.24,379.88 L569.74,382.6 L570.23,385.29 L570.72,387.92 L571.21,390.5 L571.71,393.08 L572.2,395.71 L572.69,398.47 L573.19,401.38 L573.68,404.46 L574.17,407.69 L574.66,411.03 L575.16,414.45 L575.65,417.92 L576.14,421.43 L576.64,424.98 L577.13,428.58 L577.62,432.2 L578.11,435.87 L578.61,439.56 L579.1,443.29 L579.59,447.04 L580.08,450.81 L580.58,454.62 L581.07,458.45 L581.56,462.33 L582.06,466.29 L582.55,470.31 L583.04,474.39 L583.53,478.45 L584.03,482.43 L584.52,486.32 L585.01,490.13 L585.51,493.9 L586,497.62 L586.49,501.15 L586.98,504.25 L587.48,506.66 L587.97,508.17 L588.46,508.7 L588.96,508.38 L589.45,507.43 L589.94,506.14 L590.43,504.76 L590.93,503.48 L591.42,502.36 L591.91,501.38 L592.41,500.5 L592.9,499.69 L593.39,498.93 L593.88,498.21 L594.38,497.53 L594.87,496.87 L595.36,496.22 L595.86,495.58 L596.35,494.93 L596.84,494.3 L597.33,493.7 L597.83,493.15 L598.32,492.68 L598.81,492.3 L599.31,492.03 L599.8,491.88 L600.29,491.85 L600.78,491.92 L601.28,492.08 L601.77,492.31 L602.26,492.6 L602.75,492.95 L603.25,493.35 L603.74,493.78 L604.23,494.25 L604.73,494.74 L605.22,495.28 L605.71,495.89 L606.2,496.59 L606.7,497.4 L607.19,498.33 L607.68,499.35 L608.18,500.42 L608.67,501.53 L609.16,502.64 L609.65,503.72 L610.15,504.76 L610.64,505.76 L611.13,506.73 L611.63,507.69 L612.12,508.67 L612.61,509.66 L613.1,510.65 L613.6,511.61 L614.09,512.51 L614.58,513.33 L615.08,514.06 L615.57,514.65 L616.06,515.1 L616.55,515.38 L617.05,515.51 L617.54,515.49 L618.03,515.36 L618.53,515.13 L619.02,514.83 L619.51,514.47 L620,514.06 L620.5,513.63 L620.99,513.17 L621.48,512.72 L621.97,512.27 L622.47,511.84 L622.96,511.44 L623.45,511.07 L623.95,510.71 L624.44,510.37 L624.93,510.03 L625.42,509.7 L625.92,509.36 L626.41,509.02 L626.9,508.68 L627.4,508.32 L627.89,507.95 L628.38,507.57 L628.87,507.16 L629.37,506.74 L629.86,506.28 L630.35,505.78 L630.85,505.23 L631.34,504.62 L631.83,503.97 L632.32,503.27 L632.82,502.53 L633.31,501.77 L633.8,500.98 L634.3,500.19 L634.79,499.4 L635.28,498.61 L635.77,497.84 L636.27,497.09 L636.76,496.38 L637.25,495.71 L637.75,495.09 L638.24,494.53 L638.73,494.01 L639.22,493.53 L639.72,493.08 L640.21,492.64 L640.7,492.2 L641.19,491.77 L641.69,491.35 L642.18,490.94 L642.67,490.54 L643.17,490.17 L643.66,489.81 L644.15,489.49 L644.64,489.19 L645.14,488.93 L645.63,488.71 L646.12,488.53 L646.62,488.39 L647.11,488.31 L647.6,488.27 L648.09,488.3 L648.59,488.38 L649.08,488.52 L649.57,488.71 L650.07,488.96 L650.56,489.26 L651.05,489.6 L651.54,489.99 L652.04,490.41 L652.53,490.87 L653.02,491.37 L653.52,491.89 L654.01,492.44 L654.5,493.02 L654.99,493.61 L655.49,494.24 L655.98,494.91 L656.47,495.68 L656.97,496.61 L657.46,497.74 L657.95,499.09 L658.44,500.61 L658.94,502.24 L659.43,503.91 L659.92,505.56 L660.41,507.09 L660.91,508.44 L661.4,509.54 L661.89,510.35 L662.39,510.87 L662.88,511.13 L663.37,511.22 L663.86,511.22 L664.36,511.17 L664.85,511.06 L665.34,510.91 L665.84,510.7 L666.33,510.41 L666.82,510.06 L667.31,509.64 L667.81,509.22 L668.3,508.87" fill="none" stroke="#000000" stroke-width="1.5" stroke-linejoin="round" stroke-dasharray="4.4,2.3"/>
<path d="M373.1,508.84 L373.59,508.87 L374.09,508.92 L374.58,508.97 L375.07,509.03 L375.56,509.08 L376.06,509.13 L376.55,509.17 L377.04,509.22 L377.54,509.26 L378.03,509.3 L378.52,509.33 L379.01,509.37 L379.51,509.4 L380,509.43 L380.49,509.46 L380.99,509.49 L381.48,509.51 L381.97,509.53 L382.46,509.55 L382.96,509.57 L383.45,509.59 L383.94,509.61 L384.43,509.62 L384.93,509.63 L385.42,509.65 L385.91,509.66 L386.41,509.67 L386.9,509.67 L387.39,509.68 L387.88,509.69 L388.38,509.69 L388.87,509.69 L389.36,509.7 L389.86,509.7 L390.35,509.7 L390.84,509.69 L391.33,509.68 L391.83,509.67 L392.32,509.64 L392.81,509.61 L393.31,509.58 L393.8,509.54 L394.29,509.49 L394.78,509.44 L395.28,509.38 L395.77,509.32 L396.26,509.26 L396.76,509.19 L397.25,509.12 L397.74,509.05 L398.23,508.98 L398.73,508.9 L399.22,508.83 L399.71,508.75 L400.21,508.68 L400.7,508.6 L401.19,508.53 L401.68,508.46 L402.18,508.39 L402.67,508.33 L403.16,508.26 L403.65,508.2 L404.15,508.15 L404.64,508.1 L405.13,508.05 L405.63,508.01 L406.12,507.98 L406.61,507.95 L407.1,507.93 L407.6,507.91 L408.09,507.91 L408.58,507.9 L409.08,507.9 L409.57,507.9 L410.06,507.9 L410.55,507.9 L411.05,507.9 L411.54,507.9 L412.03,507.9 L412.53,507.9 L413.02,507.9 L413.51,507.9 L414,507.9 L414.5,507.9 L414.99,507.9 L415.48,507.9 L415.98,507.9 L416.47,507.9 L416.96,507.9 L417.45,507.9 L417.95,507.9 L418.44,507.9 L418.93,507.9 L419.43,507.9 L419.92,507.89 L420.41,507.88 L420.9,507.85 L421.4,507.82 L421.89,507.77 L422.38,507.7 L422.87,507.63 L423.37,507.54 L423.86,507.44 L424.35,507.34 L424.85,507.23 L425.34,507.11 L425.83,506.99 L426.32,506.86 L426.82,506.73 L427.31,506.6 L427.8,506.47 L428.3,506.33 L428.79,506.2 L429.28,506.06 L429.77,505.92 L430.27,505.78 L430.76,505.62 L431.25,505.46 L431.75,505.29 L432.24,505.12 L432.73,504.93 L433.22,504.74 L433.72,504.54 L434.21,504.32 L434.7,504.1 L435.2,503.87 L435.69,503.63 L436.18,503.37 L436.67,503.11 L437.17,502.82 L437.66,502.51 L438.15,502.16 L438.65,501.77 L439.14,501.34 L439.63,500.86 L440.12,500.34 L440.62,499.81 L441.11,499.25 L441.6,498.69 L442.09,498.14 L442.59,497.59 L443.08,497.07 L443.57,496.57 L444.07,496.1 L444.56,495.67 L445.05,495.26 L445.54,494.87 L446.04,494.49 L446.53,494.12 L447.02,493.76 L447.52,493.42 L448.01,493.1 L448.5,492.81 L448.99,492.55 L449.49,492.31 L449.98,492.1 L450.47,491.9 L450.97,491.73 L451.46,491.56 L451.95,491.41 L452.44,491.27 L452.94,491.13 L453.43,491.02 L453.92,490.91 L454.42,490.83 L454.91,490.75 L455.4,490.7 L455.89,490.65 L456.39,490.61 L456.88,490.58 L457.37,490.56 L457.87,490.53 L458.36,490.51 L458.85,490.49 L459.34,490.46 L459.84,490.43 L460.33,490.38 L460.82,490.31 L461.32,490.18 L461.81,489.96 L462.3,489.63 L462.79,489.19 L463.29,488.63 L463.78,487.99 L464.27,487.29 L464.76,486.54 L465.26,485.77 L465.75,484.97 L466.24,484.12 L466.74,483.21 L467.23,482.24 L467.72,481.19 L468.21,480.09 L468.71,478.94 L469.2,477.76 L469.69,476.54 L470.19,475.32 L470.68,474.09 L471.17,472.87 L471.66,471.67 L472.16,470.49 L472.65,469.33 L473.14,468.19 L473.64,467.05 L474.13,465.9 L474.62,464.75 L475.11,463.59 L475.61,462.44 L476.1,461.29 L476.59,460.16 L477.09,459.05 L477.58,457.96 L478.07,456.89 L478.56,455.86 L479.06,454.86 L479.55,453.88 L480.04,452.91 L480.54,451.93 L481.03,450.94 L481.52,449.93 L482.01,448.93 L482.51,447.97 L483,447.07 L483.49,446.24 L483.98,445.53 L484.48,444.96 L484.97,444.53 L485.46,444.27 L485.96,444.14 L486.45,444.13 L486.94,444.2 L487.43,444.33 L487.93,444.5 L488.42,444.7 L488.91,444.94 L489.41,445.21 L489.9,445.54 L490.39,445.94 L490.88,446.45 L491.38,447.07 L491.87,447.8 L492.36,448.64 L492.86,449.55 L493.35,450.53 L493.84,451.54 L494.33,452.59 L494.83,453.67 L495.32,454.78 L495.81,455.94 L496.31,457.17 L496.8,458.47 L497.29,459.82 L497.78,461.24 L498.28,462.69 L498.77,464.19 L499.26,465.72 L499.76,467.28 L500.25,468.89 L500.74,470.55 L501.23,472.28 L501.73,474.06 L502.22,475.88 L502.71,477.72 L503.2,479.56 L503.7,481.37 L504.19,483.14 L504.68,484.85 L505.18,486.51 L505.67,488.12 L506.16,489.69 L506.65,491.23 L507.15,492.74 L507.64,494.23 L508.13,495.68 L508.63,497.12 L509.12,498.53 L509.61,499.95 L510.1,501.38 L510.6,502.86 L511.09,504.4 L511.58,505.97 L512.08,507.51 L512.57,508.98 L513.06,510.31 L513.55,511.44 L514.05,512.31 L514.54,512.9 L515.03,513.23 L515.53,513.35 L516.02,513.35 L516.51,513.27 L517,513.15 L517.5,513 L517.99,512.83 L518.48,512.64 L518.98,512.43 L519.47,512.21 L519.96,511.95 L520.45,511.64 L520.95,511.26 L521.44,510.82 L521.93,510.32 L522.42,509.78 L522.92,509.24 L523.41,508.71 L523.9,508.22 L524.4,507.8 L524.89,507.48 L525.38,507.26 L525.87,507.16 L526.37,507.17 L526.86,507.28 L527.35,507.47 L527.85,507.73 L528.34,508.03 L528.83,508.36 L529.32,508.71 L529.82,509.06 L530.31,509.4 L530.8,509.72 L531.3,510.01 L531.79,510.26 L532.28,510.49 L532.77,510.71 L533.27,510.92 L533.76,511.12 L534.25,511.31 L534.75,511.48 L535.24,511.62 L535.73,511.72 L536.22,511.77 L536.72,511.71 L537.21,511.52 L537.7,511.14 L538.2,510.57 L538.69,509.82 L539.18,508.93 L539.67,507.95 L540.17,506.91 L540.66,505.86 L541.15,504.84 L541.64,503.84 L542.14,502.88 L542.63,501.93 L543.12,500.98 L543.62,500.04 L544.11,499.12 L544.6,498.23 L545.09,497.38 L545.59,496.56 L546.08,495.76 L546.57,494.98 L547.07,494.23 L547.56,493.51 L548.05,492.84 L548.54,492.23 L549.04,491.69 L549.53,491.22 L550.02,490.81 L550.52,490.44 L551.01,490.09 L551.5,489.78 L551.99,489.47 L552.49,489.19 L552.98,488.92 L553.47,488.67 L553.97,488.43 L554.46,488.21 L554.95,488 L555.44,487.81 L555.94,487.63 L556.43,487.46 L556.92,487.31 L557.42,487.17 L557.91,487.04 L558.4,486.93 L558.89,486.83 L559.39,486.74 L559.88,486.66 L560.37,486.58 L560.86,486.52 L561.36,486.45 L561.85,486.39 L562.34,486.33 L562.84,486.27 L563.33,486.2 L563.82,486.13 L564.31,486.04 L564.81,485.95 L565.3,485.85 L565.79,485.73 L566.29,485.58 L566.78,485.39 L567.27,485.13 L567.76,484.8 L568.26,484.37 L568.75,483.86 L569.24,483.28 L569.74,482.61 L570.23,481.89 L570.72,481.1 L571.21,480.27 L571.71,479.4 L572.2,478.49 L572.69,477.56 L573.19,476.61 L573.68,475.65 L574.17,474.69 L574.66,473.74 L575.16,472.81 L575.65,471.89 L576.14,470.99 L576.64,470.11 L577.13,469.22 L577.62,468.32 L578.11,467.38 L578.61,466.42 L579.1,465.43 L579.59,464.43 L580.08,463.42 L580.58,462.42 L581.07,461.42 L581.56,460.46 L582.06,459.52 L582.55,458.63 L583.04,457.78 L583.53,457 L584.03,456.28 L584.52,455.63 L585.01,455.04 L585.51,454.49 L586,453.97 L586.49,453.45 L586.98,452.95 L587.48,452.46 L587.97,451.98 L588.46,451.51 L588.96,451.07 L589.45,450.64 L589.94,450.25 L590.43,449.88 L590.93,449.54 L591.42,449.24 L591.91,448.98 L592.41,448.76 L592.9,448.59 L593.39,448.46 L593.88,448.38 L594.38,448.35 L594.87,448.36 L595.36,448.41 L595.86,448.48 L596.35,448.58 L596.84,448.69 L597.33,448.83 L597.83,448.99 L598.32,449.19 L598.81,449.45 L599.31,449.77 L599.8,450.15 L600.29,450.59 L600.78,451.09 L601.28,451.64 L601.77,452.23 L602.26,452.86 L602.75,453.52 L603.25,454.2 L603.74,454.89 L604.23,455.6 L604.73,456.33 L605.22,457.09 L605.71,457.9 L606.2,458.76 L606.7,459.68 L607.19,460.65 L607.68,461.68 L608.18,462.74 L608.67,463.84 L609.16,464.95 L609.65,466.08 L610.15,467.22 L610.64,468.35 L611.13,469.47 L611.63,470.57 L612.12,471.65 L612.61,472.7 L613.1,473.74 L613.6,474.78 L614.09,475.81 L614.58,476.84 L615.08,477.88 L615.57,478.92 L616.06,479.95 L616.55,480.98 L617.05,482 L617.54,483.01 L618.03,484.01 L618.53,485 L619.02,485.98 L619.51,486.94 L620,487.89 L620.5,488.81 L620.99,489.72 L621.48,490.62 L621.97,491.51 L622.47,492.4 L622.96,493.28 L623.45,494.16 L623.95,495.04 L624.44,495.91 L624.93,496.76 L625.42,497.61 L625.92,498.43 L626.41,499.23 L626.9,500.01 L627.4,500.76 L627.89,501.48 L628.38,502.16 L628.87,502.81 L629.37,503.42 L629.86,504 L630.35,504.54 L630.85,505.06 L631.34,505.56 L631.83,506.05 L632.32,506.53 L632.82,506.99 L633.31,507.44 L633.8,507.87 L634.3,508.29 L634.79,508.69 L635.28,509.07 L635.77,509.44 L636.27,509.78 L636.76,510.11 L637.25,510.41 L637.75,510.7 L638.24,510.96 L638.73,511.2 L639.22,511.42 L639.72,511.63 L640.21,511.82 L640.7,512 L641.19,512.18 L641.69,512.34 L642.18,512.5 L642.67,512.65 L643.17,512.79 L643.66,512.93 L644.15,513.06 L644.64,513.2 L645.14,513.33 L645.63,513.45 L646.12,513.58 L646.62,513.71 L647.11,513.84 L647.6,513.98 L648.09,514.12 L648.59,514.26 L649.08,514.42 L649.57,514.57 L650.07,514.73 L650.56,514.89 L651.05,515.05 L651.54,515.21 L652.04,515.37 L652.53,515.52 L653.02,515.67 L653.52,515.82 L654.01,515.95 L654.5,516.08 L654.99,516.19 L655.49,516.29 L655.98,516.38 L656.47,516.46 L656.97,516.51 L657.46,516.54 L657.95,516.54 L658.44,516.49 L658.94,516.38 L659.43,516.2 L659.92,515.95 L660.41,515.64 L660.91,515.28 L661.4,514.89 L661.89,514.47 L662.39,514.05 L662.88,513.63 L663.37,513.21 L663.86,512.8 L664.36,512.38 L664.85,511.94 L665.34,511.5 L665.84,511.03 L666.33,510.55 L666.82,510.06 L667.31,509.58 L667.81,509.15 L668.3,508.83" fill="none" stroke="#008000" stroke-width="1.5" stroke-linejoin="round" stroke-dasharray="4.4,2.3"/>
<path d="M373.1,503.68 L373.59,503.86 L374.09,504.09 L374.58,504.34 L375.07,504.6 L375.56,504.83 L376.06,505.05 L376.55,505.25 L377.04,505.43 L377.54,505.59 L378.03,505.72 L378.52,505.82 L379.01,505.9 L379.51,505.95 L380,505.97 L380.49,505.96 L380.99,505.93 L381.48,505.88 L381.97,505.82 L382.46,505.74 L382.96,505.64 L383.45,505.54 L383.94,505.43 L384.43,505.31 L384.93,505.19 L385.42,505.07 L385.91,504.95 L386.41,504.84 L386.9,504.73 L387.39,504.62 L387.88,504.53 L388.38,504.43 L388.87,504.34 L389.36,504.24 L389.86,504.14 L390.35,504.04 L390.84,503.94 L391.33,503.84 L391.83,503.73 L392.32,503.64 L392.81,503.54 L393.31,503.45 L393.8,503.36 L394.29,503.28 L394.78,503.21 L395.28,503.15 L395.77,503.1 L396.26,503.06 L396.76,503.04 L397.25,503.04 L397.74,503.07 L398.23,503.13 L398.73,503.24 L399.22,503.39 L399.71,503.57 L400.21,503.78 L400.7,504 L401.19,504.23 L401.68,504.45 L402.18,504.66 L402.67,504.86 L403.16,505.05 L403.65,505.23 L404.15,505.42 L404.64,505.6 L405.13,505.78 L405.63,505.95 L406.12,506.1 L406.61,506.24 L407.1,506.34 L407.6,506.4 L408.09,506.39 L408.58,506.31 L409.08,506.13 L409.57,505.85 L410.06,505.47 L410.55,505 L411.05,504.47 L411.54,503.88 L412.03,503.25 L412.53,502.57 L413.02,501.81 L413.51,500.96 L414,500 L414.5,498.97 L414.99,497.96 L415.48,497.03 L415.98,496.22 L416.47,495.52 L416.96,494.91 L417.45,494.36 L417.95,493.85 L418.44,493.39 L418.93,492.98 L419.43,492.64 L419.92,492.38 L420.41,492.2 L420.9,492.11 L421.4,492.1 L421.89,492.15 L422.38,492.26 L422.87,492.41 L423.37,492.59 L423.86,492.8 L424.35,493.04 L424.85,493.29 L425.34,493.58 L425.83,493.91 L426.32,494.3 L426.82,494.75 L427.31,495.25 L427.8,495.79 L428.3,496.37 L428.79,496.98 L429.28,497.59 L429.77,498.21 L430.27,498.85 L430.76,499.53 L431.25,500.25 L431.75,501.02 L432.24,501.82 L432.73,502.61 L433.22,503.33 L433.72,503.94 L434.21,504.38 L434.7,504.63 L435.2,504.64 L435.69,504.41 L436.18,503.95 L436.67,503.29 L437.17,502.45 L437.66,501.48 L438.15,500.4 L438.65,499.27 L439.14,498.11 L439.63,496.96 L440.12,495.86 L440.62,494.82 L441.11,493.84 L441.6,492.9 L442.09,491.98 L442.59,491.06 L443.08,490.15 L443.57,489.25 L444.07,488.39 L444.56,487.57 L445.05,486.82 L445.54,486.15 L446.04,485.56 L446.53,485.05 L447.02,484.58 L447.52,484.15 L448.01,483.74 L448.5,483.35 L448.99,482.99 L449.49,482.65 L449.98,482.35 L450.47,482.09 L450.97,481.88 L451.46,481.72 L451.95,481.62 L452.44,481.59 L452.94,481.61 L453.43,481.7 L453.92,481.85 L454.42,482.05 L454.91,482.3 L455.4,482.58 L455.89,482.89 L456.39,483.22 L456.88,483.57 L457.37,483.94 L457.87,484.36 L458.36,484.84 L458.85,485.38 L459.34,485.95 L459.84,486.5 L460.33,486.96 L460.82,487.26 L461.32,487.34 L461.81,487.16 L462.3,486.72 L462.79,486.05 L463.29,485.19 L463.78,484.19 L464.27,483.1 L464.76,481.97 L465.26,480.82 L465.75,479.68 L466.24,478.52 L466.74,477.32 L467.23,476.07 L467.72,474.78 L468.21,473.44 L468.71,472.08 L469.2,470.7 L469.69,469.32 L470.19,467.95 L470.68,466.58 L471.17,465.22 L471.66,463.86 L472.16,462.48 L472.65,461.09 L473.14,459.7 L473.64,458.32 L474.13,456.97 L474.62,455.66 L475.11,454.41 L475.61,453.23 L476.1,452.11 L476.59,451.04 L477.09,450.03 L477.58,449.04 L478.07,448.09 L478.56,447.18 L479.06,446.31 L479.55,445.5 L480.04,444.76 L480.54,444.08 L481.03,443.48 L481.52,442.94 L482.01,442.45 L482.51,442.01 L483,441.62 L483.49,441.28 L483.98,441.04 L484.48,440.9 L484.97,440.87 L485.46,440.97 L485.96,441.19 L486.45,441.52 L486.94,441.94 L487.43,442.45 L487.93,443.03 L488.42,443.66 L488.91,444.35 L489.41,445.07 L489.9,445.85 L490.39,446.69 L490.88,447.65 L491.38,448.73 L491.87,449.96 L492.36,451.31 L492.86,452.79 L493.35,454.35 L493.84,455.98 L494.33,457.66 L494.83,459.39 L495.32,461.18 L495.81,463.04 L496.31,465.01 L496.8,467.07 L497.29,469.21 L497.78,471.39 L498.28,473.59 L498.77,475.76 L499.26,477.88 L499.76,479.93 L500.25,481.92 L500.74,483.87 L501.23,485.78 L501.73,487.67 L502.22,489.52 L502.71,491.32 L503.2,493.04 L503.7,494.67 L504.19,496.21 L504.68,497.65 L505.18,499.02 L505.67,500.34 L506.16,501.64 L506.65,502.91 L507.15,504.13 L507.64,505.25 L508.13,506.25 L508.63,507.08 L509.12,507.72 L509.61,508.16 L510.1,508.42 L510.6,508.54 L511.09,508.58 L511.58,508.6 L512.08,508.6 L512.57,508.6 L513.06,508.6 L513.55,508.6 L514.05,508.6 L514.54,508.59 L515.03,508.58 L515.53,508.54 L516.02,508.48 L516.51,508.4 L517,508.29 L517.5,508.18 L517.99,508.06 L518.48,507.95 L518.98,507.85 L519.47,507.79 L519.96,507.78 L520.45,507.81 L520.95,507.91 L521.44,508.08 L521.93,508.3 L522.42,508.58 L522.92,508.9 L523.41,509.25 L523.9,509.63 L524.4,510.03 L524.89,510.43 L525.38,510.82 L525.87,511.21 L526.37,511.59 L526.86,511.96 L527.35,512.34 L527.85,512.74 L528.34,513.16 L528.83,513.58 L529.32,513.99 L529.82,514.36 L530.31,514.68 L530.8,514.93 L531.3,515.09 L531.79,515.13 L532.28,515.06 L532.77,514.87 L533.27,514.56 L533.76,514.18 L534.25,513.72 L534.75,513.22 L535.24,512.7 L535.73,512.16 L536.22,511.6 L536.72,510.99 L537.21,510.33 L537.7,509.64 L538.2,508.91 L538.69,508.17 L539.18,507.46 L539.67,506.78 L540.17,506.16 L540.66,505.61 L541.15,505.12 L541.64,504.68 L542.14,504.26 L542.63,503.86 L543.12,503.47 L543.62,503.11 L544.11,502.77 L544.6,502.47 L545.09,502.2 L545.59,501.99 L546.08,501.83 L546.57,501.73 L547.07,501.69 L547.56,501.71 L548.05,501.8 L548.54,501.94 L549.04,502.12 L549.53,502.34 L550.02,502.57 L550.52,502.81 L551.01,503.05 L551.5,503.27 L551.99,503.49 L552.49,503.71 L552.98,503.92 L553.47,504.15 L553.97,504.37 L554.46,504.59 L554.95,504.8 L555.44,505 L555.94,505.16 L556.43,505.29 L556.92,505.39 L557.42,505.44 L557.91,505.46 L558.4,505.45 L558.89,505.42 L559.39,505.37 L559.88,505.3 L560.37,505.22 L560.86,505.13 L561.36,505.04 L561.85,504.93 L562.34,504.82 L562.84,504.71 L563.33,504.59 L563.82,504.48 L564.31,504.36 L564.81,504.23 L565.3,504.1 L565.79,503.94 L566.29,503.77 L566.78,503.59 L567.27,503.41 L567.76,503.23 L568.26,503.07 L568.75,502.93 L569.24,502.83 L569.74,502.79 L570.23,502.8 L570.72,502.88 L571.21,503.03 L571.71,503.23 L572.2,503.47 L572.69,503.74 L573.19,504.02 L573.68,504.3 L574.17,504.57 L574.66,504.81 L575.16,505.03 L575.65,505.22 L576.14,505.39 L576.64,505.56 L577.13,505.71 L577.62,505.87 L578.11,506.03 L578.61,506.19 L579.1,506.37 L579.59,506.56 L580.08,506.78 L580.58,507.03 L581.07,507.32 L581.56,507.64 L582.06,507.99 L582.55,508.36 L583.04,508.75 L583.53,509.14 L584.03,509.53 L584.52,509.91 L585.01,510.27 L585.51,510.6 L586,510.9 L586.49,511.16 L586.98,511.36 L587.48,511.51 L587.97,511.61 L588.46,511.66 L588.96,511.67 L589.45,511.65 L589.94,511.62 L590.43,511.58 L590.93,511.52 L591.42,511.46 L591.91,511.39 L592.41,511.31 L592.9,511.23 L593.39,511.14 L593.88,511.04 L594.38,510.93 L594.87,510.83 L595.36,510.71 L595.86,510.6 L596.35,510.48 L596.84,510.36 L597.33,510.24 L597.83,510.11 L598.32,509.98 L598.81,509.83 L599.31,509.66 L599.8,509.48 L600.29,509.28 L600.78,509.06 L601.28,508.85 L601.77,508.63 L602.26,508.41 L602.75,508.21 L603.25,508.02 L603.74,507.84 L604.23,507.67 L604.73,507.51 L605.22,507.36 L605.71,507.21 L606.2,507.06 L606.7,506.92 L607.19,506.78 L607.68,506.64 L608.18,506.51 L608.67,506.38 L609.16,506.25 L609.65,506.13 L610.15,506.01 L610.64,505.9 L611.13,505.8 L611.63,505.69 L612.12,505.59 L612.61,505.5 L613.1,505.41 L613.6,505.31 L614.09,505.22 L614.58,505.13 L615.08,505.04 L615.57,504.95 L616.06,504.86 L616.55,504.77 L617.05,504.69 L617.54,504.62 L618.03,504.55 L618.53,504.49 L619.02,504.44 L619.51,504.39 L620,504.36 L620.5,504.33 L620.99,504.31 L621.48,504.31 L621.97,504.3 L622.47,504.3 L622.96,504.3 L623.45,504.3 L623.95,504.3 L624.44,504.3 L624.93,504.3 L625.42,504.3 L625.92,504.3 L626.41,504.3 L626.9,504.3 L627.4,504.3 L627.89,504.3 L628.38,504.3 L628.87,504.3 L629.37,504.3 L629.86,504.31 L630.35,504.32 L630.85,504.33 L631.34,504.36 L631.83,504.4 L632.32,504.46 L632.82,504.52 L633.31,504.59 L633.8,504.67 L634.3,504.76 L634.79,504.85 L635.28,504.95 L635.77,505.05 L636.27,505.15 L636.76,505.26 L637.25,505.36 L637.75,505.46 L638.24,505.57 L638.73,505.66 L639.22,505.76 L639.72,505.86 L640.21,505.96 L640.7,506.06 L641.19,506.16 L641.69,506.27 L642.18,506.38 L642.67,506.49 L643.17,506.6 L643.66,506.72 L644.15,506.84 L644.64,506.96 L645.14,507.09 L645.63,507.22 L646.12,507.35 L646.62,507.49 L647.11,507.63 L647.6,507.78 L648.09,507.93 L648.59,508.09 L649.08,508.26 L649.57,508.44 L650.07,508.62 L650.56,508.81 L651.05,509.01 L651.54,509.21 L652.04,509.41 L652.53,509.62 L653.02,509.83 L653.52,510.04 L654.01,510.25 L654.5,510.46 L654.99,510.67 L655.49,510.88 L655.98,511.09 L656.47,511.29 L656.97,511.5 L657.46,511.71 L657.95,511.92 L658.44,512.14 L658.94,512.37 L659.43,512.59 L659.92,512.82 L660.41,513.04 L660.91,513.26 L661.4,513.48 L661.89,513.69 L662.39,513.89 L662.88,514.09 L663.37,514.28 L663.86,514.45 L664.36,514.61 L664.85,514.76 L665.34,514.9 L665.84,515.02 L666.33,515.13 L666.82,515.23 L667.31,515.32 L667.81,515.4 L668.3,515.45" fill="none" stroke="#ff8000" stroke-width="1.5" stroke-linejoin="round" stroke-dasharray="4.4,2.3"/>
<path d="M373.1,516.52 L373.59,516.53 L374.09,516.55 L374.58,516.57 L375.07,516.59 L375.56,516.61 L376.06,516.63 L376.55,516.65 L377.04,516.66 L377.54,516.68 L378.03,516.69 L378.52,516.7 L379.01,516.72 L379.51,516.73 L380,516.74 L380.49,516.75 L380.99,516.75 L381.48,516.76 L381.97,516.77 L382.46,516.77 L382.96,516.78 L383.45,516.78 L383.94,516.79 L384.43,516.79 L384.93,516.79 L385.42,516.79 L385.91,516.8 L386.41,516.8 L386.9,516.8 L387.39,516.8 L387.88,516.8 L388.38,516.8 L388.87,516.8 L389.36,516.8 L389.86,516.8 L390.35,516.79 L390.84,516.79 L391.33,516.78 L391.83,516.77 L392.32,516.75 L392.81,516.73 L393.31,516.71 L393.8,516.68 L394.29,516.66 L394.78,516.63 L395.28,516.6 L395.77,516.56 L396.26,516.53 L396.76,516.49 L397.25,516.46 L397.74,516.42 L398.23,516.39 L398.73,516.35 L399.22,516.31 L399.71,516.28 L400.21,516.24 L400.7,516.21 L401.19,516.18 L401.68,516.15 L402.18,516.12 L402.67,516.09 L403.16,516.07 L403.65,516.05 L404.15,516.03 L404.64,516.01 L405.13,516 L405.63,515.99 L406.12,515.98 L406.61,515.97 L407.1,515.96 L407.6,515.95 L408.09,515.94 L408.58,515.93 L409.08,515.92 L409.57,515.91 L410.06,515.9 L410.55,515.89 L411.05,515.88 L411.54,515.88 L412.03,515.87 L412.53,515.86 L413.02,515.85 L413.51,515.85 L414,515.84 L414.5,515.83 L414.99,515.83 L415.48,515.82 L415.98,515.82 L416.47,515.82 L416.96,515.81 L417.45,515.81 L417.95,515.81 L418.44,515.8 L418.93,515.8 L419.43,515.8 L419.92,515.8 L420.41,515.81 L420.9,515.81 L421.4,515.82 L421.89,515.83 L422.38,515.85 L422.87,515.87 L423.37,515.89 L423.86,515.91 L424.35,515.94 L424.85,515.97 L425.34,516 L425.83,516.03 L426.32,516.07 L426.82,516.1 L427.31,516.14 L427.8,516.17 L428.3,516.21 L428.79,516.25 L429.28,516.29 L429.77,516.32 L430.27,516.36 L430.76,516.4 L431.25,516.43 L431.75,516.47 L432.24,516.5 L432.73,516.53 L433.22,516.56 L433.72,516.58 L434.21,516.61 L434.7,516.63 L435.2,516.65 L435.69,516.67 L436.18,516.68 L436.67,516.69 L437.17,516.69 L437.66,516.68 L438.15,516.65 L438.65,516.6 L439.14,516.53 L439.63,516.43 L440.12,516.32 L440.62,516.2 L441.11,516.06 L441.6,515.92 L442.09,515.77 L442.59,515.63 L443.08,515.49 L443.57,515.35 L444.07,515.23 L444.56,515.13 L445.05,515.04 L445.54,514.98 L446.04,514.94 L446.53,514.93 L447.02,514.93 L447.52,514.96 L448.01,514.99 L448.5,515.04 L448.99,515.1 L449.49,515.16 L449.98,515.23 L450.47,515.3 L450.97,515.37 L451.46,515.45 L451.95,515.52 L452.44,515.58 L452.94,515.64 L453.43,515.69 L453.92,515.73 L454.42,515.76 L454.91,515.76 L455.4,515.74 L455.89,515.68 L456.39,515.58 L456.88,515.43 L457.37,515.26 L457.87,515.05 L458.36,514.82 L458.85,514.58 L459.34,514.34 L459.84,514.1 L460.33,513.88 L460.82,513.67 L461.32,513.49 L461.81,513.33 L462.3,513.2 L462.79,513.1 L463.29,513 L463.78,512.91 L464.27,512.82 L464.76,512.74 L465.26,512.66 L465.75,512.58 L466.24,512.52 L466.74,512.46 L467.23,512.41 L467.72,512.37 L468.21,512.34 L468.71,512.33 L469.2,512.34 L469.69,512.37 L470.19,512.44 L470.68,512.54 L471.17,512.67 L471.66,512.82 L472.16,512.99 L472.65,513.16 L473.14,513.34 L473.64,513.51 L474.13,513.67 L474.62,513.81 L475.11,513.92 L475.61,513.99 L476.1,514.01 L476.59,513.97 L477.09,513.86 L477.58,513.66 L478.07,513.38 L478.56,513.03 L479.06,512.62 L479.55,512.16 L480.04,511.65 L480.54,511.1 L481.03,510.54 L481.52,509.95 L482.01,509.37 L482.51,508.79 L483,508.22 L483.49,507.68 L483.98,507.17 L484.48,506.7 L484.97,506.27 L485.46,505.87 L485.96,505.5 L486.45,505.14 L486.94,504.8 L487.43,504.46 L487.93,504.13 L488.42,503.79 L488.91,503.45 L489.41,503.1 L489.9,502.74 L490.39,502.35 L490.88,501.94 L491.38,501.5 L491.87,501.03 L492.36,500.56 L492.86,500.09 L493.35,499.63 L493.84,499.2 L494.33,498.81 L494.83,498.46 L495.32,498.18 L495.81,497.97 L496.31,497.84 L496.8,497.78 L497.29,497.78 L497.78,497.83 L498.28,497.91 L498.77,498.03 L499.26,498.17 L499.76,498.32 L500.25,498.5 L500.74,498.68 L501.23,498.88 L501.73,499.09 L502.22,499.31 L502.71,499.57 L503.2,499.88 L503.7,500.23 L504.19,500.64 L504.68,501.08 L505.18,501.53 L505.67,501.98 L506.16,502.4 L506.65,502.78 L507.15,503.09 L507.64,503.31 L508.13,503.44 L508.63,503.47 L509.12,503.41 L509.61,503.27 L510.1,503.05 L510.6,502.78 L511.09,502.44 L511.58,502.07 L512.08,501.65 L512.57,501.19 L513.06,500.71 L513.55,500.22 L514.05,499.7 L514.54,499.17 L515.03,498.6 L515.53,497.98 L516.02,497.29 L516.51,496.51 L517,495.65 L517.5,494.73 L517.99,493.76 L518.48,492.78 L518.98,491.78 L519.47,490.81 L519.96,489.88 L520.45,489 L520.95,488.19 L521.44,487.46 L521.93,486.79 L522.42,486.17 L522.92,485.57 L523.41,484.98 L523.9,484.42 L524.4,483.88 L524.89,483.39 L525.38,482.94 L525.87,482.57 L526.37,482.27 L526.86,482.06 L527.35,481.95 L527.85,481.95 L528.34,482.05 L528.83,482.24 L529.32,482.51 L529.82,482.87 L530.31,483.29 L530.8,483.76 L531.3,484.28 L531.79,484.84 L532.28,485.42 L532.77,486.03 L533.27,486.68 L533.76,487.39 L534.25,488.18 L534.75,489.08 L535.24,490.06 L535.73,491.12 L536.22,492.21 L536.72,493.3 L537.21,494.36 L537.7,495.36 L538.2,496.3 L538.69,497.18 L539.18,498 L539.67,498.74 L540.17,499.32 L540.66,499.68 L541.15,499.76 L541.64,499.54 L542.14,499.04 L542.63,498.3 L543.12,497.37 L543.62,496.31 L544.11,495.15 L544.6,493.92 L545.09,492.61 L545.59,491.19 L546.08,489.62 L546.57,487.9 L547.07,486.06 L547.56,484.12 L548.05,482.11 L548.54,480.07 L549.04,478.02 L549.53,475.97 L550.02,473.91 L550.52,471.8 L551.01,469.63 L551.5,467.43 L551.99,465.22 L552.49,463.02 L552.98,460.89 L553.47,458.86 L553.97,456.96 L554.46,455.21 L554.95,453.62 L555.44,452.16 L555.94,450.79 L556.43,449.51 L556.92,448.3 L557.42,447.18 L557.91,446.16 L558.4,445.24 L558.89,444.44 L559.39,443.75 L559.88,443.14 L560.37,442.59 L560.86,442.09 L561.36,441.62 L561.85,441.2 L562.34,440.84 L562.84,440.54 L563.33,440.31 L563.82,440.18 L564.31,440.16 L564.81,440.25 L565.3,440.46 L565.79,440.78 L566.29,441.19 L566.78,441.67 L567.27,442.2 L567.76,442.78 L568.26,443.41 L568.75,444.11 L569.24,444.9 L569.74,445.77 L570.23,446.74 L570.72,447.79 L571.21,448.94 L571.71,450.2 L572.2,451.59 L572.69,453.13 L573.19,454.82 L573.68,456.64 L574.17,458.55 L574.66,460.53 L575.16,462.54 L575.65,464.57 L576.14,466.61 L576.64,468.67 L577.13,470.76 L577.62,472.89 L578.11,475.04 L578.61,477.2 L579.1,479.37 L579.59,481.53 L580.08,483.69 L580.58,485.86 L581.07,488.03 L581.56,490.18 L582.06,492.29 L582.55,494.31 L583.04,496.22 L583.53,498.04 L584.03,499.78 L584.52,501.43 L585.01,502.96 L585.51,504.3 L586,505.36 L586.49,506.12 L586.98,506.62 L587.48,506.93 L587.97,507.13 L588.46,507.27 L588.96,507.37 L589.45,507.43 L589.94,507.45 L590.43,507.45 L590.93,507.41 L591.42,507.36 L591.91,507.28 L592.41,507.19 L592.9,507.09 L593.39,506.99 L593.88,506.9 L594.38,506.81 L594.87,506.73 L595.36,506.66 L595.86,506.59 L596.35,506.52 L596.84,506.46 L597.33,506.4 L597.83,506.34 L598.32,506.28 L598.81,506.23 L599.31,506.19 L599.8,506.16 L600.29,506.13 L600.78,506.13 L601.28,506.14 L601.77,506.18 L602.26,506.24 L602.75,506.34 L603.25,506.46 L603.74,506.61 L604.23,506.77 L604.73,506.95 L605.22,507.15 L605.71,507.35 L606.2,507.56 L606.7,507.77 L607.19,507.97 L607.68,508.17 L608.18,508.36 L608.67,508.54 L609.16,508.71 L609.65,508.87 L610.15,509.03 L610.64,509.19 L611.13,509.34 L611.63,509.5 L612.12,509.66 L612.61,509.81 L613.1,509.96 L613.6,510.12 L614.09,510.27 L614.58,510.42 L615.08,510.56 L615.57,510.7 L616.06,510.84 L616.55,510.98 L617.05,511.11 L617.54,511.23 L618.03,511.36 L618.53,511.49 L619.02,511.62 L619.51,511.75 L620,511.88 L620.5,512.02 L620.99,512.15 L621.48,512.28 L621.97,512.4 L622.47,512.52 L622.96,512.63 L623.45,512.74 L623.95,512.83 L624.44,512.91 L624.93,512.97 L625.42,513.02 L625.92,513.06 L626.41,513.07 L626.9,513.07 L627.4,513.05 L627.89,513 L628.38,512.95 L628.87,512.87 L629.37,512.78 L629.86,512.68 L630.35,512.57 L630.85,512.45 L631.34,512.33 L631.83,512.2 L632.32,512.06 L632.82,511.93 L633.31,511.8 L633.8,511.68 L634.3,511.55 L634.79,511.44 L635.28,511.33 L635.77,511.22 L636.27,511.11 L636.76,510.99 L637.25,510.87 L637.75,510.75 L638.24,510.62 L638.73,510.5 L639.22,510.38 L639.72,510.26 L640.21,510.14 L640.7,510.04 L641.19,509.94 L641.69,509.85 L642.18,509.77 L642.67,509.71 L643.17,509.67 L643.66,509.63 L644.15,509.62 L644.64,509.62 L645.14,509.64 L645.63,509.67 L646.12,509.71 L646.62,509.75 L647.11,509.81 L647.6,509.88 L648.09,509.95 L648.59,510.03 L649.08,510.11 L649.57,510.2 L650.07,510.29 L650.56,510.38 L651.05,510.48 L651.54,510.59 L652.04,510.72 L652.53,510.86 L653.02,511.02 L653.52,511.19 L654.01,511.38 L654.5,511.57 L654.99,511.77 L655.49,511.98 L655.98,512.19 L656.47,512.4 L656.97,512.6 L657.46,512.8 L657.95,513 L658.44,513.2 L658.94,513.4 L659.43,513.6 L659.92,513.81 L660.41,514.02 L660.91,514.23 L661.4,514.44 L661.89,514.65 L662.39,514.84 L662.88,515.03 L663.37,515.2 L663.86,515.35 L664.36,515.48 L664.85,515.59 L665.34,515.69 L665.84,515.76 L666.33,515.83 L666.82,515.89 L667.31,515.93 L667.81,515.96 L668.3,515.98" fill="none" stroke="#ff0000" stroke-width="1.5" stroke-linejoin="round"/>
<path d="M373.1,517.18 L373.59,517.15 L374.09,517.12 L374.58,517.09 L375.07,517.05 L375.56,517.02 L376.06,516.98 L376.55,516.95 L377.04,516.92 L377.54,516.89 L378.03,516.86 L378.52,516.83 L379.01,516.8 L379.51,516.78 L380,516.75 L380.49,516.73 L380.99,516.7 L381.48,516.68 L381.97,516.66 L382.46,516.64 L382.96,516.63 L383.45,516.61 L383.94,516.59 L384.43,516.58 L384.93,516.57 L385.42,516.55 L385.91,516.54 L386.41,516.53 L386.9,516.53 L387.39,516.52 L387.88,516.51 L388.38,516.51 L388.87,516.5 L389.36,516.5 L389.86,516.5 L390.35,516.5 L390.84,516.51 L391.33,516.51 L391.83,516.52 L392.32,516.54 L392.81,516.55 L393.31,516.56 L393.8,516.58 L394.29,516.6 L394.78,516.62 L395.28,516.64 L395.77,516.67 L396.26,516.69 L396.76,516.71 L397.25,516.74 L397.74,516.76 L398.23,516.79 L398.73,516.81 L399.22,516.83 L399.71,516.86 L400.21,516.88 L400.7,516.9 L401.19,516.92 L401.68,516.94 L402.18,516.95 L402.67,516.96 L403.16,516.98 L403.65,516.99 L404.15,516.99 L404.64,516.99 L405.13,516.99 L405.63,516.99 L406.12,516.97 L406.61,516.95 L407.1,516.93 L407.6,516.9 L408.09,516.86 L408.58,516.82 L409.08,516.78 L409.57,516.73 L410.06,516.68 L410.55,516.63 L411.05,516.57 L411.54,516.51 L412.03,516.46 L412.53,516.4 L413.02,516.34 L413.51,516.28 L414,516.22 L414.5,516.17 L414.99,516.12 L415.48,516.06 L415.98,516.02 L416.47,515.97 L416.96,515.93 L417.45,515.9 L417.95,515.87 L418.44,515.84 L418.93,515.83 L419.43,515.82 L419.92,515.82 L420.41,515.83 L420.9,515.86 L421.4,515.91 L421.89,515.97 L422.38,516.05 L422.87,516.14 L423.37,516.23 L423.86,516.33 L424.35,516.44 L424.85,516.55 L425.34,516.65 L425.83,516.75 L426.32,516.84 L426.82,516.91 L427.31,516.98 L427.8,517.03 L428.3,517.06 L428.79,517.08 L429.28,517.07 L429.77,517.05 L430.27,517.01 L430.76,516.96 L431.25,516.9 L431.75,516.83 L432.24,516.75 L432.73,516.66 L433.22,516.57 L433.72,516.48 L434.21,516.38 L434.7,516.29 L435.2,516.2 L435.69,516.11 L436.18,516.02 L436.67,515.94 L437.17,515.87 L437.66,515.8 L438.15,515.74 L438.65,515.68 L439.14,515.62 L439.63,515.57 L440.12,515.52 L440.62,515.46 L441.11,515.41 L441.6,515.36 L442.09,515.31 L442.59,515.27 L443.08,515.22 L443.57,515.17 L444.07,515.12 L444.56,515.08 L445.05,515.03 L445.54,514.98 L446.04,514.94 L446.53,514.89 L447.02,514.85 L447.52,514.81 L448.01,514.77 L448.5,514.73 L448.99,514.7 L449.49,514.66 L449.98,514.63 L450.47,514.59 L450.97,514.56 L451.46,514.52 L451.95,514.48 L452.44,514.43 L452.94,514.38 L453.43,514.33 L453.92,514.27 L454.42,514.2 L454.91,514.12 L455.4,514.02 L455.89,513.88 L456.39,513.71 L456.88,513.5 L457.37,513.24 L457.87,512.96 L458.36,512.64 L458.85,512.29 L459.34,511.92 L459.84,511.52 L460.33,511.11 L460.82,510.69 L461.32,510.26 L461.81,509.82 L462.3,509.38 L462.79,508.95 L463.29,508.52 L463.78,508.09 L464.27,507.65 L464.76,507.21 L465.26,506.75 L465.75,506.28 L466.24,505.78 L466.74,505.28 L467.23,504.76 L467.72,504.24 L468.21,503.71 L468.71,503.18 L469.2,502.65 L469.69,502.12 L470.19,501.59 L470.68,501.08 L471.17,500.58 L471.66,500.09 L472.16,499.62 L472.65,499.16 L473.14,498.71 L473.64,498.27 L474.13,497.83 L474.62,497.39 L475.11,496.96 L475.61,496.53 L476.1,496.1 L476.59,495.68 L477.09,495.27 L477.58,494.87 L478.07,494.48 L478.56,494.1 L479.06,493.73 L479.55,493.37 L480.04,493.03 L480.54,492.71 L481.03,492.4 L481.52,492.1 L482.01,491.82 L482.51,491.54 L483,491.27 L483.49,491.02 L483.98,490.78 L484.48,490.56 L484.97,490.36 L485.46,490.19 L485.96,490.03 L486.45,489.9 L486.94,489.77 L487.43,489.65 L487.93,489.54 L488.42,489.43 L488.91,489.34 L489.41,489.26 L489.9,489.2 L490.39,489.16 L490.88,489.14 L491.38,489.15 L491.87,489.2 L492.36,489.29 L492.86,489.41 L493.35,489.56 L493.84,489.74 L494.33,489.94 L494.83,490.16 L495.32,490.42 L495.81,490.73 L496.31,491.09 L496.8,491.51 L497.29,491.97 L497.78,492.48 L498.28,493.02 L498.77,493.57 L499.26,494.14 L499.76,494.72 L500.25,495.29 L500.74,495.85 L501.23,496.4 L501.73,496.94 L502.22,497.5 L502.71,498.07 L503.2,498.68 L503.7,499.3 L504.19,499.94 L504.68,500.58 L505.18,501.21 L505.67,501.81 L506.16,502.37 L506.65,502.88 L507.15,503.33 L507.64,503.71 L508.13,503.99 L508.63,504.18 L509.12,504.27 L509.61,504.26 L510.1,504.16 L510.6,503.98 L511.09,503.73 L511.58,503.42 L512.08,503.06 L512.57,502.65 L513.06,502.21 L513.55,501.75 L514.05,501.26 L514.54,500.76 L515.03,500.26 L515.53,499.76 L516.02,499.26 L516.51,498.78 L517,498.28 L517.5,497.78 L517.99,497.25 L518.48,496.71 L518.98,496.16 L519.47,495.61 L519.96,495.07 L520.45,494.56 L520.95,494.06 L521.44,493.57 L521.93,493.08 L522.42,492.58 L522.92,492.1 L523.41,491.64 L523.9,491.22 L524.4,490.87 L524.89,490.59 L525.38,490.41 L525.87,490.32 L526.37,490.33 L526.86,490.4 L527.35,490.54 L527.85,490.72 L528.34,490.93 L528.83,491.17 L529.32,491.43 L529.82,491.72 L530.31,492.04 L530.8,492.41 L531.3,492.82 L531.79,493.28 L532.28,493.79 L532.77,494.37 L533.27,495.03 L533.76,495.82 L534.25,496.74 L534.75,497.82 L535.24,499.03 L535.73,500.32 L536.22,501.63 L536.72,502.94 L537.21,504.21 L537.7,505.45 L538.2,506.67 L538.69,507.87 L539.18,509.01 L539.67,510.02 L540.17,510.8 L540.66,511.27 L541.15,511.38 L541.64,511.14 L542.14,510.57 L542.63,509.73 L543.12,508.67 L543.62,507.44 L544.11,506.09 L544.6,504.61 L545.09,502.99 L545.59,501.19 L546.08,499.25 L546.57,497.27 L547.07,495.36 L547.56,493.56 L548.05,491.86 L548.54,490.24 L549.04,488.66 L549.53,487.12 L550.02,485.63 L550.52,484.17 L551.01,482.77 L551.5,481.41 L551.99,480.1 L552.49,478.85 L552.98,477.65 L553.47,476.51 L553.97,475.43 L554.46,474.41 L554.95,473.45 L555.44,472.54 L555.94,471.68 L556.43,470.86 L556.92,470.09 L557.42,469.38 L557.91,468.74 L558.4,468.17 L558.89,467.66 L559.39,467.21 L559.88,466.79 L560.37,466.4 L560.86,466.05 L561.36,465.74 L561.85,465.47 L562.34,465.28 L562.84,465.16 L563.33,465.12 L563.82,465.18 L564.31,465.31 L564.81,465.53 L565.3,465.8 L565.79,466.12 L566.29,466.48 L566.78,466.86 L567.27,467.28 L567.76,467.74 L568.26,468.26 L568.75,468.83 L569.24,469.46 L569.74,470.14 L570.23,470.88 L570.72,471.67 L571.21,472.52 L571.71,473.45 L572.2,474.47 L572.69,475.6 L573.19,476.85 L573.68,478.19 L574.17,479.6 L574.66,481.05 L575.16,482.51 L575.65,483.97 L576.14,485.43 L576.64,486.9 L577.13,488.38 L577.62,489.88 L578.11,491.37 L578.61,492.83 L579.1,494.23 L579.59,495.58 L580.08,496.88 L580.58,498.16 L581.07,499.43 L581.56,500.71 L582.06,501.98 L582.55,503.23 L583.04,504.44 L583.53,505.57 L584.03,506.62 L584.52,507.55 L585.01,508.34 L585.51,508.98 L586,509.45 L586.49,509.76 L586.98,509.95 L587.48,510.06 L587.97,510.12 L588.46,510.16 L588.96,510.2 L589.45,510.23 L589.94,510.26 L590.43,510.28 L590.93,510.3 L591.42,510.33 L591.91,510.35 L592.41,510.37 L592.9,510.39 L593.39,510.41 L593.88,510.44 L594.38,510.46 L594.87,510.49 L595.36,510.53 L595.86,510.56 L596.35,510.59 L596.84,510.63 L597.33,510.66 L597.83,510.7 L598.32,510.73 L598.81,510.77 L599.31,510.82 L599.8,510.86 L600.29,510.91 L600.78,510.97 L601.28,511.04 L601.77,511.11 L602.26,511.19 L602.75,511.29 L603.25,511.4 L603.74,511.51 L604.23,511.64 L604.73,511.77 L605.22,511.91 L605.71,512.05 L606.2,512.2 L606.7,512.35 L607.19,512.5 L607.68,512.66 L608.18,512.81 L608.67,512.97 L609.16,513.13 L609.65,513.31 L610.15,513.5 L610.64,513.7 L611.13,513.92 L611.63,514.15 L612.12,514.38 L612.61,514.62 L613.1,514.86 L613.6,515.09 L614.09,515.31 L614.58,515.52 L615.08,515.71 L615.57,515.87 L616.06,516.01 L616.55,516.13 L617.05,516.2 L617.54,516.25 L618.03,516.27 L618.53,516.26 L619.02,516.22 L619.51,516.18 L620,516.11 L620.5,516.04 L620.99,515.95 L621.48,515.85 L621.97,515.74 L622.47,515.62 L622.96,515.5 L623.45,515.37 L623.95,515.24 L624.44,515.1 L624.93,514.97 L625.42,514.83 L625.92,514.69 L626.41,514.54 L626.9,514.4 L627.4,514.23 L627.89,514.06 L628.38,513.87 L628.87,513.67 L629.37,513.45 L629.86,513.23 L630.35,513.01 L630.85,512.78 L631.34,512.55 L631.83,512.32 L632.32,512.1 L632.82,511.89 L633.31,511.69 L633.8,511.5 L634.3,511.33 L634.79,511.18 L635.28,511.05 L635.77,510.92 L636.27,510.8 L636.76,510.69 L637.25,510.58 L637.75,510.47 L638.24,510.37 L638.73,510.26 L639.22,510.17 L639.72,510.07 L640.21,509.99 L640.7,509.91 L641.19,509.84 L641.69,509.77 L642.18,509.72 L642.67,509.68 L643.17,509.64 L643.66,509.63 L644.15,509.62 L644.64,509.63 L645.14,509.66 L645.63,509.71 L646.12,509.77 L646.62,509.86 L647.11,509.95 L647.6,510.06 L648.09,510.18 L648.59,510.31 L649.08,510.45 L649.57,510.6 L650.07,510.75 L650.56,510.91 L651.05,511.07 L651.54,511.23 L652.04,511.39 L652.53,511.55 L653.02,511.72 L653.52,511.9 L654.01,512.1 L654.5,512.32 L654.99,512.55 L655.49,512.8 L655.98,513.06 L656.47,513.33 L656.97,513.6 L657.46,513.87 L657.95,514.14 L658.44,514.4 L658.94,514.65 L659.43,514.88 L659.92,515.1 L660.41,515.29 L660.91,515.46 L661.4,515.6 L661.89,515.72 L662.39,515.83 L662.88,515.93 L663.37,516.03 L663.86,516.12 L664.36,516.21 L664.85,516.29 L665.34,516.36 L665.84,516.42 L666.33,516.48 L666.82,516.52 L667.31,516.56 L667.81,516.58 L668.3,516.59" fill="none" stroke="#0000ff" stroke-width="1.5" stroke-linejoin="round"/>
</g>
<rect x="373.1" y="309.7" width="295.2" height="208.6" fill="none" stroke="#000" stroke-width="1.4"/>
<line x1="367.1" y1="518.3" x2="373.1" y2="518.3" stroke="#000" stroke-width="1.4"/>
<text x="362.2" y="522.4" font-size="13.4" text-anchor="end" stroke="#000" stroke-width="0.25" >0.00</text>
<line x1="370.1" y1="483.53" x2="373.1" y2="483.53" stroke="#000" stroke-width="1.4"/>
<line x1="367.1" y1="448.77" x2="373.1" y2="448.77" stroke="#000" stroke-width="1.4"/>
<text x="362.2" y="452.87" font-size="13.4" text-anchor="end" stroke="#000" stroke-width="0.25" >0.02</text>
<line x1="370.1" y1="414" x2="373.1" y2="414" stroke="#000" stroke-width="1.4"/>
<line x1="367.1" y1="379.23" x2="373.1" y2="379.23" stroke="#000" stroke-width="1.4"/>
<text x="362.2" y="383.33" font-size="13.4" text-anchor="end" stroke="#000" stroke-width="0.25" >0.04</text>
<line x1="370.1" y1="344.47" x2="373.1" y2="344.47" stroke="#000" stroke-width="1.4"/>
<line x1="367.1" y1="309.7" x2="373.1" y2="309.7" stroke="#000" stroke-width="1.4"/>
<text x="362.2" y="313.8" font-size="13.4" text-anchor="end" stroke="#000" stroke-width="0.25" >0.06</text>
<line x1="373.1" y1="518.3" x2="373.1" y2="524.3" stroke="#000" stroke-width="1.4"/>
<text x="373.1" y="539.3" font-size="13.4" text-anchor="middle" stroke="#000" stroke-width="0.25" >0</text>
<line x1="410" y1="518.3" x2="410" y2="521.3" stroke="#000" stroke-width="1.4"/>
<line x1="446.9" y1="518.3" x2="446.9" y2="524.3" stroke="#000" stroke-width="1.4"/>
<text x="446.9" y="539.3" font-size="13.4" text-anchor="middle" stroke="#000" stroke-width="0.25" >1</text>
<line x1="483.8" y1="518.3" x2="483.8" y2="521.3" stroke="#000" stroke-width="1.4"/>
<line x1="520.7" y1="518.3" x2="520.7" y2="524.3" stroke="#000" stroke-width="1.4"/>
<text x="520.7" y="539.3" font-size="13.4" text-anchor="middle" stroke="#000" stroke-width="0.25" >2</text>
<line x1="557.6" y1="518.3" x2="557.6" y2="521.3" stroke="#000" stroke-width="1.4"/>
<line x1="594.5" y1="518.3" x2="594.5" y2="524.3" stroke="#000" stroke-width="1.4"/>
<text x="594.5" y="539.3" font-size="13.4" text-anchor="middle" stroke="#000" stroke-width="0.25" >3</text>
<line x1="631.4" y1="518.3" x2="631.4" y2="521.3" stroke="#000" stroke-width="1.4"/>
<line x1="668.3" y1="518.3" x2="668.3" y2="524.3" stroke="#000" stroke-width="1.4"/>
<text x="668.3" y="539.3" font-size="13.4" text-anchor="middle" stroke="#000" stroke-width="0.25" >4</text>
<text x="521.2" y="565.5" font-size="13.4" text-anchor="middle" stroke="#000" stroke-width="0.25" ><tspan font-style="italic">R</tspan> (Å)</text>
<text x="329.6" y="414" font-size="13.4" text-anchor="middle" stroke="#000" stroke-width="0.25" transform="rotate(-90 329.6 414)">|<tspan font-style="italic">χ</tspan>(<tspan font-style="italic">R</tspan>)| (Å<tspan font-size="9" dy="-4.5">-3</tspan><tspan dy="4.5">)</tspan></text>
<line x1="379.5" y1="319.8" x2="411.2" y2="319.8" stroke="#ff0000" stroke-width="1.5"/>
<text x="414.4" y="324.4" font-size="13.4" text-anchor="start" stroke="#000" stroke-width="0.25" >PdOAc/SiO<tspan font-size="9.5" dy="3.9">2</tspan></text>
<line x1="379.5" y1="339.6" x2="411.2" y2="339.6" stroke="#0000ff" stroke-width="1.5"/>
<text x="414.4" y="344" font-size="13.4" text-anchor="start" stroke="#000" stroke-width="0.25" >PdOAc/KOAc/SiO<tspan font-size="9.5" dy="3.9">2</tspan></text>
<line x1="379.5" y1="359.5" x2="411.2" y2="359.5" stroke="#000000" stroke-width="1.5" stroke-dasharray="4.4,2.3"/>
<text x="414.4" y="363.7" font-size="13.4" text-anchor="start" stroke="#000" stroke-width="0.25" >Pd foil</text>
<line x1="379.5" y1="376.7" x2="411.2" y2="376.7" stroke="#008000" stroke-width="1.5" stroke-dasharray="4.4,2.3"/>
<text x="414.4" y="380.9" font-size="13.4" text-anchor="start" stroke="#000" stroke-width="0.25" >PdO</text>
<line x1="379.5" y1="393.6" x2="411.2" y2="393.6" stroke="#ff8000" stroke-width="1.5" stroke-dasharray="4.4,2.3"/>
<text x="414.4" y="397.5" font-size="13.4" text-anchor="start" stroke="#000" stroke-width="0.25" >Pd(acac)<tspan font-size="9.5" dy="3.9">2</tspan></text>
<text x="2.7" y="8.3" font-size="14.5" text-anchor="start" stroke="#000" stroke-width="0.3" font-weight="bold">a</text>
<text x="2.6" y="301.9" font-size="14.5" text-anchor="start" stroke="#000" stroke-width="0.3" font-weight="bold">b</text>
<text x="326" y="8.3" font-size="14.5" text-anchor="start" stroke="#000" stroke-width="0.3" font-weight="bold">c</text>
<text x="325.6" y="301.9" font-size="14.5" text-anchor="start" stroke="#000" stroke-width="0.3" font-weight="bold">d</text>
</svg>
</body></html>
